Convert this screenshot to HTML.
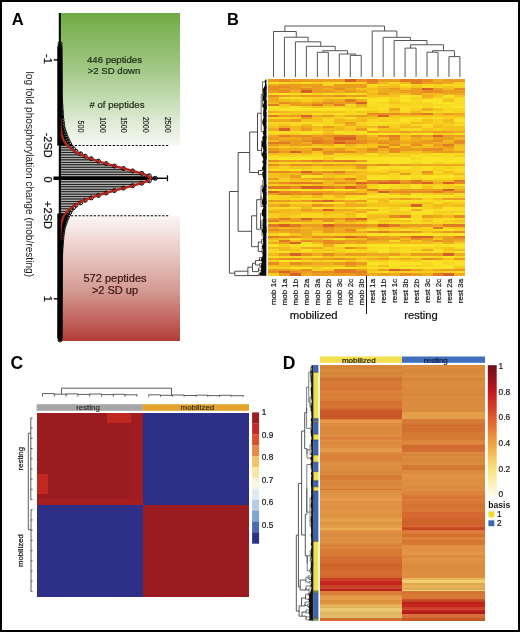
<!DOCTYPE html>
<html><head><meta charset="utf-8"><style>html,body{margin:0;padding:0;background:#fff;}body{width:520px;height:632px;position:relative;overflow:hidden;font-family:"Liberation Sans", sans-serif;}</style></head><body>
<svg width="520" height="632" viewBox="0 0 520 632" style="position:absolute;left:0;top:0;will-change:transform;font-family:'Liberation Sans', sans-serif">
<rect x="0.00" y="0.00" width="520.00" height="632.00" fill="#fff"/>
<defs><linearGradient id="gG" x1="0" y1="0" x2="0" y2="1"><stop offset="0" stop-color="#70ab44"/><stop offset="0.45" stop-color="#a5ca8a"/><stop offset="0.8" stop-color="#dce9d1"/><stop offset="1" stop-color="#f6f9f3"/></linearGradient><linearGradient id="gR" x1="0" y1="0" x2="0" y2="1"><stop offset="0" stop-color="#fbf6f5"/><stop offset="0.25" stop-color="#ecd0cc"/><stop offset="0.6" stop-color="#d49a92"/><stop offset="1" stop-color="#b43c37"/></linearGradient></defs>
<rect x="60.00" y="13.00" width="120.00" height="132.50" fill="url(#gG)"/>
<rect x="60.00" y="215.70" width="120.00" height="125.30" fill="url(#gR)"/>
<text x="114.50" y="62.80" font-size="9.60" text-anchor="middle" font-weight="normal" fill="#1d2a14" stroke="#1d2a14" stroke-width="0.22">446 peptides</text>
<text x="114.00" y="73.90" font-size="9.60" text-anchor="middle" font-weight="normal" fill="#1d2a14" stroke="#1d2a14" stroke-width="0.22">&gt;2 SD down</text>
<text x="115.00" y="281.80" font-size="11.00" text-anchor="middle" font-weight="normal" fill="#3a1512" stroke="#3a1512" stroke-width="0.22">572 peptides</text>
<text x="115.00" y="293.90" font-size="11.00" text-anchor="middle" font-weight="normal" fill="#3a1512" stroke="#3a1512" stroke-width="0.22">&gt;2 SD up</text>
<text x="117.00" y="108.10" font-size="9.60" text-anchor="middle" font-weight="normal" fill="#1d2a14" stroke="#1d2a14" stroke-width="0.22"># of peptides</text>
<text x="0.00" y="0.00" font-size="8.20" text-anchor="end" font-weight="normal" fill="#1a1a1a" transform="translate(78.20 132.70) rotate(90)" textLength="12.3" lengthAdjust="spacingAndGlyphs" stroke="#1a1a1a" stroke-width="0.12">500</text>
<text x="0.00" y="0.00" font-size="8.20" text-anchor="end" font-weight="normal" fill="#1a1a1a" transform="translate(99.80 132.70) rotate(90)" textLength="15.8" lengthAdjust="spacingAndGlyphs" stroke="#1a1a1a" stroke-width="0.12">1000</text>
<text x="0.00" y="0.00" font-size="8.20" text-anchor="end" font-weight="normal" fill="#1a1a1a" transform="translate(121.40 132.70) rotate(90)" textLength="15.8" lengthAdjust="spacingAndGlyphs" stroke="#1a1a1a" stroke-width="0.12">1500</text>
<text x="0.00" y="0.00" font-size="8.20" text-anchor="end" font-weight="normal" fill="#1a1a1a" transform="translate(143.00 132.70) rotate(90)" textLength="15.8" lengthAdjust="spacingAndGlyphs" stroke="#1a1a1a" stroke-width="0.12">2000</text>
<text x="0.00" y="0.00" font-size="8.20" text-anchor="end" font-weight="normal" fill="#1a1a1a" transform="translate(164.60 132.70) rotate(90)" textLength="15.8" lengthAdjust="spacingAndGlyphs" stroke="#1a1a1a" stroke-width="0.12">2500</text>
<line x1="71.00" y1="145.50" x2="169.00" y2="145.50" stroke="#000" stroke-width="1.10" stroke-dasharray="2.2 1.6"/>
<line x1="71.00" y1="215.70" x2="169.00" y2="215.70" stroke="#000" stroke-width="1.10" stroke-dasharray="2.2 1.6"/>
<rect x="60.00" y="98.68" width="0.56" height="2.45" fill="#ababab" stroke="#111" stroke-width="0.8"/>
<rect x="60.00" y="101.13" width="0.73" height="2.45" fill="#ababab" stroke="#111" stroke-width="0.8"/>
<rect x="60.00" y="103.58" width="0.90" height="2.45" fill="#ababab" stroke="#111" stroke-width="0.8"/>
<rect x="60.00" y="106.03" width="1.06" height="2.45" fill="#ababab" stroke="#111" stroke-width="0.8"/>
<rect x="60.00" y="108.48" width="1.23" height="2.45" fill="#ababab" stroke="#111" stroke-width="0.8"/>
<rect x="60.00" y="110.93" width="1.40" height="2.45" fill="#ababab" stroke="#111" stroke-width="0.8"/>
<rect x="60.00" y="113.38" width="1.56" height="2.45" fill="#ababab" stroke="#111" stroke-width="0.8"/>
<rect x="60.00" y="115.83" width="1.73" height="2.45" fill="#ababab" stroke="#111" stroke-width="0.8"/>
<rect x="60.00" y="118.28" width="1.98" height="2.45" fill="#ababab" stroke="#111" stroke-width="0.8"/>
<rect x="60.00" y="120.73" width="2.31" height="2.45" fill="#ababab" stroke="#111" stroke-width="0.8"/>
<rect x="60.00" y="123.18" width="2.65" height="2.45" fill="#ababab" stroke="#111" stroke-width="0.8"/>
<rect x="60.00" y="125.63" width="2.98" height="2.45" fill="#ababab" stroke="#111" stroke-width="0.8"/>
<rect x="60.00" y="128.08" width="3.52" height="2.45" fill="#ababab" stroke="#111" stroke-width="0.8"/>
<rect x="60.00" y="130.53" width="4.35" height="2.45" fill="#ababab" stroke="#111" stroke-width="0.8"/>
<rect x="60.00" y="132.98" width="5.19" height="2.45" fill="#ababab" stroke="#111" stroke-width="0.8"/>
<rect x="60.00" y="135.43" width="6.06" height="2.45" fill="#ababab" stroke="#111" stroke-width="0.8"/>
<rect x="60.00" y="137.88" width="7.17" height="2.45" fill="#ababab" stroke="#111" stroke-width="0.8"/>
<rect x="60.00" y="140.33" width="8.31" height="2.45" fill="#ababab" stroke="#111" stroke-width="0.8"/>
<rect x="60.00" y="142.78" width="9.64" height="2.45" fill="#ababab" stroke="#111" stroke-width="0.8"/>
<rect x="60.00" y="145.23" width="11.05" height="2.45" fill="#ababab" stroke="#111" stroke-width="0.8"/>
<rect x="60.00" y="147.68" width="13.49" height="2.45" fill="#ababab" stroke="#111" stroke-width="0.8"/>
<rect x="60.00" y="150.13" width="15.98" height="2.45" fill="#ababab" stroke="#111" stroke-width="0.8"/>
<rect x="60.00" y="152.58" width="20.62" height="2.45" fill="#ababab" stroke="#111" stroke-width="0.8"/>
<rect x="60.00" y="155.03" width="25.25" height="2.45" fill="#ababab" stroke="#111" stroke-width="0.8"/>
<rect x="60.00" y="157.48" width="31.31" height="2.45" fill="#ababab" stroke="#111" stroke-width="0.8"/>
<rect x="60.00" y="159.93" width="38.43" height="2.45" fill="#ababab" stroke="#111" stroke-width="0.8"/>
<rect x="60.00" y="162.38" width="46.16" height="2.45" fill="#ababab" stroke="#111" stroke-width="0.8"/>
<rect x="60.00" y="164.83" width="54.44" height="2.45" fill="#ababab" stroke="#111" stroke-width="0.8"/>
<rect x="60.00" y="167.28" width="63.47" height="2.45" fill="#ababab" stroke="#111" stroke-width="0.8"/>
<rect x="60.00" y="169.73" width="72.68" height="2.45" fill="#ababab" stroke="#111" stroke-width="0.8"/>
<rect x="60.00" y="172.18" width="81.80" height="2.45" fill="#ababab" stroke="#111" stroke-width="0.8"/>
<rect x="60.00" y="174.63" width="89.33" height="2.45" fill="#ababab" stroke="#111" stroke-width="0.8"/>
<rect x="60.00" y="177.08" width="95.34" height="2.45" fill="#ababab" stroke="#111" stroke-width="0.8"/>
<rect x="60.00" y="179.53" width="89.33" height="2.45" fill="#ababab" stroke="#111" stroke-width="0.8"/>
<rect x="60.00" y="181.97" width="81.80" height="2.45" fill="#ababab" stroke="#111" stroke-width="0.8"/>
<rect x="60.00" y="184.42" width="72.68" height="2.45" fill="#ababab" stroke="#111" stroke-width="0.8"/>
<rect x="60.00" y="186.87" width="63.47" height="2.45" fill="#ababab" stroke="#111" stroke-width="0.8"/>
<rect x="60.00" y="189.32" width="54.44" height="2.45" fill="#ababab" stroke="#111" stroke-width="0.8"/>
<rect x="60.00" y="191.77" width="46.16" height="2.45" fill="#ababab" stroke="#111" stroke-width="0.8"/>
<rect x="60.00" y="194.22" width="38.43" height="2.45" fill="#ababab" stroke="#111" stroke-width="0.8"/>
<rect x="60.00" y="196.67" width="31.31" height="2.45" fill="#ababab" stroke="#111" stroke-width="0.8"/>
<rect x="60.00" y="199.12" width="25.25" height="2.45" fill="#ababab" stroke="#111" stroke-width="0.8"/>
<rect x="60.00" y="201.57" width="20.62" height="2.45" fill="#ababab" stroke="#111" stroke-width="0.8"/>
<rect x="60.00" y="204.02" width="15.98" height="2.45" fill="#ababab" stroke="#111" stroke-width="0.8"/>
<rect x="60.00" y="206.47" width="13.49" height="2.45" fill="#ababab" stroke="#111" stroke-width="0.8"/>
<rect x="60.00" y="208.92" width="11.05" height="2.45" fill="#ababab" stroke="#111" stroke-width="0.8"/>
<rect x="60.00" y="211.37" width="9.64" height="2.45" fill="#ababab" stroke="#111" stroke-width="0.8"/>
<rect x="60.00" y="213.82" width="8.31" height="2.45" fill="#ababab" stroke="#111" stroke-width="0.8"/>
<rect x="60.00" y="216.27" width="7.17" height="2.45" fill="#ababab" stroke="#111" stroke-width="0.8"/>
<rect x="60.00" y="218.72" width="6.06" height="2.45" fill="#ababab" stroke="#111" stroke-width="0.8"/>
<rect x="60.00" y="221.17" width="5.19" height="2.45" fill="#ababab" stroke="#111" stroke-width="0.8"/>
<rect x="60.00" y="223.62" width="4.35" height="2.45" fill="#ababab" stroke="#111" stroke-width="0.8"/>
<rect x="60.00" y="226.07" width="3.52" height="2.45" fill="#ababab" stroke="#111" stroke-width="0.8"/>
<rect x="60.00" y="228.52" width="2.98" height="2.45" fill="#ababab" stroke="#111" stroke-width="0.8"/>
<rect x="60.00" y="230.97" width="2.65" height="2.45" fill="#ababab" stroke="#111" stroke-width="0.8"/>
<rect x="60.00" y="233.42" width="2.31" height="2.45" fill="#ababab" stroke="#111" stroke-width="0.8"/>
<rect x="60.00" y="235.87" width="1.98" height="2.45" fill="#ababab" stroke="#111" stroke-width="0.8"/>
<rect x="60.00" y="238.32" width="1.73" height="2.45" fill="#ababab" stroke="#111" stroke-width="0.8"/>
<rect x="60.00" y="240.77" width="1.56" height="2.45" fill="#ababab" stroke="#111" stroke-width="0.8"/>
<rect x="60.00" y="243.22" width="1.40" height="2.45" fill="#ababab" stroke="#111" stroke-width="0.8"/>
<rect x="60.00" y="245.67" width="1.23" height="2.45" fill="#ababab" stroke="#111" stroke-width="0.8"/>
<rect x="60.00" y="248.12" width="1.06" height="2.45" fill="#ababab" stroke="#111" stroke-width="0.8"/>
<rect x="60.00" y="250.57" width="0.90" height="2.45" fill="#ababab" stroke="#111" stroke-width="0.8"/>
<rect x="60.00" y="253.02" width="0.73" height="2.45" fill="#ababab" stroke="#111" stroke-width="0.8"/>
<rect x="60.00" y="255.47" width="0.56" height="2.45" fill="#ababab" stroke="#111" stroke-width="0.8"/>
<path d="M57.3,47 Q59.8,42.5 62.3,47 L62.5,120 L63.5,132 L65.2,140 L66,145.5 L57.3,145.5 Z" fill="#000"/>
<path d="M57.3,213.5 L67.5,213.5 L66.5,221 L64.3,229 L62.9,238 L62.5,338 Q59.8,342.5 57.3,338 Z" fill="#000"/>
<circle cx="60.04" cy="43.55" r="2.0" fill="none" stroke="#000" stroke-width="1.0"/>
<circle cx="60.06" cy="46.00" r="2.0" fill="none" stroke="#000" stroke-width="1.0"/>
<circle cx="60.08" cy="48.45" r="2.0" fill="none" stroke="#000" stroke-width="1.0"/>
<circle cx="60.10" cy="50.90" r="2.0" fill="none" stroke="#000" stroke-width="1.0"/>
<circle cx="60.11" cy="53.35" r="2.0" fill="none" stroke="#000" stroke-width="1.0"/>
<circle cx="60.13" cy="55.80" r="2.0" fill="none" stroke="#000" stroke-width="1.0"/>
<circle cx="60.15" cy="58.25" r="2.0" fill="none" stroke="#000" stroke-width="1.0"/>
<circle cx="60.17" cy="60.70" r="2.0" fill="none" stroke="#000" stroke-width="1.0"/>
<circle cx="60.19" cy="63.15" r="2.0" fill="none" stroke="#000" stroke-width="1.0"/>
<circle cx="60.21" cy="65.60" r="2.0" fill="none" stroke="#000" stroke-width="1.0"/>
<circle cx="60.23" cy="68.05" r="2.0" fill="none" stroke="#000" stroke-width="1.0"/>
<circle cx="60.24" cy="70.50" r="2.0" fill="none" stroke="#000" stroke-width="1.0"/>
<circle cx="60.26" cy="72.95" r="2.0" fill="none" stroke="#000" stroke-width="1.0"/>
<circle cx="60.28" cy="75.40" r="2.0" fill="none" stroke="#000" stroke-width="1.0"/>
<circle cx="60.30" cy="77.85" r="2.0" fill="none" stroke="#000" stroke-width="1.0"/>
<circle cx="60.32" cy="80.30" r="2.0" fill="none" stroke="#000" stroke-width="1.0"/>
<circle cx="60.34" cy="82.75" r="2.0" fill="none" stroke="#000" stroke-width="1.0"/>
<circle cx="60.35" cy="85.20" r="2.0" fill="none" stroke="#000" stroke-width="1.0"/>
<circle cx="60.37" cy="87.65" r="2.0" fill="none" stroke="#000" stroke-width="1.0"/>
<circle cx="60.39" cy="90.10" r="2.0" fill="none" stroke="#000" stroke-width="1.0"/>
<circle cx="60.41" cy="92.55" r="2.0" fill="none" stroke="#000" stroke-width="1.0"/>
<circle cx="60.43" cy="95.00" r="2.0" fill="none" stroke="#000" stroke-width="1.0"/>
<circle cx="60.45" cy="97.45" r="2.0" fill="none" stroke="#000" stroke-width="1.0"/>
<circle cx="60.56" cy="99.90" r="2.0" fill="none" stroke="#000" stroke-width="1.0"/>
<circle cx="60.73" cy="102.35" r="2.0" fill="none" stroke="#000" stroke-width="1.0"/>
<circle cx="60.90" cy="104.80" r="2.0" fill="none" stroke="#000" stroke-width="1.0"/>
<circle cx="61.06" cy="107.25" r="2.0" fill="none" stroke="#000" stroke-width="1.0"/>
<circle cx="61.23" cy="109.70" r="2.0" fill="none" stroke="#000" stroke-width="1.0"/>
<circle cx="61.40" cy="112.15" r="2.0" fill="none" stroke="#000" stroke-width="1.0"/>
<circle cx="61.56" cy="114.60" r="2.0" fill="none" stroke="#000" stroke-width="1.0"/>
<circle cx="61.73" cy="117.05" r="2.0" fill="none" stroke="#000" stroke-width="1.0"/>
<circle cx="61.98" cy="119.50" r="2.0" fill="none" stroke="#000" stroke-width="1.0"/>
<circle cx="62.31" cy="121.95" r="2.0" fill="none" stroke="#000" stroke-width="1.0"/>
<circle cx="62.65" cy="124.40" r="2.0" fill="none" stroke="#000" stroke-width="1.0"/>
<circle cx="62.98" cy="126.85" r="2.0" fill="none" stroke="#000" stroke-width="1.0"/>
<circle cx="63.52" cy="129.30" r="2.0" fill="none" stroke="#000" stroke-width="1.0"/>
<circle cx="64.35" cy="131.75" r="2.0" fill="none" stroke="#000" stroke-width="1.0"/>
<circle cx="65.19" cy="134.20" r="2.0" fill="none" stroke="#000" stroke-width="1.0"/>
<circle cx="66.06" cy="136.65" r="2.0" fill="none" stroke="#000" stroke-width="1.0"/>
<circle cx="67.17" cy="139.10" r="2.0" fill="none" stroke="#000" stroke-width="1.0"/>
<circle cx="68.31" cy="141.55" r="2.0" fill="none" stroke="#000" stroke-width="1.0"/>
<circle cx="69.64" cy="144.00" r="2.0" fill="none" stroke="#000" stroke-width="1.0"/>
<circle cx="71.05" cy="146.45" r="2.0" fill="none" stroke="#000" stroke-width="1.0"/>
<circle cx="73.49" cy="148.90" r="2.0" fill="none" stroke="#000" stroke-width="1.0"/>
<circle cx="75.98" cy="151.35" r="2.0" fill="none" stroke="#000" stroke-width="1.0"/>
<circle cx="80.62" cy="153.80" r="2.0" fill="none" stroke="#000" stroke-width="1.0"/>
<circle cx="85.25" cy="156.25" r="2.0" fill="none" stroke="#000" stroke-width="1.0"/>
<circle cx="91.31" cy="158.70" r="2.0" fill="none" stroke="#000" stroke-width="1.0"/>
<circle cx="98.43" cy="161.15" r="2.0" fill="none" stroke="#000" stroke-width="1.0"/>
<circle cx="106.16" cy="163.60" r="2.0" fill="none" stroke="#000" stroke-width="1.0"/>
<circle cx="114.44" cy="166.05" r="2.0" fill="none" stroke="#000" stroke-width="1.0"/>
<circle cx="123.47" cy="168.50" r="2.0" fill="none" stroke="#000" stroke-width="1.0"/>
<circle cx="132.68" cy="170.95" r="2.0" fill="none" stroke="#000" stroke-width="1.0"/>
<circle cx="141.80" cy="173.40" r="2.0" fill="none" stroke="#000" stroke-width="1.0"/>
<circle cx="149.33" cy="175.85" r="2.0" fill="none" stroke="#000" stroke-width="1.0"/>
<circle cx="155.34" cy="178.30" r="2.0" fill="none" stroke="#000" stroke-width="1.0"/>
<circle cx="149.33" cy="180.75" r="2.0" fill="none" stroke="#000" stroke-width="1.0"/>
<circle cx="141.80" cy="183.20" r="2.0" fill="none" stroke="#000" stroke-width="1.0"/>
<circle cx="132.68" cy="185.65" r="2.0" fill="none" stroke="#000" stroke-width="1.0"/>
<circle cx="123.47" cy="188.10" r="2.0" fill="none" stroke="#000" stroke-width="1.0"/>
<circle cx="114.44" cy="190.55" r="2.0" fill="none" stroke="#000" stroke-width="1.0"/>
<circle cx="106.16" cy="193.00" r="2.0" fill="none" stroke="#000" stroke-width="1.0"/>
<circle cx="98.43" cy="195.45" r="2.0" fill="none" stroke="#000" stroke-width="1.0"/>
<circle cx="91.31" cy="197.90" r="2.0" fill="none" stroke="#000" stroke-width="1.0"/>
<circle cx="85.25" cy="200.35" r="2.0" fill="none" stroke="#000" stroke-width="1.0"/>
<circle cx="80.62" cy="202.80" r="2.0" fill="none" stroke="#000" stroke-width="1.0"/>
<circle cx="75.98" cy="205.25" r="2.0" fill="none" stroke="#000" stroke-width="1.0"/>
<circle cx="73.49" cy="207.70" r="2.0" fill="none" stroke="#000" stroke-width="1.0"/>
<circle cx="71.05" cy="210.15" r="2.0" fill="none" stroke="#000" stroke-width="1.0"/>
<circle cx="69.64" cy="212.60" r="2.0" fill="none" stroke="#000" stroke-width="1.0"/>
<circle cx="68.31" cy="215.05" r="2.0" fill="none" stroke="#000" stroke-width="1.0"/>
<circle cx="67.17" cy="217.50" r="2.0" fill="none" stroke="#000" stroke-width="1.0"/>
<circle cx="66.06" cy="219.95" r="2.0" fill="none" stroke="#000" stroke-width="1.0"/>
<circle cx="65.19" cy="222.40" r="2.0" fill="none" stroke="#000" stroke-width="1.0"/>
<circle cx="64.35" cy="224.85" r="2.0" fill="none" stroke="#000" stroke-width="1.0"/>
<circle cx="63.52" cy="227.30" r="2.0" fill="none" stroke="#000" stroke-width="1.0"/>
<circle cx="62.98" cy="229.75" r="2.0" fill="none" stroke="#000" stroke-width="1.0"/>
<circle cx="62.65" cy="232.20" r="2.0" fill="none" stroke="#000" stroke-width="1.0"/>
<circle cx="62.31" cy="234.65" r="2.0" fill="none" stroke="#000" stroke-width="1.0"/>
<circle cx="61.98" cy="237.10" r="2.0" fill="none" stroke="#000" stroke-width="1.0"/>
<circle cx="61.73" cy="239.55" r="2.0" fill="none" stroke="#000" stroke-width="1.0"/>
<circle cx="61.56" cy="242.00" r="2.0" fill="none" stroke="#000" stroke-width="1.0"/>
<circle cx="61.40" cy="244.45" r="2.0" fill="none" stroke="#000" stroke-width="1.0"/>
<circle cx="61.23" cy="246.90" r="2.0" fill="none" stroke="#000" stroke-width="1.0"/>
<circle cx="61.06" cy="249.35" r="2.0" fill="none" stroke="#000" stroke-width="1.0"/>
<circle cx="60.90" cy="251.80" r="2.0" fill="none" stroke="#000" stroke-width="1.0"/>
<circle cx="60.73" cy="254.25" r="2.0" fill="none" stroke="#000" stroke-width="1.0"/>
<circle cx="60.56" cy="256.70" r="2.0" fill="none" stroke="#000" stroke-width="1.0"/>
<circle cx="60.45" cy="259.15" r="2.0" fill="none" stroke="#000" stroke-width="1.0"/>
<circle cx="60.43" cy="261.60" r="2.0" fill="none" stroke="#000" stroke-width="1.0"/>
<circle cx="60.41" cy="264.05" r="2.0" fill="none" stroke="#000" stroke-width="1.0"/>
<circle cx="60.39" cy="266.50" r="2.0" fill="none" stroke="#000" stroke-width="1.0"/>
<circle cx="60.37" cy="268.95" r="2.0" fill="none" stroke="#000" stroke-width="1.0"/>
<circle cx="60.35" cy="271.40" r="2.0" fill="none" stroke="#000" stroke-width="1.0"/>
<circle cx="60.34" cy="273.85" r="2.0" fill="none" stroke="#000" stroke-width="1.0"/>
<circle cx="60.32" cy="276.30" r="2.0" fill="none" stroke="#000" stroke-width="1.0"/>
<circle cx="60.30" cy="278.75" r="2.0" fill="none" stroke="#000" stroke-width="1.0"/>
<circle cx="60.28" cy="281.20" r="2.0" fill="none" stroke="#000" stroke-width="1.0"/>
<circle cx="60.26" cy="283.65" r="2.0" fill="none" stroke="#000" stroke-width="1.0"/>
<circle cx="60.24" cy="286.10" r="2.0" fill="none" stroke="#000" stroke-width="1.0"/>
<circle cx="60.23" cy="288.55" r="2.0" fill="none" stroke="#000" stroke-width="1.0"/>
<circle cx="60.21" cy="291.00" r="2.0" fill="none" stroke="#000" stroke-width="1.0"/>
<circle cx="60.19" cy="293.45" r="2.0" fill="none" stroke="#000" stroke-width="1.0"/>
<circle cx="60.17" cy="295.90" r="2.0" fill="none" stroke="#000" stroke-width="1.0"/>
<circle cx="60.15" cy="298.35" r="2.0" fill="none" stroke="#000" stroke-width="1.0"/>
<circle cx="60.13" cy="300.80" r="2.0" fill="none" stroke="#000" stroke-width="1.0"/>
<circle cx="60.11" cy="303.25" r="2.0" fill="none" stroke="#000" stroke-width="1.0"/>
<circle cx="60.10" cy="305.70" r="2.0" fill="none" stroke="#000" stroke-width="1.0"/>
<circle cx="60.08" cy="308.15" r="2.0" fill="none" stroke="#000" stroke-width="1.0"/>
<circle cx="60.06" cy="310.60" r="2.0" fill="none" stroke="#000" stroke-width="1.0"/>
<circle cx="60.04" cy="313.05" r="2.0" fill="none" stroke="#000" stroke-width="1.0"/>
<circle cx="60.02" cy="315.50" r="2.0" fill="none" stroke="#000" stroke-width="1.0"/>
<circle cx="60.00" cy="317.95" r="2.0" fill="none" stroke="#000" stroke-width="1.0"/>
<circle cx="60.00" cy="320.40" r="2.0" fill="none" stroke="#000" stroke-width="1.0"/>
<circle cx="60.00" cy="322.85" r="2.0" fill="none" stroke="#000" stroke-width="1.0"/>
<circle cx="60.00" cy="325.30" r="2.0" fill="none" stroke="#000" stroke-width="1.0"/>
<circle cx="60.00" cy="327.75" r="2.0" fill="none" stroke="#000" stroke-width="1.0"/>
<circle cx="60.00" cy="330.20" r="2.0" fill="none" stroke="#000" stroke-width="1.0"/>
<circle cx="60.00" cy="332.65" r="2.0" fill="none" stroke="#000" stroke-width="1.0"/>
<circle cx="60.00" cy="335.10" r="2.0" fill="none" stroke="#000" stroke-width="1.0"/>
<circle cx="60.00" cy="337.55" r="2.0" fill="none" stroke="#000" stroke-width="1.0"/>
<circle cx="60.00" cy="340.00" r="2.0" fill="none" stroke="#000" stroke-width="1.0"/>
<line x1="53.50" y1="178.30" x2="150.00" y2="178.30" stroke="#000" stroke-width="3.40"/>
<line x1="150.00" y1="178.30" x2="167.50" y2="178.30" stroke="#000" stroke-width="1.40"/>
<line x1="167.50" y1="175.30" x2="167.50" y2="181.30" stroke="#000" stroke-width="1.20"/>
<path d="M60.30,118.00L60.30,118.41L60.30,118.81L60.30,119.22L60.30,119.63L60.30,120.03L60.30,120.44L60.30,120.85L60.30,121.25L60.30,121.66L60.30,122.07L60.30,122.47L60.30,122.88L60.30,123.29L60.34,123.69L60.39,124.10L60.43,124.51L60.48,124.91L60.52,125.32L60.56,125.73L60.61,126.13L60.65,126.54L60.70,126.95L60.74,127.35L60.79,127.76L60.83,128.17L60.87,128.57L60.92,128.98L60.96,129.39L61.01,129.79L61.05,130.20L61.10,130.61L61.14,131.01L61.18,131.42L61.23,131.83L61.27,132.23L61.32,132.64L61.36,133.05L61.44,133.45L61.56,133.86L61.68,134.27L61.81,134.67L61.93,135.08L62.05,135.49L62.17,135.89L62.30,136.30L62.42,136.71L62.54,137.11L62.67,137.52L62.79,137.93L62.91,138.33L63.04,138.74L63.16,139.15L63.28,139.55L63.41,139.96L63.59,140.37L63.85,140.77L64.11,141.18L64.38,141.59L64.64,141.99L64.90,142.40L65.17,142.81L65.43,143.21L65.70,143.62L66.07,144.03L66.47,144.43L66.87,144.84L67.27,145.25L67.68,145.65L68.09,146.06L68.58,146.47L69.07,146.87L69.55,147.28L70.04,147.69L70.53,148.09L71.02,148.50L71.50,148.91L71.99,149.31L72.48,149.72L72.97,150.13L73.45,150.53L73.94,150.94L74.47,151.35L75.30,151.75L76.13,152.16L76.96,152.57L77.79,152.97L78.62,153.38L79.45,153.79L80.29,154.19L81.12,154.60L81.95,155.01L82.78,155.41L83.61,155.82L84.44,156.23L85.27,156.63L86.10,157.04L87.07,157.45L88.28,157.85L89.49,158.26L90.70,158.67L91.91,159.07L93.12,159.48L94.34,159.89L95.55,160.29L96.76,160.70L97.97,161.11L99.18,161.51L100.39,161.92L101.62,162.33L103.04,162.73L104.47,163.14L105.89,163.55L107.32,163.95L108.74,164.36L110.17,164.77L111.60,165.17L113.02,165.58L114.45,165.99L115.87,166.39L117.37,166.80L118.94,167.21L120.52,167.61L122.09,168.02L123.66,168.43L125.23,168.83L126.81,169.24L128.38,169.65L129.95,170.05L131.52,170.46L132.87,170.87L134.23,171.27L135.58,171.68L136.93,172.09L138.28,172.49L139.64,172.90L140.99,173.31L142.34,173.71L143.69,174.12L145.04,174.53L145.81,174.93L146.45,175.34L147.09,175.75L147.73,176.15L148.37,176.56L149.01,176.97L149.64,177.37L150.28,177.78L150.92,178.19L150.64,178.59L150.00,179.00L149.36,179.41L148.72,179.81L148.08,180.22L147.45,180.63L146.81,181.03L146.17,181.44L145.53,181.85L144.45,182.25L143.09,182.66L141.74,183.07L140.39,183.47L139.04,183.88L137.68,184.29L136.33,184.69L134.98,185.10L133.63,185.51L132.27,185.91L130.83,186.32L129.26,186.73L127.68,187.13L126.11,187.54L124.54,187.95L122.97,188.35L121.39,188.76L119.82,189.17L118.25,189.57L116.67,189.98L115.24,190.39L113.82,190.79L112.39,191.20L110.96,191.61L109.54,192.01L108.11,192.42L106.69,192.83L105.26,193.23L103.84,193.64L102.41,194.05L101.07,194.45L99.86,194.86L98.64,195.27L97.43,195.67L96.22,196.08L95.01,196.49L93.80,196.89L92.59,197.30L91.38,197.71L90.17,198.11L88.96,198.52L87.74,198.93L86.56,199.33L85.73,199.74L84.90,200.15L84.07,200.55L83.24,200.96L82.41,201.37L81.58,201.77L80.75,202.18L79.92,202.59L79.09,202.99L78.26,203.40L77.42,203.81L76.59,204.21L75.76,204.62L74.93,205.03L74.21,205.43L73.73,205.84L73.24,206.25L72.75,206.65L72.26,207.06L71.78,207.47L71.29,207.87L70.80,208.28L70.31,208.69L69.82,209.09L69.34,209.50L68.85,209.91L68.36,210.31L67.90,210.72L67.50,211.13L67.10,211.53L66.70,211.94L66.29,212.35L65.89,212.75L65.58,213.16L65.32,213.57L65.05,213.97L64.79,214.38L64.52,214.79L64.26,215.19L64.00,215.60L63.73,216.01L63.47,216.41L63.35,216.82L63.23,217.23L63.10,217.63L62.98,218.04L62.86,218.45L62.74,218.85L62.61,219.26L62.49,219.67L62.37,220.07L62.24,220.48L62.12,220.89L62.00,221.29L61.87,221.70L61.75,222.11L61.63,222.51L61.50,222.92L61.39,223.33L61.34,223.73L61.30,224.14L61.25,224.55L61.21,224.95L61.17,225.36L61.12,225.77L61.08,226.17L61.03,226.58L60.99,226.99L60.94,227.39L60.90,227.80L60.85,228.21L60.81,228.61L60.77,229.02L60.72,229.43L60.68,229.83L60.63,230.24L60.59,230.65L60.54,231.05L60.50,231.46L60.46,231.87L60.41,232.27L60.37,232.68L60.32,233.09L60.30,233.49L60.30,233.90L60.30,234.31L60.30,234.71L60.30,235.12L60.30,235.53L60.30,235.93L60.30,236.34L60.30,236.75L60.30,237.15L60.30,237.56L60.30,237.97L60.30,238.37L60.30,238.78L60.30,239.19L60.30,239.59L60.30,240.00" fill="none" stroke="#b3241f" stroke-width="2.3" stroke-linejoin="round"/>
<line x1="59.80" y1="13.00" x2="59.80" y2="341.00" stroke="#000" stroke-width="2.00"/>
<line x1="53.80" y1="59.90" x2="58.50" y2="59.90" stroke="#000" stroke-width="1.40"/>
<line x1="53.80" y1="178.30" x2="58.50" y2="178.30" stroke="#000" stroke-width="1.40"/>
<line x1="53.80" y1="298.80" x2="58.50" y2="298.80" stroke="#000" stroke-width="1.40"/>
<text x="0.00" y="0.00" font-size="11.00" text-anchor="middle" font-weight="normal" fill="#111" transform="translate(44.00 59.00) rotate(90)" stroke="#111" stroke-width="0.22">-1</text>
<text x="0.00" y="0.00" font-size="11.00" text-anchor="middle" font-weight="normal" fill="#111" transform="translate(44.00 145.20) rotate(90)" stroke="#111" stroke-width="0.22">-2SD</text>
<text x="0.00" y="0.00" font-size="11.00" text-anchor="middle" font-weight="normal" fill="#111" transform="translate(44.00 179.60) rotate(90)" stroke="#111" stroke-width="0.22">0</text>
<text x="0.00" y="0.00" font-size="11.00" text-anchor="middle" font-weight="normal" fill="#111" transform="translate(44.00 215.00) rotate(90)" stroke="#111" stroke-width="0.22">+2SD</text>
<text x="0.00" y="0.00" font-size="11.00" text-anchor="middle" font-weight="normal" fill="#111" transform="translate(44.00 298.80) rotate(90)" stroke="#111" stroke-width="0.22">1</text>
<text transform="translate(25.6 174.3) rotate(90)" x="0" y="0" font-size="10.4" text-anchor="middle" fill="#1a1a1a" textLength="205.5" lengthAdjust="spacingAndGlyphs">log fold phosphorylation change (mob/resting)</text>
<g shape-rendering="crispEdges">
<rect x="268.00" y="79.30" width="10.97" height="2.25" fill="#ea9c1e"/>
<rect x="278.97" y="79.30" width="10.97" height="2.25" fill="#e68c20"/>
<rect x="289.93" y="79.30" width="54.83" height="2.25" fill="#ea9c1e"/>
<rect x="344.77" y="79.30" width="10.97" height="2.25" fill="#d66028"/>
<rect x="355.73" y="79.30" width="10.97" height="2.25" fill="#e68c20"/>
<rect x="366.70" y="79.30" width="10.97" height="2.25" fill="#e07b23"/>
<rect x="377.67" y="79.30" width="21.93" height="2.25" fill="#ea9c1e"/>
<rect x="399.60" y="79.30" width="21.93" height="2.25" fill="#e07b23"/>
<rect x="421.53" y="79.30" width="10.97" height="2.25" fill="#e68c20"/>
<rect x="432.50" y="79.30" width="10.97" height="2.25" fill="#eeab1d"/>
<rect x="443.47" y="79.30" width="21.93" height="2.25" fill="#ea9c1e"/>
<rect x="268.00" y="81.53" width="10.97" height="2.25" fill="#f9de23"/>
<rect x="278.97" y="81.53" width="10.97" height="2.25" fill="#f8d720"/>
<rect x="289.93" y="81.53" width="10.97" height="2.25" fill="#f7cf1e"/>
<rect x="300.90" y="81.53" width="10.97" height="2.25" fill="#f9de23"/>
<rect x="311.87" y="81.53" width="10.97" height="2.25" fill="#f7cf1e"/>
<rect x="322.83" y="81.53" width="10.97" height="2.25" fill="#f8d720"/>
<rect x="333.80" y="81.53" width="10.97" height="2.25" fill="#f9de23"/>
<rect x="344.77" y="81.53" width="10.97" height="2.25" fill="#f8d720"/>
<rect x="355.73" y="81.53" width="10.97" height="2.25" fill="#f7cf1e"/>
<rect x="366.70" y="81.53" width="10.97" height="2.25" fill="#e68c20"/>
<rect x="377.67" y="81.53" width="10.97" height="2.25" fill="#f2ba1c"/>
<rect x="388.63" y="81.53" width="10.97" height="2.25" fill="#f8d720"/>
<rect x="399.60" y="81.53" width="10.97" height="2.25" fill="#f2ba1c"/>
<rect x="410.57" y="81.53" width="10.97" height="2.25" fill="#e07b23"/>
<rect x="421.53" y="81.53" width="21.93" height="2.25" fill="#ea9c1e"/>
<rect x="443.47" y="81.53" width="10.97" height="2.25" fill="#eeab1d"/>
<rect x="454.43" y="81.53" width="10.97" height="2.25" fill="#f7cf1e"/>
<rect x="268.00" y="83.76" width="10.97" height="2.25" fill="#eeab1d"/>
<rect x="278.97" y="83.76" width="43.87" height="2.25" fill="#ea9c1e"/>
<rect x="322.83" y="83.76" width="10.97" height="2.25" fill="#f7cf1e"/>
<rect x="333.80" y="83.76" width="32.90" height="2.25" fill="#ea9c1e"/>
<rect x="366.70" y="83.76" width="10.97" height="2.25" fill="#f9de23"/>
<rect x="377.67" y="83.76" width="10.97" height="2.25" fill="#f7cf1e"/>
<rect x="388.63" y="83.76" width="10.97" height="2.25" fill="#f4c41d"/>
<rect x="399.60" y="83.76" width="10.97" height="2.25" fill="#fae426"/>
<rect x="410.57" y="83.76" width="10.97" height="2.25" fill="#f7cf1e"/>
<rect x="421.53" y="83.76" width="10.97" height="2.25" fill="#f8d720"/>
<rect x="432.50" y="83.76" width="10.97" height="2.25" fill="#f7cf1e"/>
<rect x="443.47" y="83.76" width="10.97" height="2.25" fill="#f9de23"/>
<rect x="454.43" y="83.76" width="10.97" height="2.25" fill="#f8d720"/>
<rect x="268.00" y="86.00" width="21.93" height="2.25" fill="#e68c20"/>
<rect x="289.93" y="86.00" width="10.97" height="2.25" fill="#ea9c1e"/>
<rect x="300.90" y="86.00" width="10.97" height="2.25" fill="#eeab1d"/>
<rect x="311.87" y="86.00" width="54.83" height="2.25" fill="#ea9c1e"/>
<rect x="366.70" y="86.00" width="10.97" height="2.25" fill="#f7cf1e"/>
<rect x="377.67" y="86.00" width="21.93" height="2.25" fill="#f2ba1c"/>
<rect x="399.60" y="86.00" width="10.97" height="2.25" fill="#f7cf1e"/>
<rect x="410.57" y="86.00" width="10.97" height="2.25" fill="#f4c41d"/>
<rect x="421.53" y="86.00" width="10.97" height="2.25" fill="#f8d720"/>
<rect x="432.50" y="86.00" width="10.97" height="2.25" fill="#f7cf1e"/>
<rect x="443.47" y="86.00" width="10.97" height="2.25" fill="#f4c41d"/>
<rect x="454.43" y="86.00" width="10.97" height="2.25" fill="#f7cf1e"/>
<rect x="268.00" y="88.23" width="10.97" height="2.25" fill="#e68c20"/>
<rect x="278.97" y="88.23" width="21.93" height="2.25" fill="#ea9c1e"/>
<rect x="300.90" y="88.23" width="10.97" height="2.25" fill="#e68c20"/>
<rect x="311.87" y="88.23" width="10.97" height="2.25" fill="#ea9c1e"/>
<rect x="322.83" y="88.23" width="10.97" height="2.25" fill="#eeab1d"/>
<rect x="333.80" y="88.23" width="10.97" height="2.25" fill="#e68c20"/>
<rect x="344.77" y="88.23" width="10.97" height="2.25" fill="#eeab1d"/>
<rect x="355.73" y="88.23" width="10.97" height="2.25" fill="#f4c41d"/>
<rect x="366.70" y="88.23" width="10.97" height="2.25" fill="#f2ba1c"/>
<rect x="377.67" y="88.23" width="10.97" height="2.25" fill="#eeab1d"/>
<rect x="388.63" y="88.23" width="10.97" height="2.25" fill="#ea9c1e"/>
<rect x="399.60" y="88.23" width="10.97" height="2.25" fill="#f2ba1c"/>
<rect x="410.57" y="88.23" width="10.97" height="2.25" fill="#ea9c1e"/>
<rect x="421.53" y="88.23" width="10.97" height="2.25" fill="#d66028"/>
<rect x="432.50" y="88.23" width="10.97" height="2.25" fill="#ea9c1e"/>
<rect x="443.47" y="88.23" width="10.97" height="2.25" fill="#f2ba1c"/>
<rect x="454.43" y="88.23" width="10.97" height="2.25" fill="#e68c20"/>
<rect x="268.00" y="90.46" width="10.97" height="2.25" fill="#ea9c1e"/>
<rect x="278.97" y="90.46" width="10.97" height="2.25" fill="#e68c20"/>
<rect x="289.93" y="90.46" width="10.97" height="2.25" fill="#eeab1d"/>
<rect x="300.90" y="90.46" width="10.97" height="2.25" fill="#d66028"/>
<rect x="311.87" y="90.46" width="21.93" height="2.25" fill="#ea9c1e"/>
<rect x="333.80" y="90.46" width="10.97" height="2.25" fill="#eeab1d"/>
<rect x="344.77" y="90.46" width="10.97" height="2.25" fill="#ea9c1e"/>
<rect x="355.73" y="90.46" width="10.97" height="2.25" fill="#eeab1d"/>
<rect x="366.70" y="90.46" width="10.97" height="2.25" fill="#f4c41d"/>
<rect x="377.67" y="90.46" width="21.93" height="2.25" fill="#eeab1d"/>
<rect x="399.60" y="90.46" width="21.93" height="2.25" fill="#ea9c1e"/>
<rect x="421.53" y="90.46" width="21.93" height="2.25" fill="#e68c20"/>
<rect x="443.47" y="90.46" width="21.93" height="2.25" fill="#ea9c1e"/>
<rect x="268.00" y="92.69" width="10.97" height="2.25" fill="#f9de23"/>
<rect x="278.97" y="92.69" width="10.97" height="2.25" fill="#fae426"/>
<rect x="289.93" y="92.69" width="10.97" height="2.25" fill="#f8d720"/>
<rect x="300.90" y="92.69" width="10.97" height="2.25" fill="#fae426"/>
<rect x="311.87" y="92.69" width="10.97" height="2.25" fill="#f7cf1e"/>
<rect x="322.83" y="92.69" width="10.97" height="2.25" fill="#f9de23"/>
<rect x="333.80" y="92.69" width="10.97" height="2.25" fill="#f8d720"/>
<rect x="344.77" y="92.69" width="10.97" height="2.25" fill="#fae426"/>
<rect x="355.73" y="92.69" width="10.97" height="2.25" fill="#f8d720"/>
<rect x="366.70" y="92.69" width="10.97" height="2.25" fill="#f2ba1c"/>
<rect x="377.67" y="92.69" width="10.97" height="2.25" fill="#ea9c1e"/>
<rect x="388.63" y="92.69" width="21.93" height="2.25" fill="#f2ba1c"/>
<rect x="410.57" y="92.69" width="10.97" height="2.25" fill="#ea9c1e"/>
<rect x="421.53" y="92.69" width="21.93" height="2.25" fill="#f2ba1c"/>
<rect x="443.47" y="92.69" width="21.93" height="2.25" fill="#eeab1d"/>
<rect x="268.00" y="94.92" width="10.97" height="2.25" fill="#e68c20"/>
<rect x="278.97" y="94.92" width="10.97" height="2.25" fill="#ea9c1e"/>
<rect x="289.93" y="94.92" width="10.97" height="2.25" fill="#eeab1d"/>
<rect x="300.90" y="94.92" width="32.90" height="2.25" fill="#ea9c1e"/>
<rect x="333.80" y="94.92" width="10.97" height="2.25" fill="#e68c20"/>
<rect x="344.77" y="94.92" width="21.93" height="2.25" fill="#ea9c1e"/>
<rect x="366.70" y="94.92" width="32.90" height="2.25" fill="#f4c41d"/>
<rect x="399.60" y="94.92" width="10.97" height="2.25" fill="#fae426"/>
<rect x="410.57" y="94.92" width="10.97" height="2.25" fill="#fae426"/>
<rect x="421.53" y="94.92" width="10.97" height="2.25" fill="#eeab1d"/>
<rect x="432.50" y="94.92" width="10.97" height="2.25" fill="#f4c41d"/>
<rect x="443.47" y="94.92" width="10.97" height="2.25" fill="#fae426"/>
<rect x="454.43" y="94.92" width="10.97" height="2.25" fill="#f4c41d"/>
<rect x="268.00" y="97.15" width="10.97" height="2.25" fill="#eeab1d"/>
<rect x="278.97" y="97.15" width="10.97" height="2.25" fill="#f9de23"/>
<rect x="289.93" y="97.15" width="10.97" height="2.25" fill="#fae426"/>
<rect x="300.90" y="97.15" width="10.97" height="2.25" fill="#f8d720"/>
<rect x="311.87" y="97.15" width="21.93" height="2.25" fill="#f7cf1e"/>
<rect x="333.80" y="97.15" width="21.93" height="2.25" fill="#f8d720"/>
<rect x="355.73" y="97.15" width="10.97" height="2.25" fill="#fae426"/>
<rect x="366.70" y="97.15" width="10.97" height="2.25" fill="#f8d720"/>
<rect x="377.67" y="97.15" width="10.97" height="2.25" fill="#f9de23"/>
<rect x="388.63" y="97.15" width="10.97" height="2.25" fill="#f8d720"/>
<rect x="399.60" y="97.15" width="10.97" height="2.25" fill="#f9de23"/>
<rect x="410.57" y="97.15" width="10.97" height="2.25" fill="#f7cf1e"/>
<rect x="421.53" y="97.15" width="10.97" height="2.25" fill="#f2ba1c"/>
<rect x="432.50" y="97.15" width="32.90" height="2.25" fill="#f8d720"/>
<rect x="268.00" y="99.39" width="10.97" height="2.25" fill="#eeab1d"/>
<rect x="278.97" y="99.39" width="10.97" height="2.25" fill="#f2ba1c"/>
<rect x="289.93" y="99.39" width="10.97" height="2.25" fill="#f4c41d"/>
<rect x="300.90" y="99.39" width="10.97" height="2.25" fill="#f7cf1e"/>
<rect x="311.87" y="99.39" width="10.97" height="2.25" fill="#f4c41d"/>
<rect x="322.83" y="99.39" width="21.93" height="2.25" fill="#eeab1d"/>
<rect x="344.77" y="99.39" width="10.97" height="2.25" fill="#e07b23"/>
<rect x="355.73" y="99.39" width="10.97" height="2.25" fill="#eeab1d"/>
<rect x="366.70" y="99.39" width="10.97" height="2.25" fill="#fae426"/>
<rect x="377.67" y="99.39" width="10.97" height="2.25" fill="#fae426"/>
<rect x="388.63" y="99.39" width="10.97" height="2.25" fill="#f7cf1e"/>
<rect x="399.60" y="99.39" width="10.97" height="2.25" fill="#fae426"/>
<rect x="410.57" y="99.39" width="10.97" height="2.25" fill="#f8d720"/>
<rect x="421.53" y="99.39" width="21.93" height="2.25" fill="#fae426"/>
<rect x="443.47" y="99.39" width="10.97" height="2.25" fill="#f4c41d"/>
<rect x="454.43" y="99.39" width="10.97" height="2.25" fill="#f9de23"/>
<rect x="268.00" y="101.62" width="10.97" height="2.25" fill="#f2ba1c"/>
<rect x="278.97" y="101.62" width="10.97" height="2.25" fill="#e68c20"/>
<rect x="289.93" y="101.62" width="10.97" height="2.25" fill="#ea9c1e"/>
<rect x="300.90" y="101.62" width="10.97" height="2.25" fill="#eeab1d"/>
<rect x="311.87" y="101.62" width="10.97" height="2.25" fill="#ea9c1e"/>
<rect x="322.83" y="101.62" width="10.97" height="2.25" fill="#e68c20"/>
<rect x="333.80" y="101.62" width="21.93" height="2.25" fill="#ea9c1e"/>
<rect x="355.73" y="101.62" width="10.97" height="2.25" fill="#d66028"/>
<rect x="366.70" y="101.62" width="10.97" height="2.25" fill="#f9de23"/>
<rect x="377.67" y="101.62" width="10.97" height="2.25" fill="#f8d720"/>
<rect x="388.63" y="101.62" width="10.97" height="2.25" fill="#f4c41d"/>
<rect x="399.60" y="101.62" width="10.97" height="2.25" fill="#f7cf1e"/>
<rect x="410.57" y="101.62" width="21.93" height="2.25" fill="#f8d720"/>
<rect x="432.50" y="101.62" width="10.97" height="2.25" fill="#fae426"/>
<rect x="443.47" y="101.62" width="10.97" height="2.25" fill="#fae426"/>
<rect x="454.43" y="101.62" width="10.97" height="2.25" fill="#f9de23"/>
<rect x="268.00" y="103.85" width="10.97" height="2.25" fill="#e07b23"/>
<rect x="278.97" y="103.85" width="10.97" height="2.25" fill="#f4c41d"/>
<rect x="289.93" y="103.85" width="21.93" height="2.25" fill="#ea9c1e"/>
<rect x="311.87" y="103.85" width="10.97" height="2.25" fill="#e07b23"/>
<rect x="322.83" y="103.85" width="10.97" height="2.25" fill="#eeab1d"/>
<rect x="333.80" y="103.85" width="10.97" height="2.25" fill="#e07b23"/>
<rect x="344.77" y="103.85" width="10.97" height="2.25" fill="#f8d720"/>
<rect x="355.73" y="103.85" width="10.97" height="2.25" fill="#eeab1d"/>
<rect x="366.70" y="103.85" width="21.93" height="2.25" fill="#f9de23"/>
<rect x="388.63" y="103.85" width="54.83" height="2.25" fill="#f8d720"/>
<rect x="443.47" y="103.85" width="21.93" height="2.25" fill="#f9de23"/>
<rect x="268.00" y="106.08" width="10.97" height="2.25" fill="#fae426"/>
<rect x="278.97" y="106.08" width="10.97" height="2.25" fill="#f7cf1e"/>
<rect x="289.93" y="106.08" width="10.97" height="2.25" fill="#fae426"/>
<rect x="300.90" y="106.08" width="10.97" height="2.25" fill="#f7cf1e"/>
<rect x="311.87" y="106.08" width="10.97" height="2.25" fill="#f4c41d"/>
<rect x="322.83" y="106.08" width="32.90" height="2.25" fill="#f7cf1e"/>
<rect x="355.73" y="106.08" width="10.97" height="2.25" fill="#f4c41d"/>
<rect x="366.70" y="106.08" width="10.97" height="2.25" fill="#f8d720"/>
<rect x="377.67" y="106.08" width="10.97" height="2.25" fill="#f9de23"/>
<rect x="388.63" y="106.08" width="10.97" height="2.25" fill="#f8d720"/>
<rect x="399.60" y="106.08" width="21.93" height="2.25" fill="#f9de23"/>
<rect x="421.53" y="106.08" width="10.97" height="2.25" fill="#f8d720"/>
<rect x="432.50" y="106.08" width="10.97" height="2.25" fill="#fae426"/>
<rect x="443.47" y="106.08" width="10.97" height="2.25" fill="#f9de23"/>
<rect x="454.43" y="106.08" width="10.97" height="2.25" fill="#fae426"/>
<rect x="268.00" y="108.31" width="10.97" height="2.25" fill="#f9de23"/>
<rect x="278.97" y="108.31" width="10.97" height="2.25" fill="#fae426"/>
<rect x="289.93" y="108.31" width="10.97" height="2.25" fill="#fae426"/>
<rect x="300.90" y="108.31" width="10.97" height="2.25" fill="#fae426"/>
<rect x="311.87" y="108.31" width="10.97" height="2.25" fill="#fae426"/>
<rect x="322.83" y="108.31" width="10.97" height="2.25" fill="#fae426"/>
<rect x="333.80" y="108.31" width="10.97" height="2.25" fill="#fae426"/>
<rect x="344.77" y="108.31" width="10.97" height="2.25" fill="#f9de23"/>
<rect x="355.73" y="108.31" width="10.97" height="2.25" fill="#fae426"/>
<rect x="366.70" y="108.31" width="10.97" height="2.25" fill="#f8d720"/>
<rect x="377.67" y="108.31" width="10.97" height="2.25" fill="#f9de23"/>
<rect x="388.63" y="108.31" width="10.97" height="2.25" fill="#eeab1d"/>
<rect x="399.60" y="108.31" width="10.97" height="2.25" fill="#f9de23"/>
<rect x="410.57" y="108.31" width="10.97" height="2.25" fill="#f7cf1e"/>
<rect x="421.53" y="108.31" width="10.97" height="2.25" fill="#eeab1d"/>
<rect x="432.50" y="108.31" width="10.97" height="2.25" fill="#f4c41d"/>
<rect x="443.47" y="108.31" width="21.93" height="2.25" fill="#f8d720"/>
<rect x="268.00" y="110.55" width="10.97" height="2.25" fill="#eeab1d"/>
<rect x="278.97" y="110.55" width="10.97" height="2.25" fill="#f2ba1c"/>
<rect x="289.93" y="110.55" width="54.83" height="2.25" fill="#f4c41d"/>
<rect x="344.77" y="110.55" width="10.97" height="2.25" fill="#f8d720"/>
<rect x="355.73" y="110.55" width="21.93" height="2.25" fill="#f4c41d"/>
<rect x="377.67" y="110.55" width="10.97" height="2.25" fill="#f8d720"/>
<rect x="388.63" y="110.55" width="10.97" height="2.25" fill="#f4c41d"/>
<rect x="399.60" y="110.55" width="10.97" height="2.25" fill="#f8d720"/>
<rect x="410.57" y="110.55" width="10.97" height="2.25" fill="#f2ba1c"/>
<rect x="421.53" y="110.55" width="21.93" height="2.25" fill="#f8d720"/>
<rect x="443.47" y="110.55" width="10.97" height="2.25" fill="#f9de23"/>
<rect x="454.43" y="110.55" width="10.97" height="2.25" fill="#f7cf1e"/>
<rect x="268.00" y="112.78" width="10.97" height="2.25" fill="#f9de23"/>
<rect x="278.97" y="112.78" width="10.97" height="2.25" fill="#f7cf1e"/>
<rect x="289.93" y="112.78" width="10.97" height="2.25" fill="#f4c41d"/>
<rect x="300.90" y="112.78" width="10.97" height="2.25" fill="#f7cf1e"/>
<rect x="311.87" y="112.78" width="10.97" height="2.25" fill="#f9de23"/>
<rect x="322.83" y="112.78" width="10.97" height="2.25" fill="#f8d720"/>
<rect x="333.80" y="112.78" width="10.97" height="2.25" fill="#fae426"/>
<rect x="344.77" y="112.78" width="10.97" height="2.25" fill="#f8d720"/>
<rect x="355.73" y="112.78" width="10.97" height="2.25" fill="#f9de23"/>
<rect x="366.70" y="112.78" width="32.90" height="2.25" fill="#e68c20"/>
<rect x="399.60" y="112.78" width="10.97" height="2.25" fill="#ea9c1e"/>
<rect x="410.57" y="112.78" width="10.97" height="2.25" fill="#e68c20"/>
<rect x="421.53" y="112.78" width="10.97" height="2.25" fill="#e07b23"/>
<rect x="432.50" y="112.78" width="10.97" height="2.25" fill="#f2ba1c"/>
<rect x="443.47" y="112.78" width="10.97" height="2.25" fill="#ea9c1e"/>
<rect x="454.43" y="112.78" width="10.97" height="2.25" fill="#eeab1d"/>
<rect x="268.00" y="115.01" width="10.97" height="2.25" fill="#e07b23"/>
<rect x="278.97" y="115.01" width="21.93" height="2.25" fill="#ea9c1e"/>
<rect x="300.90" y="115.01" width="10.97" height="2.25" fill="#d66028"/>
<rect x="311.87" y="115.01" width="10.97" height="2.25" fill="#eeab1d"/>
<rect x="322.83" y="115.01" width="10.97" height="2.25" fill="#ea9c1e"/>
<rect x="333.80" y="115.01" width="10.97" height="2.25" fill="#f4c41d"/>
<rect x="344.77" y="115.01" width="10.97" height="2.25" fill="#eeab1d"/>
<rect x="355.73" y="115.01" width="10.97" height="2.25" fill="#ea9c1e"/>
<rect x="366.70" y="115.01" width="10.97" height="2.25" fill="#eeab1d"/>
<rect x="377.67" y="115.01" width="10.97" height="2.25" fill="#d66028"/>
<rect x="388.63" y="115.01" width="10.97" height="2.25" fill="#f4c41d"/>
<rect x="399.60" y="115.01" width="21.93" height="2.25" fill="#f2ba1c"/>
<rect x="421.53" y="115.01" width="32.90" height="2.25" fill="#f4c41d"/>
<rect x="454.43" y="115.01" width="10.97" height="2.25" fill="#f2ba1c"/>
<rect x="268.00" y="117.24" width="21.93" height="2.25" fill="#f8d720"/>
<rect x="289.93" y="117.24" width="10.97" height="2.25" fill="#f7cf1e"/>
<rect x="300.90" y="117.24" width="10.97" height="2.25" fill="#ea9c1e"/>
<rect x="311.87" y="117.24" width="10.97" height="2.25" fill="#f4c41d"/>
<rect x="322.83" y="117.24" width="21.93" height="2.25" fill="#f7cf1e"/>
<rect x="344.77" y="117.24" width="10.97" height="2.25" fill="#fae426"/>
<rect x="355.73" y="117.24" width="21.93" height="2.25" fill="#f4c41d"/>
<rect x="377.67" y="117.24" width="10.97" height="2.25" fill="#f8d720"/>
<rect x="388.63" y="117.24" width="10.97" height="2.25" fill="#f7cf1e"/>
<rect x="399.60" y="117.24" width="10.97" height="2.25" fill="#f9de23"/>
<rect x="410.57" y="117.24" width="10.97" height="2.25" fill="#fae426"/>
<rect x="421.53" y="117.24" width="10.97" height="2.25" fill="#f8d720"/>
<rect x="432.50" y="117.24" width="10.97" height="2.25" fill="#f9de23"/>
<rect x="443.47" y="117.24" width="10.97" height="2.25" fill="#f7cf1e"/>
<rect x="454.43" y="117.24" width="10.97" height="2.25" fill="#f8d720"/>
<rect x="268.00" y="119.47" width="21.93" height="2.25" fill="#eeab1d"/>
<rect x="289.93" y="119.47" width="10.97" height="2.25" fill="#ea9c1e"/>
<rect x="300.90" y="119.47" width="21.93" height="2.25" fill="#f4c41d"/>
<rect x="322.83" y="119.47" width="10.97" height="2.25" fill="#f8d720"/>
<rect x="333.80" y="119.47" width="10.97" height="2.25" fill="#f2ba1c"/>
<rect x="344.77" y="119.47" width="10.97" height="2.25" fill="#f4c41d"/>
<rect x="355.73" y="119.47" width="10.97" height="2.25" fill="#f2ba1c"/>
<rect x="366.70" y="119.47" width="10.97" height="2.25" fill="#f8d720"/>
<rect x="377.67" y="119.47" width="10.97" height="2.25" fill="#f7cf1e"/>
<rect x="388.63" y="119.47" width="10.97" height="2.25" fill="#f8d720"/>
<rect x="399.60" y="119.47" width="10.97" height="2.25" fill="#fae426"/>
<rect x="410.57" y="119.47" width="10.97" height="2.25" fill="#f8d720"/>
<rect x="421.53" y="119.47" width="10.97" height="2.25" fill="#f4c41d"/>
<rect x="432.50" y="119.47" width="10.97" height="2.25" fill="#f7cf1e"/>
<rect x="443.47" y="119.47" width="10.97" height="2.25" fill="#f2ba1c"/>
<rect x="454.43" y="119.47" width="10.97" height="2.25" fill="#fae426"/>
<rect x="268.00" y="121.70" width="21.93" height="2.25" fill="#f8d720"/>
<rect x="289.93" y="121.70" width="21.93" height="2.25" fill="#f9de23"/>
<rect x="311.87" y="121.70" width="21.93" height="2.25" fill="#f8d720"/>
<rect x="333.80" y="121.70" width="10.97" height="2.25" fill="#f2ba1c"/>
<rect x="344.77" y="121.70" width="10.97" height="2.25" fill="#ea9c1e"/>
<rect x="355.73" y="121.70" width="10.97" height="2.25" fill="#f8d720"/>
<rect x="366.70" y="121.70" width="10.97" height="2.25" fill="#f9de23"/>
<rect x="377.67" y="121.70" width="10.97" height="2.25" fill="#fae426"/>
<rect x="388.63" y="121.70" width="10.97" height="2.25" fill="#f9de23"/>
<rect x="399.60" y="121.70" width="10.97" height="2.25" fill="#f8d720"/>
<rect x="410.57" y="121.70" width="10.97" height="2.25" fill="#f2ba1c"/>
<rect x="421.53" y="121.70" width="10.97" height="2.25" fill="#f4c41d"/>
<rect x="432.50" y="121.70" width="10.97" height="2.25" fill="#f7cf1e"/>
<rect x="443.47" y="121.70" width="10.97" height="2.25" fill="#f4c41d"/>
<rect x="454.43" y="121.70" width="10.97" height="2.25" fill="#f7cf1e"/>
<rect x="268.00" y="123.94" width="10.97" height="2.25" fill="#f7cf1e"/>
<rect x="278.97" y="123.94" width="10.97" height="2.25" fill="#f4c41d"/>
<rect x="289.93" y="123.94" width="10.97" height="2.25" fill="#f8d720"/>
<rect x="300.90" y="123.94" width="10.97" height="2.25" fill="#f2ba1c"/>
<rect x="311.87" y="123.94" width="10.97" height="2.25" fill="#fae426"/>
<rect x="322.83" y="123.94" width="21.93" height="2.25" fill="#f8d720"/>
<rect x="344.77" y="123.94" width="10.97" height="2.25" fill="#eeab1d"/>
<rect x="355.73" y="123.94" width="10.97" height="2.25" fill="#f7cf1e"/>
<rect x="366.70" y="123.94" width="10.97" height="2.25" fill="#f9de23"/>
<rect x="377.67" y="123.94" width="10.97" height="2.25" fill="#f8d720"/>
<rect x="388.63" y="123.94" width="10.97" height="2.25" fill="#f7cf1e"/>
<rect x="399.60" y="123.94" width="10.97" height="2.25" fill="#f4c41d"/>
<rect x="410.57" y="123.94" width="10.97" height="2.25" fill="#f8d720"/>
<rect x="421.53" y="123.94" width="10.97" height="2.25" fill="#f9de23"/>
<rect x="432.50" y="123.94" width="10.97" height="2.25" fill="#f4c41d"/>
<rect x="443.47" y="123.94" width="10.97" height="2.25" fill="#f7cf1e"/>
<rect x="454.43" y="123.94" width="10.97" height="2.25" fill="#f9de23"/>
<rect x="268.00" y="126.17" width="10.97" height="2.25" fill="#f4c41d"/>
<rect x="278.97" y="126.17" width="10.97" height="2.25" fill="#eeab1d"/>
<rect x="289.93" y="126.17" width="10.97" height="2.25" fill="#f2ba1c"/>
<rect x="300.90" y="126.17" width="10.97" height="2.25" fill="#eeab1d"/>
<rect x="311.87" y="126.17" width="10.97" height="2.25" fill="#f2ba1c"/>
<rect x="322.83" y="126.17" width="10.97" height="2.25" fill="#ea9c1e"/>
<rect x="333.80" y="126.17" width="10.97" height="2.25" fill="#f2ba1c"/>
<rect x="344.77" y="126.17" width="10.97" height="2.25" fill="#f7cf1e"/>
<rect x="355.73" y="126.17" width="21.93" height="2.25" fill="#f2ba1c"/>
<rect x="377.67" y="126.17" width="10.97" height="2.25" fill="#e68c20"/>
<rect x="388.63" y="126.17" width="10.97" height="2.25" fill="#f7cf1e"/>
<rect x="399.60" y="126.17" width="21.93" height="2.25" fill="#f2ba1c"/>
<rect x="421.53" y="126.17" width="10.97" height="2.25" fill="#f8d720"/>
<rect x="432.50" y="126.17" width="10.97" height="2.25" fill="#f2ba1c"/>
<rect x="443.47" y="126.17" width="21.93" height="2.25" fill="#f4c41d"/>
<rect x="268.00" y="128.40" width="10.97" height="2.25" fill="#eeab1d"/>
<rect x="278.97" y="128.40" width="10.97" height="2.25" fill="#d66028"/>
<rect x="289.93" y="128.40" width="10.97" height="2.25" fill="#f2ba1c"/>
<rect x="300.90" y="128.40" width="10.97" height="2.25" fill="#ea9c1e"/>
<rect x="311.87" y="128.40" width="10.97" height="2.25" fill="#f4c41d"/>
<rect x="322.83" y="128.40" width="21.93" height="2.25" fill="#f2ba1c"/>
<rect x="344.77" y="128.40" width="10.97" height="2.25" fill="#f4c41d"/>
<rect x="355.73" y="128.40" width="10.97" height="2.25" fill="#ea9c1e"/>
<rect x="366.70" y="128.40" width="10.97" height="2.25" fill="#f9de23"/>
<rect x="377.67" y="128.40" width="21.93" height="2.25" fill="#f4c41d"/>
<rect x="399.60" y="128.40" width="21.93" height="2.25" fill="#f8d720"/>
<rect x="421.53" y="128.40" width="10.97" height="2.25" fill="#f4c41d"/>
<rect x="432.50" y="128.40" width="10.97" height="2.25" fill="#f7cf1e"/>
<rect x="443.47" y="128.40" width="21.93" height="2.25" fill="#f4c41d"/>
<rect x="268.00" y="130.63" width="43.87" height="2.25" fill="#f9de23"/>
<rect x="311.87" y="130.63" width="10.97" height="2.25" fill="#fae426"/>
<rect x="322.83" y="130.63" width="10.97" height="2.25" fill="#f4c41d"/>
<rect x="333.80" y="130.63" width="10.97" height="2.25" fill="#fae426"/>
<rect x="344.77" y="130.63" width="10.97" height="2.25" fill="#f8d720"/>
<rect x="355.73" y="130.63" width="10.97" height="2.25" fill="#fae426"/>
<rect x="366.70" y="130.63" width="10.97" height="2.25" fill="#ea9c1e"/>
<rect x="377.67" y="130.63" width="21.93" height="2.25" fill="#eeab1d"/>
<rect x="399.60" y="130.63" width="10.97" height="2.25" fill="#ea9c1e"/>
<rect x="410.57" y="130.63" width="21.93" height="2.25" fill="#eeab1d"/>
<rect x="432.50" y="130.63" width="21.93" height="2.25" fill="#ea9c1e"/>
<rect x="454.43" y="130.63" width="10.97" height="2.25" fill="#eeab1d"/>
<rect x="268.00" y="132.86" width="10.97" height="2.25" fill="#f8d720"/>
<rect x="278.97" y="132.86" width="21.93" height="2.25" fill="#f7cf1e"/>
<rect x="300.90" y="132.86" width="10.97" height="2.25" fill="#f9de23"/>
<rect x="311.87" y="132.86" width="10.97" height="2.25" fill="#f7cf1e"/>
<rect x="322.83" y="132.86" width="10.97" height="2.25" fill="#f2ba1c"/>
<rect x="333.80" y="132.86" width="10.97" height="2.25" fill="#f7cf1e"/>
<rect x="344.77" y="132.86" width="10.97" height="2.25" fill="#f9de23"/>
<rect x="355.73" y="132.86" width="10.97" height="2.25" fill="#f8d720"/>
<rect x="366.70" y="132.86" width="21.93" height="2.25" fill="#fae426"/>
<rect x="388.63" y="132.86" width="10.97" height="2.25" fill="#fae426"/>
<rect x="399.60" y="132.86" width="10.97" height="2.25" fill="#f8d720"/>
<rect x="410.57" y="132.86" width="10.97" height="2.25" fill="#fae426"/>
<rect x="421.53" y="132.86" width="10.97" height="2.25" fill="#fae426"/>
<rect x="432.50" y="132.86" width="21.93" height="2.25" fill="#f7cf1e"/>
<rect x="454.43" y="132.86" width="10.97" height="2.25" fill="#f9de23"/>
<rect x="268.00" y="135.10" width="10.97" height="2.25" fill="#eeab1d"/>
<rect x="278.97" y="135.10" width="10.97" height="2.25" fill="#e07b23"/>
<rect x="289.93" y="135.10" width="21.93" height="2.25" fill="#e68c20"/>
<rect x="311.87" y="135.10" width="10.97" height="2.25" fill="#ea9c1e"/>
<rect x="322.83" y="135.10" width="10.97" height="2.25" fill="#e68c20"/>
<rect x="333.80" y="135.10" width="21.93" height="2.25" fill="#e07b23"/>
<rect x="355.73" y="135.10" width="10.97" height="2.25" fill="#ea9c1e"/>
<rect x="366.70" y="135.10" width="10.97" height="2.25" fill="#f2ba1c"/>
<rect x="377.67" y="135.10" width="10.97" height="2.25" fill="#e68c20"/>
<rect x="388.63" y="135.10" width="10.97" height="2.25" fill="#e07b23"/>
<rect x="399.60" y="135.10" width="10.97" height="2.25" fill="#f2ba1c"/>
<rect x="410.57" y="135.10" width="10.97" height="2.25" fill="#e68c20"/>
<rect x="421.53" y="135.10" width="10.97" height="2.25" fill="#ea9c1e"/>
<rect x="432.50" y="135.10" width="10.97" height="2.25" fill="#d66028"/>
<rect x="443.47" y="135.10" width="21.93" height="2.25" fill="#ea9c1e"/>
<rect x="268.00" y="137.33" width="10.97" height="2.25" fill="#ea9c1e"/>
<rect x="278.97" y="137.33" width="21.93" height="2.25" fill="#eeab1d"/>
<rect x="300.90" y="137.33" width="10.97" height="2.25" fill="#ea9c1e"/>
<rect x="311.87" y="137.33" width="10.97" height="2.25" fill="#e68c20"/>
<rect x="322.83" y="137.33" width="10.97" height="2.25" fill="#ea9c1e"/>
<rect x="333.80" y="137.33" width="21.93" height="2.25" fill="#d66028"/>
<rect x="355.73" y="137.33" width="10.97" height="2.25" fill="#ea9c1e"/>
<rect x="366.70" y="137.33" width="10.97" height="2.25" fill="#eeab1d"/>
<rect x="377.67" y="137.33" width="10.97" height="2.25" fill="#f2ba1c"/>
<rect x="388.63" y="137.33" width="10.97" height="2.25" fill="#e68c20"/>
<rect x="399.60" y="137.33" width="10.97" height="2.25" fill="#f4c41d"/>
<rect x="410.57" y="137.33" width="10.97" height="2.25" fill="#eeab1d"/>
<rect x="421.53" y="137.33" width="10.97" height="2.25" fill="#f2ba1c"/>
<rect x="432.50" y="137.33" width="21.93" height="2.25" fill="#ea9c1e"/>
<rect x="454.43" y="137.33" width="10.97" height="2.25" fill="#f2ba1c"/>
<rect x="268.00" y="139.56" width="10.97" height="2.25" fill="#f2ba1c"/>
<rect x="278.97" y="139.56" width="21.93" height="2.25" fill="#ea9c1e"/>
<rect x="300.90" y="139.56" width="10.97" height="2.25" fill="#e68c20"/>
<rect x="311.87" y="139.56" width="10.97" height="2.25" fill="#e07b23"/>
<rect x="322.83" y="139.56" width="10.97" height="2.25" fill="#e68c20"/>
<rect x="333.80" y="139.56" width="10.97" height="2.25" fill="#e07b23"/>
<rect x="344.77" y="139.56" width="21.93" height="2.25" fill="#e68c20"/>
<rect x="366.70" y="139.56" width="32.90" height="2.25" fill="#ea9c1e"/>
<rect x="399.60" y="139.56" width="21.93" height="2.25" fill="#eeab1d"/>
<rect x="421.53" y="139.56" width="10.97" height="2.25" fill="#ea9c1e"/>
<rect x="432.50" y="139.56" width="10.97" height="2.25" fill="#e68c20"/>
<rect x="443.47" y="139.56" width="10.97" height="2.25" fill="#f2ba1c"/>
<rect x="454.43" y="139.56" width="10.97" height="2.25" fill="#e68c20"/>
<rect x="268.00" y="141.79" width="21.93" height="2.25" fill="#e07b23"/>
<rect x="289.93" y="141.79" width="10.97" height="2.25" fill="#ea9c1e"/>
<rect x="300.90" y="141.79" width="10.97" height="2.25" fill="#eeab1d"/>
<rect x="311.87" y="141.79" width="10.97" height="2.25" fill="#e07b23"/>
<rect x="322.83" y="141.79" width="10.97" height="2.25" fill="#e68c20"/>
<rect x="333.80" y="141.79" width="10.97" height="2.25" fill="#d66028"/>
<rect x="344.77" y="141.79" width="10.97" height="2.25" fill="#e07b23"/>
<rect x="355.73" y="141.79" width="10.97" height="2.25" fill="#e68c20"/>
<rect x="366.70" y="141.79" width="10.97" height="2.25" fill="#eeab1d"/>
<rect x="377.67" y="141.79" width="10.97" height="2.25" fill="#e68c20"/>
<rect x="388.63" y="141.79" width="10.97" height="2.25" fill="#ea9c1e"/>
<rect x="399.60" y="141.79" width="10.97" height="2.25" fill="#eeab1d"/>
<rect x="410.57" y="141.79" width="21.93" height="2.25" fill="#ea9c1e"/>
<rect x="432.50" y="141.79" width="21.93" height="2.25" fill="#eeab1d"/>
<rect x="454.43" y="141.79" width="10.97" height="2.25" fill="#e68c20"/>
<rect x="268.00" y="144.02" width="10.97" height="2.25" fill="#ea9c1e"/>
<rect x="278.97" y="144.02" width="10.97" height="2.25" fill="#eeab1d"/>
<rect x="289.93" y="144.02" width="21.93" height="2.25" fill="#ea9c1e"/>
<rect x="311.87" y="144.02" width="10.97" height="2.25" fill="#f2ba1c"/>
<rect x="322.83" y="144.02" width="10.97" height="2.25" fill="#eeab1d"/>
<rect x="333.80" y="144.02" width="10.97" height="2.25" fill="#f7cf1e"/>
<rect x="344.77" y="144.02" width="10.97" height="2.25" fill="#eeab1d"/>
<rect x="355.73" y="144.02" width="21.93" height="2.25" fill="#f4c41d"/>
<rect x="377.67" y="144.02" width="10.97" height="2.25" fill="#f2ba1c"/>
<rect x="388.63" y="144.02" width="10.97" height="2.25" fill="#e68c20"/>
<rect x="399.60" y="144.02" width="10.97" height="2.25" fill="#f4c41d"/>
<rect x="410.57" y="144.02" width="10.97" height="2.25" fill="#e68c20"/>
<rect x="421.53" y="144.02" width="10.97" height="2.25" fill="#f4c41d"/>
<rect x="432.50" y="144.02" width="10.97" height="2.25" fill="#ea9c1e"/>
<rect x="443.47" y="144.02" width="10.97" height="2.25" fill="#e07b23"/>
<rect x="454.43" y="144.02" width="10.97" height="2.25" fill="#f2ba1c"/>
<rect x="268.00" y="146.25" width="10.97" height="2.25" fill="#f4c41d"/>
<rect x="278.97" y="146.25" width="10.97" height="2.25" fill="#f7cf1e"/>
<rect x="289.93" y="146.25" width="10.97" height="2.25" fill="#f4c41d"/>
<rect x="300.90" y="146.25" width="43.87" height="2.25" fill="#f7cf1e"/>
<rect x="344.77" y="146.25" width="10.97" height="2.25" fill="#f4c41d"/>
<rect x="355.73" y="146.25" width="10.97" height="2.25" fill="#f7cf1e"/>
<rect x="366.70" y="146.25" width="10.97" height="2.25" fill="#f4c41d"/>
<rect x="377.67" y="146.25" width="10.97" height="2.25" fill="#e07b23"/>
<rect x="388.63" y="146.25" width="10.97" height="2.25" fill="#f4c41d"/>
<rect x="399.60" y="146.25" width="10.97" height="2.25" fill="#ea9c1e"/>
<rect x="410.57" y="146.25" width="21.93" height="2.25" fill="#f2ba1c"/>
<rect x="432.50" y="146.25" width="10.97" height="2.25" fill="#eeab1d"/>
<rect x="443.47" y="146.25" width="10.97" height="2.25" fill="#ea9c1e"/>
<rect x="454.43" y="146.25" width="10.97" height="2.25" fill="#f4c41d"/>
<rect x="268.00" y="148.49" width="10.97" height="2.25" fill="#ea9c1e"/>
<rect x="278.97" y="148.49" width="32.90" height="2.25" fill="#eeab1d"/>
<rect x="311.87" y="148.49" width="10.97" height="2.25" fill="#e07b23"/>
<rect x="322.83" y="148.49" width="10.97" height="2.25" fill="#eeab1d"/>
<rect x="333.80" y="148.49" width="10.97" height="2.25" fill="#ea9c1e"/>
<rect x="344.77" y="148.49" width="10.97" height="2.25" fill="#f2ba1c"/>
<rect x="355.73" y="148.49" width="10.97" height="2.25" fill="#eeab1d"/>
<rect x="366.70" y="148.49" width="10.97" height="2.25" fill="#e68c20"/>
<rect x="377.67" y="148.49" width="10.97" height="2.25" fill="#eeab1d"/>
<rect x="388.63" y="148.49" width="10.97" height="2.25" fill="#e68c20"/>
<rect x="399.60" y="148.49" width="21.93" height="2.25" fill="#ea9c1e"/>
<rect x="421.53" y="148.49" width="21.93" height="2.25" fill="#e68c20"/>
<rect x="443.47" y="148.49" width="10.97" height="2.25" fill="#eeab1d"/>
<rect x="454.43" y="148.49" width="10.97" height="2.25" fill="#f4c41d"/>
<rect x="268.00" y="150.72" width="10.97" height="2.25" fill="#e07b23"/>
<rect x="278.97" y="150.72" width="10.97" height="2.25" fill="#ea9c1e"/>
<rect x="289.93" y="150.72" width="10.97" height="2.25" fill="#d66028"/>
<rect x="300.90" y="150.72" width="10.97" height="2.25" fill="#ea9c1e"/>
<rect x="311.87" y="150.72" width="10.97" height="2.25" fill="#f4c41d"/>
<rect x="322.83" y="150.72" width="32.90" height="2.25" fill="#e68c20"/>
<rect x="355.73" y="150.72" width="10.97" height="2.25" fill="#eeab1d"/>
<rect x="366.70" y="150.72" width="10.97" height="2.25" fill="#ea9c1e"/>
<rect x="377.67" y="150.72" width="10.97" height="2.25" fill="#f2ba1c"/>
<rect x="388.63" y="150.72" width="10.97" height="2.25" fill="#e68c20"/>
<rect x="399.60" y="150.72" width="10.97" height="2.25" fill="#f2ba1c"/>
<rect x="410.57" y="150.72" width="10.97" height="2.25" fill="#f4c41d"/>
<rect x="421.53" y="150.72" width="10.97" height="2.25" fill="#eeab1d"/>
<rect x="432.50" y="150.72" width="32.90" height="2.25" fill="#ea9c1e"/>
<rect x="268.00" y="152.95" width="10.97" height="2.25" fill="#f2ba1c"/>
<rect x="278.97" y="152.95" width="21.93" height="2.25" fill="#f4c41d"/>
<rect x="300.90" y="152.95" width="10.97" height="2.25" fill="#f2ba1c"/>
<rect x="311.87" y="152.95" width="10.97" height="2.25" fill="#f7cf1e"/>
<rect x="322.83" y="152.95" width="10.97" height="2.25" fill="#ea9c1e"/>
<rect x="333.80" y="152.95" width="10.97" height="2.25" fill="#f7cf1e"/>
<rect x="344.77" y="152.95" width="21.93" height="2.25" fill="#f4c41d"/>
<rect x="366.70" y="152.95" width="10.97" height="2.25" fill="#fae426"/>
<rect x="377.67" y="152.95" width="10.97" height="2.25" fill="#f4c41d"/>
<rect x="388.63" y="152.95" width="10.97" height="2.25" fill="#f9de23"/>
<rect x="399.60" y="152.95" width="21.93" height="2.25" fill="#f7cf1e"/>
<rect x="421.53" y="152.95" width="10.97" height="2.25" fill="#f8d720"/>
<rect x="432.50" y="152.95" width="10.97" height="2.25" fill="#fae426"/>
<rect x="443.47" y="152.95" width="21.93" height="2.25" fill="#f8d720"/>
<rect x="268.00" y="155.18" width="10.97" height="2.25" fill="#f8d720"/>
<rect x="278.97" y="155.18" width="10.97" height="2.25" fill="#f7cf1e"/>
<rect x="289.93" y="155.18" width="43.87" height="2.25" fill="#f8d720"/>
<rect x="333.80" y="155.18" width="10.97" height="2.25" fill="#f7cf1e"/>
<rect x="344.77" y="155.18" width="32.90" height="2.25" fill="#f8d720"/>
<rect x="377.67" y="155.18" width="32.90" height="2.25" fill="#f7cf1e"/>
<rect x="410.57" y="155.18" width="10.97" height="2.25" fill="#fae426"/>
<rect x="421.53" y="155.18" width="10.97" height="2.25" fill="#f9de23"/>
<rect x="432.50" y="155.18" width="10.97" height="2.25" fill="#f8d720"/>
<rect x="443.47" y="155.18" width="10.97" height="2.25" fill="#f9de23"/>
<rect x="454.43" y="155.18" width="10.97" height="2.25" fill="#f7cf1e"/>
<rect x="268.00" y="157.41" width="10.97" height="2.25" fill="#f9de23"/>
<rect x="278.97" y="157.41" width="10.97" height="2.25" fill="#fae426"/>
<rect x="289.93" y="157.41" width="10.97" height="2.25" fill="#fae426"/>
<rect x="300.90" y="157.41" width="10.97" height="2.25" fill="#fae426"/>
<rect x="311.87" y="157.41" width="10.97" height="2.25" fill="#f9de23"/>
<rect x="322.83" y="157.41" width="10.97" height="2.25" fill="#f7cf1e"/>
<rect x="333.80" y="157.41" width="21.93" height="2.25" fill="#fae426"/>
<rect x="355.73" y="157.41" width="10.97" height="2.25" fill="#fae426"/>
<rect x="366.70" y="157.41" width="43.87" height="2.25" fill="#fae426"/>
<rect x="410.57" y="157.41" width="10.97" height="2.25" fill="#f8d720"/>
<rect x="421.53" y="157.41" width="10.97" height="2.25" fill="#fae426"/>
<rect x="432.50" y="157.41" width="10.97" height="2.25" fill="#fae426"/>
<rect x="443.47" y="157.41" width="10.97" height="2.25" fill="#f9de23"/>
<rect x="454.43" y="157.41" width="10.97" height="2.25" fill="#fae426"/>
<rect x="268.00" y="159.65" width="10.97" height="2.25" fill="#e68c20"/>
<rect x="278.97" y="159.65" width="21.93" height="2.25" fill="#ea9c1e"/>
<rect x="300.90" y="159.65" width="10.97" height="2.25" fill="#e68c20"/>
<rect x="311.87" y="159.65" width="10.97" height="2.25" fill="#e07b23"/>
<rect x="322.83" y="159.65" width="10.97" height="2.25" fill="#e68c20"/>
<rect x="333.80" y="159.65" width="21.93" height="2.25" fill="#e07b23"/>
<rect x="355.73" y="159.65" width="10.97" height="2.25" fill="#ea9c1e"/>
<rect x="366.70" y="159.65" width="21.93" height="2.25" fill="#f9de23"/>
<rect x="388.63" y="159.65" width="10.97" height="2.25" fill="#fae426"/>
<rect x="399.60" y="159.65" width="10.97" height="2.25" fill="#fae426"/>
<rect x="410.57" y="159.65" width="10.97" height="2.25" fill="#fae426"/>
<rect x="421.53" y="159.65" width="10.97" height="2.25" fill="#fae426"/>
<rect x="432.50" y="159.65" width="21.93" height="2.25" fill="#fae426"/>
<rect x="454.43" y="159.65" width="10.97" height="2.25" fill="#fae426"/>
<rect x="268.00" y="161.88" width="10.97" height="2.25" fill="#f7cf1e"/>
<rect x="278.97" y="161.88" width="32.90" height="2.25" fill="#f8d720"/>
<rect x="311.87" y="161.88" width="10.97" height="2.25" fill="#f7cf1e"/>
<rect x="322.83" y="161.88" width="21.93" height="2.25" fill="#f8d720"/>
<rect x="344.77" y="161.88" width="10.97" height="2.25" fill="#f7cf1e"/>
<rect x="355.73" y="161.88" width="10.97" height="2.25" fill="#f9de23"/>
<rect x="366.70" y="161.88" width="10.97" height="2.25" fill="#fae426"/>
<rect x="377.67" y="161.88" width="10.97" height="2.25" fill="#f9de23"/>
<rect x="388.63" y="161.88" width="21.93" height="2.25" fill="#fae426"/>
<rect x="410.57" y="161.88" width="10.97" height="2.25" fill="#f8d720"/>
<rect x="421.53" y="161.88" width="10.97" height="2.25" fill="#fae426"/>
<rect x="432.50" y="161.88" width="10.97" height="2.25" fill="#f7cf1e"/>
<rect x="443.47" y="161.88" width="10.97" height="2.25" fill="#f9de23"/>
<rect x="454.43" y="161.88" width="10.97" height="2.25" fill="#f8d720"/>
<rect x="268.00" y="164.11" width="10.97" height="2.25" fill="#e68c20"/>
<rect x="278.97" y="164.11" width="10.97" height="2.25" fill="#eeab1d"/>
<rect x="289.93" y="164.11" width="21.93" height="2.25" fill="#e68c20"/>
<rect x="311.87" y="164.11" width="10.97" height="2.25" fill="#ea9c1e"/>
<rect x="322.83" y="164.11" width="10.97" height="2.25" fill="#e68c20"/>
<rect x="333.80" y="164.11" width="21.93" height="2.25" fill="#ea9c1e"/>
<rect x="355.73" y="164.11" width="10.97" height="2.25" fill="#e68c20"/>
<rect x="366.70" y="164.11" width="10.97" height="2.25" fill="#ea9c1e"/>
<rect x="377.67" y="164.11" width="10.97" height="2.25" fill="#e68c20"/>
<rect x="388.63" y="164.11" width="10.97" height="2.25" fill="#eeab1d"/>
<rect x="399.60" y="164.11" width="10.97" height="2.25" fill="#ea9c1e"/>
<rect x="410.57" y="164.11" width="54.83" height="2.25" fill="#eeab1d"/>
<rect x="268.00" y="166.34" width="10.97" height="2.25" fill="#f4c41d"/>
<rect x="278.97" y="166.34" width="10.97" height="2.25" fill="#f7cf1e"/>
<rect x="289.93" y="166.34" width="21.93" height="2.25" fill="#f4c41d"/>
<rect x="311.87" y="166.34" width="10.97" height="2.25" fill="#f7cf1e"/>
<rect x="322.83" y="166.34" width="32.90" height="2.25" fill="#f4c41d"/>
<rect x="355.73" y="166.34" width="10.97" height="2.25" fill="#ea9c1e"/>
<rect x="366.70" y="166.34" width="10.97" height="2.25" fill="#f8d720"/>
<rect x="377.67" y="166.34" width="10.97" height="2.25" fill="#fae426"/>
<rect x="388.63" y="166.34" width="10.97" height="2.25" fill="#f9de23"/>
<rect x="399.60" y="166.34" width="10.97" height="2.25" fill="#fae426"/>
<rect x="410.57" y="166.34" width="10.97" height="2.25" fill="#f8d720"/>
<rect x="421.53" y="166.34" width="10.97" height="2.25" fill="#f9de23"/>
<rect x="432.50" y="166.34" width="10.97" height="2.25" fill="#f8d720"/>
<rect x="443.47" y="166.34" width="10.97" height="2.25" fill="#f7cf1e"/>
<rect x="454.43" y="166.34" width="10.97" height="2.25" fill="#f8d720"/>
<rect x="268.00" y="168.57" width="10.97" height="2.25" fill="#f9de23"/>
<rect x="278.97" y="168.57" width="10.97" height="2.25" fill="#f8d720"/>
<rect x="289.93" y="168.57" width="10.97" height="2.25" fill="#fae426"/>
<rect x="300.90" y="168.57" width="10.97" height="2.25" fill="#f8d720"/>
<rect x="311.87" y="168.57" width="21.93" height="2.25" fill="#f9de23"/>
<rect x="333.80" y="168.57" width="10.97" height="2.25" fill="#f8d720"/>
<rect x="344.77" y="168.57" width="10.97" height="2.25" fill="#f9de23"/>
<rect x="355.73" y="168.57" width="10.97" height="2.25" fill="#f7cf1e"/>
<rect x="366.70" y="168.57" width="10.97" height="2.25" fill="#f9de23"/>
<rect x="377.67" y="168.57" width="10.97" height="2.25" fill="#f8d720"/>
<rect x="388.63" y="168.57" width="21.93" height="2.25" fill="#f7cf1e"/>
<rect x="410.57" y="168.57" width="10.97" height="2.25" fill="#f8d720"/>
<rect x="421.53" y="168.57" width="10.97" height="2.25" fill="#f9de23"/>
<rect x="432.50" y="168.57" width="10.97" height="2.25" fill="#f7cf1e"/>
<rect x="443.47" y="168.57" width="21.93" height="2.25" fill="#f9de23"/>
<rect x="268.00" y="170.80" width="21.93" height="2.25" fill="#e68c20"/>
<rect x="289.93" y="170.80" width="10.97" height="2.25" fill="#ea9c1e"/>
<rect x="300.90" y="170.80" width="10.97" height="2.25" fill="#d66028"/>
<rect x="311.87" y="170.80" width="10.97" height="2.25" fill="#ea9c1e"/>
<rect x="322.83" y="170.80" width="10.97" height="2.25" fill="#e68c20"/>
<rect x="333.80" y="170.80" width="10.97" height="2.25" fill="#e07b23"/>
<rect x="344.77" y="170.80" width="10.97" height="2.25" fill="#eeab1d"/>
<rect x="355.73" y="170.80" width="10.97" height="2.25" fill="#f2ba1c"/>
<rect x="366.70" y="170.80" width="21.93" height="2.25" fill="#f7cf1e"/>
<rect x="388.63" y="170.80" width="10.97" height="2.25" fill="#f2ba1c"/>
<rect x="399.60" y="170.80" width="21.93" height="2.25" fill="#f7cf1e"/>
<rect x="421.53" y="170.80" width="10.97" height="2.25" fill="#e68c20"/>
<rect x="432.50" y="170.80" width="10.97" height="2.25" fill="#f9de23"/>
<rect x="443.47" y="170.80" width="10.97" height="2.25" fill="#f2ba1c"/>
<rect x="454.43" y="170.80" width="10.97" height="2.25" fill="#f8d720"/>
<rect x="268.00" y="173.04" width="10.97" height="2.25" fill="#f4c41d"/>
<rect x="278.97" y="173.04" width="21.93" height="2.25" fill="#f2ba1c"/>
<rect x="300.90" y="173.04" width="10.97" height="2.25" fill="#ea9c1e"/>
<rect x="311.87" y="173.04" width="10.97" height="2.25" fill="#e68c20"/>
<rect x="322.83" y="173.04" width="10.97" height="2.25" fill="#f2ba1c"/>
<rect x="333.80" y="173.04" width="10.97" height="2.25" fill="#eeab1d"/>
<rect x="344.77" y="173.04" width="10.97" height="2.25" fill="#f2ba1c"/>
<rect x="355.73" y="173.04" width="21.93" height="2.25" fill="#f4c41d"/>
<rect x="377.67" y="173.04" width="10.97" height="2.25" fill="#f2ba1c"/>
<rect x="388.63" y="173.04" width="10.97" height="2.25" fill="#f8d720"/>
<rect x="399.60" y="173.04" width="10.97" height="2.25" fill="#ea9c1e"/>
<rect x="410.57" y="173.04" width="10.97" height="2.25" fill="#f8d720"/>
<rect x="421.53" y="173.04" width="10.97" height="2.25" fill="#eeab1d"/>
<rect x="432.50" y="173.04" width="21.93" height="2.25" fill="#f7cf1e"/>
<rect x="454.43" y="173.04" width="10.97" height="2.25" fill="#f2ba1c"/>
<rect x="268.00" y="175.27" width="10.97" height="2.25" fill="#f4c41d"/>
<rect x="278.97" y="175.27" width="10.97" height="2.25" fill="#f2ba1c"/>
<rect x="289.93" y="175.27" width="10.97" height="2.25" fill="#ea9c1e"/>
<rect x="300.90" y="175.27" width="10.97" height="2.25" fill="#fae426"/>
<rect x="311.87" y="175.27" width="10.97" height="2.25" fill="#f9de23"/>
<rect x="322.83" y="175.27" width="10.97" height="2.25" fill="#f4c41d"/>
<rect x="333.80" y="175.27" width="21.93" height="2.25" fill="#f7cf1e"/>
<rect x="355.73" y="175.27" width="10.97" height="2.25" fill="#f2ba1c"/>
<rect x="366.70" y="175.27" width="10.97" height="2.25" fill="#f9de23"/>
<rect x="377.67" y="175.27" width="10.97" height="2.25" fill="#fae426"/>
<rect x="388.63" y="175.27" width="10.97" height="2.25" fill="#f8d720"/>
<rect x="399.60" y="175.27" width="10.97" height="2.25" fill="#fae426"/>
<rect x="410.57" y="175.27" width="10.97" height="2.25" fill="#f9de23"/>
<rect x="421.53" y="175.27" width="21.93" height="2.25" fill="#fae426"/>
<rect x="443.47" y="175.27" width="10.97" height="2.25" fill="#fae426"/>
<rect x="454.43" y="175.27" width="10.97" height="2.25" fill="#f8d720"/>
<rect x="268.00" y="177.50" width="10.97" height="2.25" fill="#ea9c1e"/>
<rect x="278.97" y="177.50" width="10.97" height="2.25" fill="#f7cf1e"/>
<rect x="289.93" y="177.50" width="10.97" height="2.25" fill="#f2ba1c"/>
<rect x="300.90" y="177.50" width="10.97" height="2.25" fill="#eeab1d"/>
<rect x="311.87" y="177.50" width="21.93" height="2.25" fill="#ea9c1e"/>
<rect x="333.80" y="177.50" width="10.97" height="2.25" fill="#eeab1d"/>
<rect x="344.77" y="177.50" width="10.97" height="2.25" fill="#e07b23"/>
<rect x="355.73" y="177.50" width="10.97" height="2.25" fill="#f2ba1c"/>
<rect x="366.70" y="177.50" width="10.97" height="2.25" fill="#fae426"/>
<rect x="377.67" y="177.50" width="10.97" height="2.25" fill="#f9de23"/>
<rect x="388.63" y="177.50" width="10.97" height="2.25" fill="#f8d720"/>
<rect x="399.60" y="177.50" width="10.97" height="2.25" fill="#fae426"/>
<rect x="410.57" y="177.50" width="10.97" height="2.25" fill="#f7cf1e"/>
<rect x="421.53" y="177.50" width="10.97" height="2.25" fill="#f9de23"/>
<rect x="432.50" y="177.50" width="21.93" height="2.25" fill="#f8d720"/>
<rect x="454.43" y="177.50" width="10.97" height="2.25" fill="#f7cf1e"/>
<rect x="268.00" y="179.73" width="21.93" height="2.25" fill="#f7cf1e"/>
<rect x="289.93" y="179.73" width="21.93" height="2.25" fill="#f4c41d"/>
<rect x="311.87" y="179.73" width="10.97" height="2.25" fill="#f9de23"/>
<rect x="322.83" y="179.73" width="21.93" height="2.25" fill="#f2ba1c"/>
<rect x="344.77" y="179.73" width="10.97" height="2.25" fill="#eeab1d"/>
<rect x="355.73" y="179.73" width="10.97" height="2.25" fill="#f7cf1e"/>
<rect x="366.70" y="179.73" width="21.93" height="2.25" fill="#e68c20"/>
<rect x="388.63" y="179.73" width="10.97" height="2.25" fill="#e07b23"/>
<rect x="399.60" y="179.73" width="10.97" height="2.25" fill="#ea9c1e"/>
<rect x="410.57" y="179.73" width="10.97" height="2.25" fill="#e07b23"/>
<rect x="421.53" y="179.73" width="10.97" height="2.25" fill="#eeab1d"/>
<rect x="432.50" y="179.73" width="21.93" height="2.25" fill="#f2ba1c"/>
<rect x="454.43" y="179.73" width="10.97" height="2.25" fill="#e07b23"/>
<rect x="268.00" y="181.96" width="10.97" height="2.25" fill="#ea9c1e"/>
<rect x="278.97" y="181.96" width="10.97" height="2.25" fill="#e68c20"/>
<rect x="289.93" y="181.96" width="32.90" height="2.25" fill="#e07b23"/>
<rect x="322.83" y="181.96" width="10.97" height="2.25" fill="#f2ba1c"/>
<rect x="333.80" y="181.96" width="10.97" height="2.25" fill="#e68c20"/>
<rect x="344.77" y="181.96" width="10.97" height="2.25" fill="#ea9c1e"/>
<rect x="355.73" y="181.96" width="10.97" height="2.25" fill="#d66028"/>
<rect x="366.70" y="181.96" width="10.97" height="2.25" fill="#e07b23"/>
<rect x="377.67" y="181.96" width="10.97" height="2.25" fill="#d66028"/>
<rect x="388.63" y="181.96" width="10.97" height="2.25" fill="#d66028"/>
<rect x="399.60" y="181.96" width="10.97" height="2.25" fill="#e68c20"/>
<rect x="410.57" y="181.96" width="10.97" height="2.25" fill="#e07b23"/>
<rect x="421.53" y="181.96" width="10.97" height="2.25" fill="#d66028"/>
<rect x="432.50" y="181.96" width="10.97" height="2.25" fill="#eeab1d"/>
<rect x="443.47" y="181.96" width="10.97" height="2.25" fill="#d66028"/>
<rect x="454.43" y="181.96" width="10.97" height="2.25" fill="#e68c20"/>
<rect x="268.00" y="184.20" width="10.97" height="2.25" fill="#f7cf1e"/>
<rect x="278.97" y="184.20" width="21.93" height="2.25" fill="#f4c41d"/>
<rect x="300.90" y="184.20" width="10.97" height="2.25" fill="#f7cf1e"/>
<rect x="311.87" y="184.20" width="21.93" height="2.25" fill="#f2ba1c"/>
<rect x="333.80" y="184.20" width="21.93" height="2.25" fill="#f4c41d"/>
<rect x="355.73" y="184.20" width="10.97" height="2.25" fill="#ea9c1e"/>
<rect x="366.70" y="184.20" width="10.97" height="2.25" fill="#f7cf1e"/>
<rect x="377.67" y="184.20" width="21.93" height="2.25" fill="#f9de23"/>
<rect x="399.60" y="184.20" width="10.97" height="2.25" fill="#f7cf1e"/>
<rect x="410.57" y="184.20" width="10.97" height="2.25" fill="#f9de23"/>
<rect x="421.53" y="184.20" width="32.90" height="2.25" fill="#f7cf1e"/>
<rect x="454.43" y="184.20" width="10.97" height="2.25" fill="#f9de23"/>
<rect x="268.00" y="186.43" width="21.93" height="2.25" fill="#e07b23"/>
<rect x="289.93" y="186.43" width="10.97" height="2.25" fill="#e68c20"/>
<rect x="300.90" y="186.43" width="10.97" height="2.25" fill="#d66028"/>
<rect x="311.87" y="186.43" width="10.97" height="2.25" fill="#d66028"/>
<rect x="322.83" y="186.43" width="10.97" height="2.25" fill="#e07b23"/>
<rect x="333.80" y="186.43" width="10.97" height="2.25" fill="#e68c20"/>
<rect x="344.77" y="186.43" width="10.97" height="2.25" fill="#d66028"/>
<rect x="355.73" y="186.43" width="10.97" height="2.25" fill="#e68c20"/>
<rect x="366.70" y="186.43" width="10.97" height="2.25" fill="#f8d720"/>
<rect x="377.67" y="186.43" width="10.97" height="2.25" fill="#fae426"/>
<rect x="388.63" y="186.43" width="10.97" height="2.25" fill="#f8d720"/>
<rect x="399.60" y="186.43" width="10.97" height="2.25" fill="#f7cf1e"/>
<rect x="410.57" y="186.43" width="10.97" height="2.25" fill="#fae426"/>
<rect x="421.53" y="186.43" width="10.97" height="2.25" fill="#f4c41d"/>
<rect x="432.50" y="186.43" width="10.97" height="2.25" fill="#f9de23"/>
<rect x="443.47" y="186.43" width="10.97" height="2.25" fill="#f7cf1e"/>
<rect x="454.43" y="186.43" width="10.97" height="2.25" fill="#f4c41d"/>
<rect x="268.00" y="188.66" width="10.97" height="2.25" fill="#f9de23"/>
<rect x="278.97" y="188.66" width="10.97" height="2.25" fill="#f8d720"/>
<rect x="289.93" y="188.66" width="10.97" height="2.25" fill="#fae426"/>
<rect x="300.90" y="188.66" width="10.97" height="2.25" fill="#fae426"/>
<rect x="311.87" y="188.66" width="10.97" height="2.25" fill="#f8d720"/>
<rect x="322.83" y="188.66" width="32.90" height="2.25" fill="#fae426"/>
<rect x="355.73" y="188.66" width="10.97" height="2.25" fill="#f4c41d"/>
<rect x="366.70" y="188.66" width="10.97" height="2.25" fill="#e07b23"/>
<rect x="377.67" y="188.66" width="21.93" height="2.25" fill="#eeab1d"/>
<rect x="399.60" y="188.66" width="43.87" height="2.25" fill="#ea9c1e"/>
<rect x="443.47" y="188.66" width="10.97" height="2.25" fill="#d66028"/>
<rect x="454.43" y="188.66" width="10.97" height="2.25" fill="#eeab1d"/>
<rect x="268.00" y="190.89" width="10.97" height="2.25" fill="#d66028"/>
<rect x="278.97" y="190.89" width="21.93" height="2.25" fill="#e68c20"/>
<rect x="300.90" y="190.89" width="32.90" height="2.25" fill="#ea9c1e"/>
<rect x="333.80" y="190.89" width="21.93" height="2.25" fill="#eeab1d"/>
<rect x="355.73" y="190.89" width="21.93" height="2.25" fill="#f2ba1c"/>
<rect x="377.67" y="190.89" width="10.97" height="2.25" fill="#d66028"/>
<rect x="388.63" y="190.89" width="43.87" height="2.25" fill="#e68c20"/>
<rect x="432.50" y="190.89" width="10.97" height="2.25" fill="#e07b23"/>
<rect x="443.47" y="190.89" width="10.97" height="2.25" fill="#ea9c1e"/>
<rect x="454.43" y="190.89" width="10.97" height="2.25" fill="#e68c20"/>
<rect x="268.00" y="193.12" width="10.97" height="2.25" fill="#ea9c1e"/>
<rect x="278.97" y="193.12" width="10.97" height="2.25" fill="#e07b23"/>
<rect x="289.93" y="193.12" width="21.93" height="2.25" fill="#e68c20"/>
<rect x="311.87" y="193.12" width="10.97" height="2.25" fill="#e07b23"/>
<rect x="322.83" y="193.12" width="21.93" height="2.25" fill="#ea9c1e"/>
<rect x="344.77" y="193.12" width="21.93" height="2.25" fill="#e68c20"/>
<rect x="366.70" y="193.12" width="10.97" height="2.25" fill="#f7cf1e"/>
<rect x="377.67" y="193.12" width="10.97" height="2.25" fill="#fae426"/>
<rect x="388.63" y="193.12" width="10.97" height="2.25" fill="#f4c41d"/>
<rect x="399.60" y="193.12" width="10.97" height="2.25" fill="#eeab1d"/>
<rect x="410.57" y="193.12" width="10.97" height="2.25" fill="#f9de23"/>
<rect x="421.53" y="193.12" width="10.97" height="2.25" fill="#f7cf1e"/>
<rect x="432.50" y="193.12" width="10.97" height="2.25" fill="#f4c41d"/>
<rect x="443.47" y="193.12" width="10.97" height="2.25" fill="#f2ba1c"/>
<rect x="454.43" y="193.12" width="10.97" height="2.25" fill="#f9de23"/>
<rect x="268.00" y="195.35" width="10.97" height="2.25" fill="#f8d720"/>
<rect x="278.97" y="195.35" width="10.97" height="2.25" fill="#f7cf1e"/>
<rect x="289.93" y="195.35" width="10.97" height="2.25" fill="#f4c41d"/>
<rect x="300.90" y="195.35" width="10.97" height="2.25" fill="#f7cf1e"/>
<rect x="311.87" y="195.35" width="10.97" height="2.25" fill="#f2ba1c"/>
<rect x="322.83" y="195.35" width="10.97" height="2.25" fill="#f8d720"/>
<rect x="333.80" y="195.35" width="10.97" height="2.25" fill="#f2ba1c"/>
<rect x="344.77" y="195.35" width="10.97" height="2.25" fill="#f8d720"/>
<rect x="355.73" y="195.35" width="10.97" height="2.25" fill="#f9de23"/>
<rect x="366.70" y="195.35" width="10.97" height="2.25" fill="#fae426"/>
<rect x="377.67" y="195.35" width="10.97" height="2.25" fill="#f9de23"/>
<rect x="388.63" y="195.35" width="10.97" height="2.25" fill="#fae426"/>
<rect x="399.60" y="195.35" width="10.97" height="2.25" fill="#f9de23"/>
<rect x="410.57" y="195.35" width="10.97" height="2.25" fill="#fae426"/>
<rect x="421.53" y="195.35" width="10.97" height="2.25" fill="#fae426"/>
<rect x="432.50" y="195.35" width="21.93" height="2.25" fill="#fae426"/>
<rect x="454.43" y="195.35" width="10.97" height="2.25" fill="#f8d720"/>
<rect x="268.00" y="197.59" width="10.97" height="2.25" fill="#f8d720"/>
<rect x="278.97" y="197.59" width="10.97" height="2.25" fill="#f7cf1e"/>
<rect x="289.93" y="197.59" width="32.90" height="2.25" fill="#f8d720"/>
<rect x="322.83" y="197.59" width="10.97" height="2.25" fill="#f7cf1e"/>
<rect x="333.80" y="197.59" width="10.97" height="2.25" fill="#f8d720"/>
<rect x="344.77" y="197.59" width="10.97" height="2.25" fill="#fae426"/>
<rect x="355.73" y="197.59" width="10.97" height="2.25" fill="#f9de23"/>
<rect x="366.70" y="197.59" width="21.93" height="2.25" fill="#f4c41d"/>
<rect x="388.63" y="197.59" width="10.97" height="2.25" fill="#eeab1d"/>
<rect x="399.60" y="197.59" width="10.97" height="2.25" fill="#ea9c1e"/>
<rect x="410.57" y="197.59" width="10.97" height="2.25" fill="#eeab1d"/>
<rect x="421.53" y="197.59" width="10.97" height="2.25" fill="#f7cf1e"/>
<rect x="432.50" y="197.59" width="10.97" height="2.25" fill="#f2ba1c"/>
<rect x="443.47" y="197.59" width="21.93" height="2.25" fill="#ea9c1e"/>
<rect x="268.00" y="199.82" width="21.93" height="2.25" fill="#ea9c1e"/>
<rect x="289.93" y="199.82" width="10.97" height="2.25" fill="#eeab1d"/>
<rect x="300.90" y="199.82" width="10.97" height="2.25" fill="#ea9c1e"/>
<rect x="311.87" y="199.82" width="10.97" height="2.25" fill="#e07b23"/>
<rect x="322.83" y="199.82" width="10.97" height="2.25" fill="#d66028"/>
<rect x="333.80" y="199.82" width="10.97" height="2.25" fill="#ea9c1e"/>
<rect x="344.77" y="199.82" width="10.97" height="2.25" fill="#eeab1d"/>
<rect x="355.73" y="199.82" width="10.97" height="2.25" fill="#ea9c1e"/>
<rect x="366.70" y="199.82" width="10.97" height="2.25" fill="#f9de23"/>
<rect x="377.67" y="199.82" width="10.97" height="2.25" fill="#f2ba1c"/>
<rect x="388.63" y="199.82" width="43.87" height="2.25" fill="#f9de23"/>
<rect x="432.50" y="199.82" width="10.97" height="2.25" fill="#f8d720"/>
<rect x="443.47" y="199.82" width="10.97" height="2.25" fill="#fae426"/>
<rect x="454.43" y="199.82" width="10.97" height="2.25" fill="#f9de23"/>
<rect x="268.00" y="202.05" width="21.93" height="2.25" fill="#f7cf1e"/>
<rect x="289.93" y="202.05" width="10.97" height="2.25" fill="#f8d720"/>
<rect x="300.90" y="202.05" width="10.97" height="2.25" fill="#f9de23"/>
<rect x="311.87" y="202.05" width="10.97" height="2.25" fill="#f8d720"/>
<rect x="322.83" y="202.05" width="10.97" height="2.25" fill="#fae426"/>
<rect x="333.80" y="202.05" width="10.97" height="2.25" fill="#f9de23"/>
<rect x="344.77" y="202.05" width="10.97" height="2.25" fill="#f2ba1c"/>
<rect x="355.73" y="202.05" width="21.93" height="2.25" fill="#f7cf1e"/>
<rect x="377.67" y="202.05" width="10.97" height="2.25" fill="#f4c41d"/>
<rect x="388.63" y="202.05" width="32.90" height="2.25" fill="#f7cf1e"/>
<rect x="421.53" y="202.05" width="10.97" height="2.25" fill="#f4c41d"/>
<rect x="432.50" y="202.05" width="10.97" height="2.25" fill="#f9de23"/>
<rect x="443.47" y="202.05" width="10.97" height="2.25" fill="#f4c41d"/>
<rect x="454.43" y="202.05" width="10.97" height="2.25" fill="#f7cf1e"/>
<rect x="268.00" y="204.28" width="10.97" height="2.25" fill="#eeab1d"/>
<rect x="278.97" y="204.28" width="10.97" height="2.25" fill="#ea9c1e"/>
<rect x="289.93" y="204.28" width="21.93" height="2.25" fill="#f2ba1c"/>
<rect x="311.87" y="204.28" width="10.97" height="2.25" fill="#e68c20"/>
<rect x="322.83" y="204.28" width="10.97" height="2.25" fill="#ea9c1e"/>
<rect x="333.80" y="204.28" width="10.97" height="2.25" fill="#f2ba1c"/>
<rect x="344.77" y="204.28" width="21.93" height="2.25" fill="#eeab1d"/>
<rect x="366.70" y="204.28" width="32.90" height="2.25" fill="#f4c41d"/>
<rect x="399.60" y="204.28" width="10.97" height="2.25" fill="#f2ba1c"/>
<rect x="410.57" y="204.28" width="10.97" height="2.25" fill="#d66028"/>
<rect x="421.53" y="204.28" width="10.97" height="2.25" fill="#f7cf1e"/>
<rect x="432.50" y="204.28" width="10.97" height="2.25" fill="#f2ba1c"/>
<rect x="443.47" y="204.28" width="10.97" height="2.25" fill="#f4c41d"/>
<rect x="454.43" y="204.28" width="10.97" height="2.25" fill="#f2ba1c"/>
<rect x="268.00" y="206.51" width="10.97" height="2.25" fill="#f8d720"/>
<rect x="278.97" y="206.51" width="21.93" height="2.25" fill="#f9de23"/>
<rect x="300.90" y="206.51" width="10.97" height="2.25" fill="#f2ba1c"/>
<rect x="311.87" y="206.51" width="10.97" height="2.25" fill="#fae426"/>
<rect x="322.83" y="206.51" width="32.90" height="2.25" fill="#f8d720"/>
<rect x="355.73" y="206.51" width="10.97" height="2.25" fill="#fae426"/>
<rect x="366.70" y="206.51" width="10.97" height="2.25" fill="#fae426"/>
<rect x="377.67" y="206.51" width="10.97" height="2.25" fill="#f9de23"/>
<rect x="388.63" y="206.51" width="10.97" height="2.25" fill="#f7cf1e"/>
<rect x="399.60" y="206.51" width="10.97" height="2.25" fill="#f9de23"/>
<rect x="410.57" y="206.51" width="10.97" height="2.25" fill="#fae426"/>
<rect x="421.53" y="206.51" width="10.97" height="2.25" fill="#f7cf1e"/>
<rect x="432.50" y="206.51" width="10.97" height="2.25" fill="#f4c41d"/>
<rect x="443.47" y="206.51" width="10.97" height="2.25" fill="#fae426"/>
<rect x="454.43" y="206.51" width="10.97" height="2.25" fill="#f9de23"/>
<rect x="268.00" y="208.75" width="10.97" height="2.25" fill="#f4c41d"/>
<rect x="278.97" y="208.75" width="21.93" height="2.25" fill="#f2ba1c"/>
<rect x="300.90" y="208.75" width="10.97" height="2.25" fill="#ea9c1e"/>
<rect x="311.87" y="208.75" width="10.97" height="2.25" fill="#eeab1d"/>
<rect x="322.83" y="208.75" width="10.97" height="2.25" fill="#d66028"/>
<rect x="333.80" y="208.75" width="21.93" height="2.25" fill="#eeab1d"/>
<rect x="355.73" y="208.75" width="10.97" height="2.25" fill="#f2ba1c"/>
<rect x="366.70" y="208.75" width="10.97" height="2.25" fill="#eeab1d"/>
<rect x="377.67" y="208.75" width="21.93" height="2.25" fill="#f8d720"/>
<rect x="399.60" y="208.75" width="10.97" height="2.25" fill="#fae426"/>
<rect x="410.57" y="208.75" width="10.97" height="2.25" fill="#eeab1d"/>
<rect x="421.53" y="208.75" width="43.87" height="2.25" fill="#f9de23"/>
<rect x="268.00" y="210.98" width="10.97" height="2.25" fill="#eeab1d"/>
<rect x="278.97" y="210.98" width="10.97" height="2.25" fill="#f2ba1c"/>
<rect x="289.93" y="210.98" width="10.97" height="2.25" fill="#f4c41d"/>
<rect x="300.90" y="210.98" width="43.87" height="2.25" fill="#f2ba1c"/>
<rect x="344.77" y="210.98" width="10.97" height="2.25" fill="#f4c41d"/>
<rect x="355.73" y="210.98" width="10.97" height="2.25" fill="#eeab1d"/>
<rect x="366.70" y="210.98" width="21.93" height="2.25" fill="#fae426"/>
<rect x="388.63" y="210.98" width="21.93" height="2.25" fill="#f7cf1e"/>
<rect x="410.57" y="210.98" width="21.93" height="2.25" fill="#fae426"/>
<rect x="432.50" y="210.98" width="32.90" height="2.25" fill="#f7cf1e"/>
<rect x="268.00" y="213.21" width="10.97" height="2.25" fill="#f7cf1e"/>
<rect x="278.97" y="213.21" width="21.93" height="2.25" fill="#f4c41d"/>
<rect x="300.90" y="213.21" width="21.93" height="2.25" fill="#f8d720"/>
<rect x="322.83" y="213.21" width="10.97" height="2.25" fill="#f4c41d"/>
<rect x="333.80" y="213.21" width="10.97" height="2.25" fill="#f7cf1e"/>
<rect x="344.77" y="213.21" width="10.97" height="2.25" fill="#f2ba1c"/>
<rect x="355.73" y="213.21" width="10.97" height="2.25" fill="#f9de23"/>
<rect x="366.70" y="213.21" width="43.87" height="2.25" fill="#f7cf1e"/>
<rect x="410.57" y="213.21" width="21.93" height="2.25" fill="#f9de23"/>
<rect x="432.50" y="213.21" width="10.97" height="2.25" fill="#f7cf1e"/>
<rect x="443.47" y="213.21" width="10.97" height="2.25" fill="#f8d720"/>
<rect x="454.43" y="213.21" width="10.97" height="2.25" fill="#fae426"/>
<rect x="268.00" y="215.44" width="10.97" height="2.25" fill="#f7cf1e"/>
<rect x="278.97" y="215.44" width="10.97" height="2.25" fill="#f4c41d"/>
<rect x="289.93" y="215.44" width="10.97" height="2.25" fill="#f7cf1e"/>
<rect x="300.90" y="215.44" width="21.93" height="2.25" fill="#f8d720"/>
<rect x="322.83" y="215.44" width="21.93" height="2.25" fill="#f7cf1e"/>
<rect x="344.77" y="215.44" width="10.97" height="2.25" fill="#f4c41d"/>
<rect x="355.73" y="215.44" width="10.97" height="2.25" fill="#f9de23"/>
<rect x="366.70" y="215.44" width="21.93" height="2.25" fill="#f2ba1c"/>
<rect x="388.63" y="215.44" width="10.97" height="2.25" fill="#e68c20"/>
<rect x="399.60" y="215.44" width="10.97" height="2.25" fill="#e07b23"/>
<rect x="410.57" y="215.44" width="10.97" height="2.25" fill="#f8d720"/>
<rect x="421.53" y="215.44" width="10.97" height="2.25" fill="#ea9c1e"/>
<rect x="432.50" y="215.44" width="10.97" height="2.25" fill="#eeab1d"/>
<rect x="443.47" y="215.44" width="10.97" height="2.25" fill="#f2ba1c"/>
<rect x="454.43" y="215.44" width="10.97" height="2.25" fill="#e68c20"/>
<rect x="268.00" y="217.67" width="10.97" height="2.25" fill="#ea9c1e"/>
<rect x="278.97" y="217.67" width="10.97" height="2.25" fill="#e07b23"/>
<rect x="289.93" y="217.67" width="10.97" height="2.25" fill="#ea9c1e"/>
<rect x="300.90" y="217.67" width="10.97" height="2.25" fill="#d66028"/>
<rect x="311.87" y="217.67" width="21.93" height="2.25" fill="#e68c20"/>
<rect x="333.80" y="217.67" width="10.97" height="2.25" fill="#ea9c1e"/>
<rect x="344.77" y="217.67" width="10.97" height="2.25" fill="#e07b23"/>
<rect x="355.73" y="217.67" width="10.97" height="2.25" fill="#d66028"/>
<rect x="366.70" y="217.67" width="10.97" height="2.25" fill="#f4c41d"/>
<rect x="377.67" y="217.67" width="10.97" height="2.25" fill="#f7cf1e"/>
<rect x="388.63" y="217.67" width="10.97" height="2.25" fill="#f8d720"/>
<rect x="399.60" y="217.67" width="10.97" height="2.25" fill="#fae426"/>
<rect x="410.57" y="217.67" width="10.97" height="2.25" fill="#f9de23"/>
<rect x="421.53" y="217.67" width="10.97" height="2.25" fill="#f7cf1e"/>
<rect x="432.50" y="217.67" width="10.97" height="2.25" fill="#f8d720"/>
<rect x="443.47" y="217.67" width="10.97" height="2.25" fill="#f9de23"/>
<rect x="454.43" y="217.67" width="10.97" height="2.25" fill="#f8d720"/>
<rect x="268.00" y="219.90" width="10.97" height="2.25" fill="#e07b23"/>
<rect x="278.97" y="219.90" width="10.97" height="2.25" fill="#eeab1d"/>
<rect x="289.93" y="219.90" width="21.93" height="2.25" fill="#ea9c1e"/>
<rect x="311.87" y="219.90" width="10.97" height="2.25" fill="#f4c41d"/>
<rect x="322.83" y="219.90" width="10.97" height="2.25" fill="#e68c20"/>
<rect x="333.80" y="219.90" width="10.97" height="2.25" fill="#f2ba1c"/>
<rect x="344.77" y="219.90" width="10.97" height="2.25" fill="#ea9c1e"/>
<rect x="355.73" y="219.90" width="10.97" height="2.25" fill="#eeab1d"/>
<rect x="366.70" y="219.90" width="10.97" height="2.25" fill="#f8d720"/>
<rect x="377.67" y="219.90" width="32.90" height="2.25" fill="#f4c41d"/>
<rect x="410.57" y="219.90" width="10.97" height="2.25" fill="#f8d720"/>
<rect x="421.53" y="219.90" width="10.97" height="2.25" fill="#f4c41d"/>
<rect x="432.50" y="219.90" width="10.97" height="2.25" fill="#f9de23"/>
<rect x="443.47" y="219.90" width="10.97" height="2.25" fill="#f7cf1e"/>
<rect x="454.43" y="219.90" width="10.97" height="2.25" fill="#f4c41d"/>
<rect x="268.00" y="222.14" width="10.97" height="2.25" fill="#f8d720"/>
<rect x="278.97" y="222.14" width="10.97" height="2.25" fill="#f7cf1e"/>
<rect x="289.93" y="222.14" width="10.97" height="2.25" fill="#f8d720"/>
<rect x="300.90" y="222.14" width="10.97" height="2.25" fill="#f7cf1e"/>
<rect x="311.87" y="222.14" width="10.97" height="2.25" fill="#f4c41d"/>
<rect x="322.83" y="222.14" width="10.97" height="2.25" fill="#f9de23"/>
<rect x="333.80" y="222.14" width="10.97" height="2.25" fill="#f2ba1c"/>
<rect x="344.77" y="222.14" width="10.97" height="2.25" fill="#f4c41d"/>
<rect x="355.73" y="222.14" width="10.97" height="2.25" fill="#f7cf1e"/>
<rect x="366.70" y="222.14" width="10.97" height="2.25" fill="#f9de23"/>
<rect x="377.67" y="222.14" width="10.97" height="2.25" fill="#f7cf1e"/>
<rect x="388.63" y="222.14" width="10.97" height="2.25" fill="#f9de23"/>
<rect x="399.60" y="222.14" width="10.97" height="2.25" fill="#f8d720"/>
<rect x="410.57" y="222.14" width="10.97" height="2.25" fill="#f9de23"/>
<rect x="421.53" y="222.14" width="43.87" height="2.25" fill="#f8d720"/>
<rect x="268.00" y="224.37" width="10.97" height="2.25" fill="#e07b23"/>
<rect x="278.97" y="224.37" width="10.97" height="2.25" fill="#d66028"/>
<rect x="289.93" y="224.37" width="10.97" height="2.25" fill="#e07b23"/>
<rect x="300.90" y="224.37" width="21.93" height="2.25" fill="#ea9c1e"/>
<rect x="322.83" y="224.37" width="10.97" height="2.25" fill="#d66028"/>
<rect x="333.80" y="224.37" width="32.90" height="2.25" fill="#e68c20"/>
<rect x="366.70" y="224.37" width="10.97" height="2.25" fill="#ea9c1e"/>
<rect x="377.67" y="224.37" width="10.97" height="2.25" fill="#d66028"/>
<rect x="388.63" y="224.37" width="10.97" height="2.25" fill="#e07b23"/>
<rect x="399.60" y="224.37" width="32.90" height="2.25" fill="#ea9c1e"/>
<rect x="432.50" y="224.37" width="10.97" height="2.25" fill="#eeab1d"/>
<rect x="443.47" y="224.37" width="21.93" height="2.25" fill="#e07b23"/>
<rect x="268.00" y="226.60" width="10.97" height="2.25" fill="#eeab1d"/>
<rect x="278.97" y="226.60" width="10.97" height="2.25" fill="#f2ba1c"/>
<rect x="289.93" y="226.60" width="10.97" height="2.25" fill="#eeab1d"/>
<rect x="300.90" y="226.60" width="10.97" height="2.25" fill="#f2ba1c"/>
<rect x="311.87" y="226.60" width="10.97" height="2.25" fill="#eeab1d"/>
<rect x="322.83" y="226.60" width="10.97" height="2.25" fill="#ea9c1e"/>
<rect x="333.80" y="226.60" width="32.90" height="2.25" fill="#eeab1d"/>
<rect x="366.70" y="226.60" width="10.97" height="2.25" fill="#f4c41d"/>
<rect x="377.67" y="226.60" width="10.97" height="2.25" fill="#f2ba1c"/>
<rect x="388.63" y="226.60" width="10.97" height="2.25" fill="#f4c41d"/>
<rect x="399.60" y="226.60" width="10.97" height="2.25" fill="#f2ba1c"/>
<rect x="410.57" y="226.60" width="10.97" height="2.25" fill="#f4c41d"/>
<rect x="421.53" y="226.60" width="10.97" height="2.25" fill="#f7cf1e"/>
<rect x="432.50" y="226.60" width="10.97" height="2.25" fill="#e07b23"/>
<rect x="443.47" y="226.60" width="10.97" height="2.25" fill="#f7cf1e"/>
<rect x="454.43" y="226.60" width="10.97" height="2.25" fill="#f4c41d"/>
<rect x="268.00" y="228.83" width="10.97" height="2.25" fill="#e68c20"/>
<rect x="278.97" y="228.83" width="21.93" height="2.25" fill="#ea9c1e"/>
<rect x="300.90" y="228.83" width="21.93" height="2.25" fill="#eeab1d"/>
<rect x="322.83" y="228.83" width="10.97" height="2.25" fill="#ea9c1e"/>
<rect x="333.80" y="228.83" width="10.97" height="2.25" fill="#eeab1d"/>
<rect x="344.77" y="228.83" width="10.97" height="2.25" fill="#e68c20"/>
<rect x="355.73" y="228.83" width="10.97" height="2.25" fill="#f7cf1e"/>
<rect x="366.70" y="228.83" width="10.97" height="2.25" fill="#fae426"/>
<rect x="377.67" y="228.83" width="10.97" height="2.25" fill="#f7cf1e"/>
<rect x="388.63" y="228.83" width="10.97" height="2.25" fill="#f8d720"/>
<rect x="399.60" y="228.83" width="10.97" height="2.25" fill="#fae426"/>
<rect x="410.57" y="228.83" width="10.97" height="2.25" fill="#f8d720"/>
<rect x="421.53" y="228.83" width="10.97" height="2.25" fill="#f7cf1e"/>
<rect x="432.50" y="228.83" width="10.97" height="2.25" fill="#f9de23"/>
<rect x="443.47" y="228.83" width="10.97" height="2.25" fill="#fae426"/>
<rect x="454.43" y="228.83" width="10.97" height="2.25" fill="#f8d720"/>
<rect x="268.00" y="231.06" width="21.93" height="2.25" fill="#eeab1d"/>
<rect x="289.93" y="231.06" width="10.97" height="2.25" fill="#ea9c1e"/>
<rect x="300.90" y="231.06" width="10.97" height="2.25" fill="#eeab1d"/>
<rect x="311.87" y="231.06" width="10.97" height="2.25" fill="#f4c41d"/>
<rect x="322.83" y="231.06" width="10.97" height="2.25" fill="#ea9c1e"/>
<rect x="333.80" y="231.06" width="10.97" height="2.25" fill="#eeab1d"/>
<rect x="344.77" y="231.06" width="10.97" height="2.25" fill="#ea9c1e"/>
<rect x="355.73" y="231.06" width="10.97" height="2.25" fill="#eeab1d"/>
<rect x="366.70" y="231.06" width="10.97" height="2.25" fill="#e68c20"/>
<rect x="377.67" y="231.06" width="10.97" height="2.25" fill="#e07b23"/>
<rect x="388.63" y="231.06" width="10.97" height="2.25" fill="#ea9c1e"/>
<rect x="399.60" y="231.06" width="10.97" height="2.25" fill="#e68c20"/>
<rect x="410.57" y="231.06" width="10.97" height="2.25" fill="#ea9c1e"/>
<rect x="421.53" y="231.06" width="10.97" height="2.25" fill="#f4c41d"/>
<rect x="432.50" y="231.06" width="10.97" height="2.25" fill="#eeab1d"/>
<rect x="443.47" y="231.06" width="10.97" height="2.25" fill="#ea9c1e"/>
<rect x="454.43" y="231.06" width="10.97" height="2.25" fill="#e68c20"/>
<rect x="268.00" y="233.30" width="10.97" height="2.25" fill="#f8d720"/>
<rect x="278.97" y="233.30" width="10.97" height="2.25" fill="#f9de23"/>
<rect x="289.93" y="233.30" width="10.97" height="2.25" fill="#f4c41d"/>
<rect x="300.90" y="233.30" width="10.97" height="2.25" fill="#eeab1d"/>
<rect x="311.87" y="233.30" width="54.83" height="2.25" fill="#f7cf1e"/>
<rect x="366.70" y="233.30" width="21.93" height="2.25" fill="#fae426"/>
<rect x="388.63" y="233.30" width="10.97" height="2.25" fill="#fae426"/>
<rect x="399.60" y="233.30" width="10.97" height="2.25" fill="#fae426"/>
<rect x="410.57" y="233.30" width="10.97" height="2.25" fill="#fae426"/>
<rect x="421.53" y="233.30" width="21.93" height="2.25" fill="#fae426"/>
<rect x="443.47" y="233.30" width="21.93" height="2.25" fill="#fae426"/>
<rect x="268.00" y="235.53" width="10.97" height="2.25" fill="#e07b23"/>
<rect x="278.97" y="235.53" width="21.93" height="2.25" fill="#e68c20"/>
<rect x="300.90" y="235.53" width="10.97" height="2.25" fill="#eeab1d"/>
<rect x="311.87" y="235.53" width="21.93" height="2.25" fill="#e68c20"/>
<rect x="333.80" y="235.53" width="10.97" height="2.25" fill="#e07b23"/>
<rect x="344.77" y="235.53" width="10.97" height="2.25" fill="#d66028"/>
<rect x="355.73" y="235.53" width="10.97" height="2.25" fill="#e07b23"/>
<rect x="366.70" y="235.53" width="21.93" height="2.25" fill="#ea9c1e"/>
<rect x="388.63" y="235.53" width="10.97" height="2.25" fill="#eeab1d"/>
<rect x="399.60" y="235.53" width="10.97" height="2.25" fill="#e68c20"/>
<rect x="410.57" y="235.53" width="21.93" height="2.25" fill="#d66028"/>
<rect x="432.50" y="235.53" width="10.97" height="2.25" fill="#eeab1d"/>
<rect x="443.47" y="235.53" width="10.97" height="2.25" fill="#ea9c1e"/>
<rect x="454.43" y="235.53" width="10.97" height="2.25" fill="#e07b23"/>
<rect x="268.00" y="237.76" width="10.97" height="2.25" fill="#f2ba1c"/>
<rect x="278.97" y="237.76" width="10.97" height="2.25" fill="#f4c41d"/>
<rect x="289.93" y="237.76" width="10.97" height="2.25" fill="#f9de23"/>
<rect x="300.90" y="237.76" width="10.97" height="2.25" fill="#f4c41d"/>
<rect x="311.87" y="237.76" width="10.97" height="2.25" fill="#f2ba1c"/>
<rect x="322.83" y="237.76" width="10.97" height="2.25" fill="#f7cf1e"/>
<rect x="333.80" y="237.76" width="10.97" height="2.25" fill="#fae426"/>
<rect x="344.77" y="237.76" width="10.97" height="2.25" fill="#f4c41d"/>
<rect x="355.73" y="237.76" width="10.97" height="2.25" fill="#f2ba1c"/>
<rect x="366.70" y="237.76" width="10.97" height="2.25" fill="#e68c20"/>
<rect x="377.67" y="237.76" width="21.93" height="2.25" fill="#ea9c1e"/>
<rect x="399.60" y="237.76" width="10.97" height="2.25" fill="#f2ba1c"/>
<rect x="410.57" y="237.76" width="10.97" height="2.25" fill="#e68c20"/>
<rect x="421.53" y="237.76" width="10.97" height="2.25" fill="#ea9c1e"/>
<rect x="432.50" y="237.76" width="10.97" height="2.25" fill="#f4c41d"/>
<rect x="443.47" y="237.76" width="21.93" height="2.25" fill="#ea9c1e"/>
<rect x="268.00" y="239.99" width="10.97" height="2.25" fill="#f7cf1e"/>
<rect x="278.97" y="239.99" width="10.97" height="2.25" fill="#e07b23"/>
<rect x="289.93" y="239.99" width="10.97" height="2.25" fill="#f2ba1c"/>
<rect x="300.90" y="239.99" width="10.97" height="2.25" fill="#e68c20"/>
<rect x="311.87" y="239.99" width="10.97" height="2.25" fill="#ea9c1e"/>
<rect x="322.83" y="239.99" width="10.97" height="2.25" fill="#e68c20"/>
<rect x="333.80" y="239.99" width="32.90" height="2.25" fill="#ea9c1e"/>
<rect x="366.70" y="239.99" width="21.93" height="2.25" fill="#eeab1d"/>
<rect x="388.63" y="239.99" width="10.97" height="2.25" fill="#f8d720"/>
<rect x="399.60" y="239.99" width="10.97" height="2.25" fill="#eeab1d"/>
<rect x="410.57" y="239.99" width="10.97" height="2.25" fill="#f4c41d"/>
<rect x="421.53" y="239.99" width="10.97" height="2.25" fill="#eeab1d"/>
<rect x="432.50" y="239.99" width="10.97" height="2.25" fill="#e68c20"/>
<rect x="443.47" y="239.99" width="10.97" height="2.25" fill="#ea9c1e"/>
<rect x="454.43" y="239.99" width="10.97" height="2.25" fill="#eeab1d"/>
<rect x="268.00" y="242.22" width="10.97" height="2.25" fill="#eeab1d"/>
<rect x="278.97" y="242.22" width="10.97" height="2.25" fill="#ea9c1e"/>
<rect x="289.93" y="242.22" width="10.97" height="2.25" fill="#d66028"/>
<rect x="300.90" y="242.22" width="10.97" height="2.25" fill="#f9de23"/>
<rect x="311.87" y="242.22" width="10.97" height="2.25" fill="#f2ba1c"/>
<rect x="322.83" y="242.22" width="21.93" height="2.25" fill="#e68c20"/>
<rect x="344.77" y="242.22" width="10.97" height="2.25" fill="#eeab1d"/>
<rect x="355.73" y="242.22" width="10.97" height="2.25" fill="#ea9c1e"/>
<rect x="366.70" y="242.22" width="65.80" height="2.25" fill="#f2ba1c"/>
<rect x="432.50" y="242.22" width="10.97" height="2.25" fill="#f7cf1e"/>
<rect x="443.47" y="242.22" width="10.97" height="2.25" fill="#eeab1d"/>
<rect x="454.43" y="242.22" width="10.97" height="2.25" fill="#f7cf1e"/>
<rect x="268.00" y="244.45" width="10.97" height="2.25" fill="#fae426"/>
<rect x="278.97" y="244.45" width="10.97" height="2.25" fill="#f7cf1e"/>
<rect x="289.93" y="244.45" width="10.97" height="2.25" fill="#f9de23"/>
<rect x="300.90" y="244.45" width="10.97" height="2.25" fill="#fae426"/>
<rect x="311.87" y="244.45" width="10.97" height="2.25" fill="#f9de23"/>
<rect x="322.83" y="244.45" width="10.97" height="2.25" fill="#eeab1d"/>
<rect x="333.80" y="244.45" width="10.97" height="2.25" fill="#f9de23"/>
<rect x="344.77" y="244.45" width="10.97" height="2.25" fill="#fae426"/>
<rect x="355.73" y="244.45" width="10.97" height="2.25" fill="#f9de23"/>
<rect x="366.70" y="244.45" width="10.97" height="2.25" fill="#fae426"/>
<rect x="377.67" y="244.45" width="10.97" height="2.25" fill="#fae426"/>
<rect x="388.63" y="244.45" width="10.97" height="2.25" fill="#fae426"/>
<rect x="399.60" y="244.45" width="10.97" height="2.25" fill="#fae426"/>
<rect x="410.57" y="244.45" width="10.97" height="2.25" fill="#fae426"/>
<rect x="421.53" y="244.45" width="10.97" height="2.25" fill="#fae426"/>
<rect x="432.50" y="244.45" width="10.97" height="2.25" fill="#f9de23"/>
<rect x="443.47" y="244.45" width="10.97" height="2.25" fill="#fae426"/>
<rect x="454.43" y="244.45" width="10.97" height="2.25" fill="#fae426"/>
<rect x="268.00" y="246.69" width="21.93" height="2.25" fill="#f2ba1c"/>
<rect x="289.93" y="246.69" width="10.97" height="2.25" fill="#f7cf1e"/>
<rect x="300.90" y="246.69" width="21.93" height="2.25" fill="#eeab1d"/>
<rect x="322.83" y="246.69" width="10.97" height="2.25" fill="#f7cf1e"/>
<rect x="333.80" y="246.69" width="10.97" height="2.25" fill="#f4c41d"/>
<rect x="344.77" y="246.69" width="10.97" height="2.25" fill="#e68c20"/>
<rect x="355.73" y="246.69" width="10.97" height="2.25" fill="#eeab1d"/>
<rect x="366.70" y="246.69" width="10.97" height="2.25" fill="#f8d720"/>
<rect x="377.67" y="246.69" width="10.97" height="2.25" fill="#f9de23"/>
<rect x="388.63" y="246.69" width="10.97" height="2.25" fill="#f7cf1e"/>
<rect x="399.60" y="246.69" width="32.90" height="2.25" fill="#f8d720"/>
<rect x="432.50" y="246.69" width="10.97" height="2.25" fill="#f7cf1e"/>
<rect x="443.47" y="246.69" width="10.97" height="2.25" fill="#f4c41d"/>
<rect x="454.43" y="246.69" width="10.97" height="2.25" fill="#f9de23"/>
<rect x="268.00" y="248.92" width="10.97" height="2.25" fill="#f8d720"/>
<rect x="278.97" y="248.92" width="10.97" height="2.25" fill="#f2ba1c"/>
<rect x="289.93" y="248.92" width="10.97" height="2.25" fill="#f4c41d"/>
<rect x="300.90" y="248.92" width="10.97" height="2.25" fill="#fae426"/>
<rect x="311.87" y="248.92" width="10.97" height="2.25" fill="#f7cf1e"/>
<rect x="322.83" y="248.92" width="10.97" height="2.25" fill="#f4c41d"/>
<rect x="333.80" y="248.92" width="10.97" height="2.25" fill="#f8d720"/>
<rect x="344.77" y="248.92" width="10.97" height="2.25" fill="#f9de23"/>
<rect x="355.73" y="248.92" width="10.97" height="2.25" fill="#f7cf1e"/>
<rect x="366.70" y="248.92" width="10.97" height="2.25" fill="#f9de23"/>
<rect x="377.67" y="248.92" width="10.97" height="2.25" fill="#fae426"/>
<rect x="388.63" y="248.92" width="10.97" height="2.25" fill="#f8d720"/>
<rect x="399.60" y="248.92" width="10.97" height="2.25" fill="#f9de23"/>
<rect x="410.57" y="248.92" width="10.97" height="2.25" fill="#f7cf1e"/>
<rect x="421.53" y="248.92" width="10.97" height="2.25" fill="#eeab1d"/>
<rect x="432.50" y="248.92" width="10.97" height="2.25" fill="#f9de23"/>
<rect x="443.47" y="248.92" width="10.97" height="2.25" fill="#f4c41d"/>
<rect x="454.43" y="248.92" width="10.97" height="2.25" fill="#f2ba1c"/>
<rect x="268.00" y="251.15" width="10.97" height="2.25" fill="#f8d720"/>
<rect x="278.97" y="251.15" width="10.97" height="2.25" fill="#fae426"/>
<rect x="289.93" y="251.15" width="10.97" height="2.25" fill="#f7cf1e"/>
<rect x="300.90" y="251.15" width="10.97" height="2.25" fill="#f8d720"/>
<rect x="311.87" y="251.15" width="10.97" height="2.25" fill="#f7cf1e"/>
<rect x="322.83" y="251.15" width="10.97" height="2.25" fill="#f8d720"/>
<rect x="333.80" y="251.15" width="10.97" height="2.25" fill="#f7cf1e"/>
<rect x="344.77" y="251.15" width="21.93" height="2.25" fill="#f8d720"/>
<rect x="366.70" y="251.15" width="10.97" height="2.25" fill="#f7cf1e"/>
<rect x="377.67" y="251.15" width="10.97" height="2.25" fill="#fae426"/>
<rect x="388.63" y="251.15" width="10.97" height="2.25" fill="#f7cf1e"/>
<rect x="399.60" y="251.15" width="43.87" height="2.25" fill="#f9de23"/>
<rect x="443.47" y="251.15" width="10.97" height="2.25" fill="#f7cf1e"/>
<rect x="454.43" y="251.15" width="10.97" height="2.25" fill="#fae426"/>
<rect x="268.00" y="253.38" width="10.97" height="2.25" fill="#f2ba1c"/>
<rect x="278.97" y="253.38" width="10.97" height="2.25" fill="#ea9c1e"/>
<rect x="289.93" y="253.38" width="10.97" height="2.25" fill="#d66028"/>
<rect x="300.90" y="253.38" width="10.97" height="2.25" fill="#e68c20"/>
<rect x="311.87" y="253.38" width="10.97" height="2.25" fill="#eeab1d"/>
<rect x="322.83" y="253.38" width="10.97" height="2.25" fill="#e68c20"/>
<rect x="333.80" y="253.38" width="10.97" height="2.25" fill="#eeab1d"/>
<rect x="344.77" y="253.38" width="21.93" height="2.25" fill="#ea9c1e"/>
<rect x="366.70" y="253.38" width="21.93" height="2.25" fill="#eeab1d"/>
<rect x="388.63" y="253.38" width="10.97" height="2.25" fill="#ea9c1e"/>
<rect x="399.60" y="253.38" width="10.97" height="2.25" fill="#f2ba1c"/>
<rect x="410.57" y="253.38" width="32.90" height="2.25" fill="#ea9c1e"/>
<rect x="443.47" y="253.38" width="10.97" height="2.25" fill="#d66028"/>
<rect x="454.43" y="253.38" width="10.97" height="2.25" fill="#eeab1d"/>
<rect x="268.00" y="255.61" width="10.97" height="2.25" fill="#f9de23"/>
<rect x="278.97" y="255.61" width="32.90" height="2.25" fill="#f8d720"/>
<rect x="311.87" y="255.61" width="10.97" height="2.25" fill="#f9de23"/>
<rect x="322.83" y="255.61" width="10.97" height="2.25" fill="#f4c41d"/>
<rect x="333.80" y="255.61" width="10.97" height="2.25" fill="#f7cf1e"/>
<rect x="344.77" y="255.61" width="10.97" height="2.25" fill="#f8d720"/>
<rect x="355.73" y="255.61" width="21.93" height="2.25" fill="#f7cf1e"/>
<rect x="377.67" y="255.61" width="10.97" height="2.25" fill="#f4c41d"/>
<rect x="388.63" y="255.61" width="10.97" height="2.25" fill="#fae426"/>
<rect x="399.60" y="255.61" width="10.97" height="2.25" fill="#f8d720"/>
<rect x="410.57" y="255.61" width="21.93" height="2.25" fill="#f9de23"/>
<rect x="432.50" y="255.61" width="10.97" height="2.25" fill="#f8d720"/>
<rect x="443.47" y="255.61" width="10.97" height="2.25" fill="#fae426"/>
<rect x="454.43" y="255.61" width="10.97" height="2.25" fill="#f8d720"/>
<rect x="268.00" y="257.85" width="10.97" height="2.25" fill="#ea9c1e"/>
<rect x="278.97" y="257.85" width="21.93" height="2.25" fill="#e68c20"/>
<rect x="300.90" y="257.85" width="10.97" height="2.25" fill="#eeab1d"/>
<rect x="311.87" y="257.85" width="21.93" height="2.25" fill="#ea9c1e"/>
<rect x="333.80" y="257.85" width="10.97" height="2.25" fill="#e68c20"/>
<rect x="344.77" y="257.85" width="10.97" height="2.25" fill="#ea9c1e"/>
<rect x="355.73" y="257.85" width="10.97" height="2.25" fill="#f2ba1c"/>
<rect x="366.70" y="257.85" width="10.97" height="2.25" fill="#eeab1d"/>
<rect x="377.67" y="257.85" width="10.97" height="2.25" fill="#ea9c1e"/>
<rect x="388.63" y="257.85" width="10.97" height="2.25" fill="#f2ba1c"/>
<rect x="399.60" y="257.85" width="10.97" height="2.25" fill="#eeab1d"/>
<rect x="410.57" y="257.85" width="10.97" height="2.25" fill="#f2ba1c"/>
<rect x="421.53" y="257.85" width="10.97" height="2.25" fill="#e68c20"/>
<rect x="432.50" y="257.85" width="10.97" height="2.25" fill="#ea9c1e"/>
<rect x="443.47" y="257.85" width="10.97" height="2.25" fill="#f4c41d"/>
<rect x="454.43" y="257.85" width="10.97" height="2.25" fill="#ea9c1e"/>
<rect x="268.00" y="260.08" width="10.97" height="2.25" fill="#f7cf1e"/>
<rect x="278.97" y="260.08" width="21.93" height="2.25" fill="#fae426"/>
<rect x="300.90" y="260.08" width="10.97" height="2.25" fill="#f8d720"/>
<rect x="311.87" y="260.08" width="10.97" height="2.25" fill="#f7cf1e"/>
<rect x="322.83" y="260.08" width="10.97" height="2.25" fill="#f8d720"/>
<rect x="333.80" y="260.08" width="10.97" height="2.25" fill="#f9de23"/>
<rect x="344.77" y="260.08" width="10.97" height="2.25" fill="#f4c41d"/>
<rect x="355.73" y="260.08" width="10.97" height="2.25" fill="#f8d720"/>
<rect x="366.70" y="260.08" width="21.93" height="2.25" fill="#f7cf1e"/>
<rect x="388.63" y="260.08" width="10.97" height="2.25" fill="#f9de23"/>
<rect x="399.60" y="260.08" width="21.93" height="2.25" fill="#f7cf1e"/>
<rect x="421.53" y="260.08" width="10.97" height="2.25" fill="#fae426"/>
<rect x="432.50" y="260.08" width="32.90" height="2.25" fill="#f9de23"/>
<rect x="268.00" y="262.31" width="10.97" height="2.25" fill="#e68c20"/>
<rect x="278.97" y="262.31" width="10.97" height="2.25" fill="#f2ba1c"/>
<rect x="289.93" y="262.31" width="10.97" height="2.25" fill="#e68c20"/>
<rect x="300.90" y="262.31" width="10.97" height="2.25" fill="#ea9c1e"/>
<rect x="311.87" y="262.31" width="21.93" height="2.25" fill="#eeab1d"/>
<rect x="333.80" y="262.31" width="10.97" height="2.25" fill="#ea9c1e"/>
<rect x="344.77" y="262.31" width="10.97" height="2.25" fill="#e68c20"/>
<rect x="355.73" y="262.31" width="10.97" height="2.25" fill="#ea9c1e"/>
<rect x="366.70" y="262.31" width="10.97" height="2.25" fill="#fae426"/>
<rect x="377.67" y="262.31" width="10.97" height="2.25" fill="#f9de23"/>
<rect x="388.63" y="262.31" width="21.93" height="2.25" fill="#fae426"/>
<rect x="410.57" y="262.31" width="10.97" height="2.25" fill="#fae426"/>
<rect x="421.53" y="262.31" width="10.97" height="2.25" fill="#f8d720"/>
<rect x="432.50" y="262.31" width="10.97" height="2.25" fill="#fae426"/>
<rect x="443.47" y="262.31" width="10.97" height="2.25" fill="#f8d720"/>
<rect x="454.43" y="262.31" width="10.97" height="2.25" fill="#fae426"/>
<rect x="268.00" y="264.54" width="10.97" height="2.25" fill="#f4c41d"/>
<rect x="278.97" y="264.54" width="54.83" height="2.25" fill="#f2ba1c"/>
<rect x="333.80" y="264.54" width="10.97" height="2.25" fill="#f4c41d"/>
<rect x="344.77" y="264.54" width="10.97" height="2.25" fill="#ea9c1e"/>
<rect x="355.73" y="264.54" width="10.97" height="2.25" fill="#f2ba1c"/>
<rect x="366.70" y="264.54" width="10.97" height="2.25" fill="#f8d720"/>
<rect x="377.67" y="264.54" width="10.97" height="2.25" fill="#f4c41d"/>
<rect x="388.63" y="264.54" width="10.97" height="2.25" fill="#fae426"/>
<rect x="399.60" y="264.54" width="10.97" height="2.25" fill="#f8d720"/>
<rect x="410.57" y="264.54" width="10.97" height="2.25" fill="#f7cf1e"/>
<rect x="421.53" y="264.54" width="10.97" height="2.25" fill="#f8d720"/>
<rect x="432.50" y="264.54" width="10.97" height="2.25" fill="#f9de23"/>
<rect x="443.47" y="264.54" width="10.97" height="2.25" fill="#fae426"/>
<rect x="454.43" y="264.54" width="10.97" height="2.25" fill="#f8d720"/>
<rect x="268.00" y="266.77" width="21.93" height="2.25" fill="#f7cf1e"/>
<rect x="289.93" y="266.77" width="21.93" height="2.25" fill="#fae426"/>
<rect x="311.87" y="266.77" width="10.97" height="2.25" fill="#f7cf1e"/>
<rect x="322.83" y="266.77" width="10.97" height="2.25" fill="#f9de23"/>
<rect x="333.80" y="266.77" width="10.97" height="2.25" fill="#fae426"/>
<rect x="344.77" y="266.77" width="10.97" height="2.25" fill="#fae426"/>
<rect x="355.73" y="266.77" width="10.97" height="2.25" fill="#f8d720"/>
<rect x="366.70" y="266.77" width="21.93" height="2.25" fill="#f9de23"/>
<rect x="388.63" y="266.77" width="10.97" height="2.25" fill="#f8d720"/>
<rect x="399.60" y="266.77" width="10.97" height="2.25" fill="#fae426"/>
<rect x="410.57" y="266.77" width="32.90" height="2.25" fill="#fae426"/>
<rect x="443.47" y="266.77" width="10.97" height="2.25" fill="#fae426"/>
<rect x="454.43" y="266.77" width="10.97" height="2.25" fill="#f4c41d"/>
<rect x="268.00" y="269.00" width="21.93" height="2.25" fill="#ea9c1e"/>
<rect x="289.93" y="269.00" width="10.97" height="2.25" fill="#eeab1d"/>
<rect x="300.90" y="269.00" width="10.97" height="2.25" fill="#e68c20"/>
<rect x="311.87" y="269.00" width="10.97" height="2.25" fill="#f7cf1e"/>
<rect x="322.83" y="269.00" width="10.97" height="2.25" fill="#f4c41d"/>
<rect x="333.80" y="269.00" width="21.93" height="2.25" fill="#e07b23"/>
<rect x="355.73" y="269.00" width="10.97" height="2.25" fill="#ea9c1e"/>
<rect x="366.70" y="269.00" width="10.97" height="2.25" fill="#f4c41d"/>
<rect x="377.67" y="269.00" width="10.97" height="2.25" fill="#ea9c1e"/>
<rect x="388.63" y="269.00" width="10.97" height="2.25" fill="#d66028"/>
<rect x="399.60" y="269.00" width="10.97" height="2.25" fill="#e07b23"/>
<rect x="410.57" y="269.00" width="10.97" height="2.25" fill="#ea9c1e"/>
<rect x="421.53" y="269.00" width="10.97" height="2.25" fill="#f2ba1c"/>
<rect x="432.50" y="269.00" width="10.97" height="2.25" fill="#eeab1d"/>
<rect x="443.47" y="269.00" width="21.93" height="2.25" fill="#ea9c1e"/>
<rect x="268.00" y="271.24" width="10.97" height="2.25" fill="#e68c20"/>
<rect x="278.97" y="271.24" width="10.97" height="2.25" fill="#d66028"/>
<rect x="289.93" y="271.24" width="10.97" height="2.25" fill="#e68c20"/>
<rect x="300.90" y="271.24" width="10.97" height="2.25" fill="#ea9c1e"/>
<rect x="311.87" y="271.24" width="21.93" height="2.25" fill="#e68c20"/>
<rect x="333.80" y="271.24" width="32.90" height="2.25" fill="#e07b23"/>
<rect x="366.70" y="271.24" width="10.97" height="2.25" fill="#f7cf1e"/>
<rect x="377.67" y="271.24" width="10.97" height="2.25" fill="#f9de23"/>
<rect x="388.63" y="271.24" width="43.87" height="2.25" fill="#f7cf1e"/>
<rect x="432.50" y="271.24" width="10.97" height="2.25" fill="#f4c41d"/>
<rect x="443.47" y="271.24" width="21.93" height="2.25" fill="#f8d720"/>
<rect x="268.00" y="273.47" width="10.97" height="2.25" fill="#f7cf1e"/>
<rect x="278.97" y="273.47" width="10.97" height="2.25" fill="#ea9c1e"/>
<rect x="289.93" y="273.47" width="10.97" height="2.25" fill="#d66028"/>
<rect x="300.90" y="273.47" width="10.97" height="2.25" fill="#eeab1d"/>
<rect x="311.87" y="273.47" width="43.87" height="2.25" fill="#ea9c1e"/>
<rect x="355.73" y="273.47" width="10.97" height="2.25" fill="#e68c20"/>
<rect x="366.70" y="273.47" width="10.97" height="2.25" fill="#eeab1d"/>
<rect x="377.67" y="273.47" width="10.97" height="2.25" fill="#ea9c1e"/>
<rect x="388.63" y="273.47" width="10.97" height="2.25" fill="#eeab1d"/>
<rect x="399.60" y="273.47" width="10.97" height="2.25" fill="#e68c20"/>
<rect x="410.57" y="273.47" width="10.97" height="2.25" fill="#ea9c1e"/>
<rect x="421.53" y="273.47" width="10.97" height="2.25" fill="#eeab1d"/>
<rect x="432.50" y="273.47" width="10.97" height="2.25" fill="#e07b23"/>
<rect x="443.47" y="273.47" width="10.97" height="2.25" fill="#d66028"/>
<rect x="454.43" y="273.47" width="10.97" height="2.25" fill="#eeab1d"/>
</g>
<path d="M350.25,55.40L361.22,55.40M350.25,55.40L350.25,77.00M361.22,55.40L361.22,77.00M339.28,54.00L355.73,54.00M339.28,54.00L339.28,77.00M355.73,54.00L355.73,55.40M317.35,52.30L328.32,52.30M317.35,52.30L317.35,77.00M328.32,52.30L328.32,77.00M322.83,50.70L347.51,50.70M322.83,50.70L322.83,52.30M347.51,50.70L347.51,54.00M306.38,46.30L335.17,46.30M306.38,46.30L306.38,77.00M335.17,46.30L335.17,50.70M295.42,41.80L320.78,41.80M295.42,41.80L295.42,77.00M320.78,41.80L320.78,46.30M284.45,37.20L308.10,37.20M284.45,37.20L284.45,77.00M308.10,37.20L308.10,41.80M273.48,31.50L296.27,31.50M273.48,31.50L273.48,77.00M296.27,31.50L296.27,37.20M448.95,56.60L459.92,56.60M448.95,56.60L448.95,77.00M459.92,56.60L459.92,77.00M427.02,52.20L437.98,52.20M427.02,52.20L427.02,77.00M437.98,52.20L437.98,77.00M432.50,50.70L454.43,50.70M432.50,50.70L432.50,52.20M454.43,50.70L454.43,56.60M405.08,48.10L416.05,48.10M405.08,48.10L405.08,77.00M416.05,48.10L416.05,77.00M410.57,44.75L443.47,44.75M410.57,44.75L410.57,48.10M443.47,44.75L443.47,50.70M394.12,40.50L427.02,40.50M394.12,40.50L394.12,77.00M427.02,40.50L427.02,44.75M383.15,37.30L410.57,37.30M383.15,37.30L383.15,77.00M410.57,37.30L410.57,40.50M372.18,31.00L396.86,31.00M372.18,31.00L372.18,77.00M396.86,31.00L396.86,37.30M284.88,26.00L384.52,26.00M284.88,26.00L284.88,31.50M384.52,26.00L384.52,31.00" fill="none" stroke="#555" stroke-width="1.00"/>
<text x="0.00" y="0.00" font-size="8.00" text-anchor="end" font-weight="normal" fill="#1a1a1a" transform="translate(276.38 278.80) rotate(-90)" stroke="#1a1a1a" stroke-width="0.22">mob 1c</text>
<text x="0.00" y="0.00" font-size="8.00" text-anchor="end" font-weight="normal" fill="#1a1a1a" transform="translate(287.35 278.80) rotate(-90)" stroke="#1a1a1a" stroke-width="0.22">mob 1a</text>
<text x="0.00" y="0.00" font-size="8.00" text-anchor="end" font-weight="normal" fill="#1a1a1a" transform="translate(298.32 278.80) rotate(-90)" stroke="#1a1a1a" stroke-width="0.22">mob 1b</text>
<text x="0.00" y="0.00" font-size="8.00" text-anchor="end" font-weight="normal" fill="#1a1a1a" transform="translate(309.28 278.80) rotate(-90)" stroke="#1a1a1a" stroke-width="0.22">mob 2a</text>
<text x="0.00" y="0.00" font-size="8.00" text-anchor="end" font-weight="normal" fill="#1a1a1a" transform="translate(320.25 278.80) rotate(-90)" stroke="#1a1a1a" stroke-width="0.22">mob 3a</text>
<text x="0.00" y="0.00" font-size="8.00" text-anchor="end" font-weight="normal" fill="#1a1a1a" transform="translate(331.22 278.80) rotate(-90)" stroke="#1a1a1a" stroke-width="0.22">mob 2b</text>
<text x="0.00" y="0.00" font-size="8.00" text-anchor="end" font-weight="normal" fill="#1a1a1a" transform="translate(342.18 278.80) rotate(-90)" stroke="#1a1a1a" stroke-width="0.22">mob 3c</text>
<text x="0.00" y="0.00" font-size="8.00" text-anchor="end" font-weight="normal" fill="#1a1a1a" transform="translate(353.15 278.80) rotate(-90)" stroke="#1a1a1a" stroke-width="0.22">mob 2c</text>
<text x="0.00" y="0.00" font-size="8.00" text-anchor="end" font-weight="normal" fill="#1a1a1a" transform="translate(364.12 278.80) rotate(-90)" stroke="#1a1a1a" stroke-width="0.22">mob 3b</text>
<text x="0.00" y="0.00" font-size="8.00" text-anchor="end" font-weight="normal" fill="#1a1a1a" transform="translate(375.08 278.80) rotate(-90)" stroke="#1a1a1a" stroke-width="0.22">rest 1a</text>
<text x="0.00" y="0.00" font-size="8.00" text-anchor="end" font-weight="normal" fill="#1a1a1a" transform="translate(386.05 278.80) rotate(-90)" stroke="#1a1a1a" stroke-width="0.22">rest 1b</text>
<text x="0.00" y="0.00" font-size="8.00" text-anchor="end" font-weight="normal" fill="#1a1a1a" transform="translate(397.02 278.80) rotate(-90)" stroke="#1a1a1a" stroke-width="0.22">rest 1c</text>
<text x="0.00" y="0.00" font-size="8.00" text-anchor="end" font-weight="normal" fill="#1a1a1a" transform="translate(407.98 278.80) rotate(-90)" stroke="#1a1a1a" stroke-width="0.22">rest 3b</text>
<text x="0.00" y="0.00" font-size="8.00" text-anchor="end" font-weight="normal" fill="#1a1a1a" transform="translate(418.95 278.80) rotate(-90)" stroke="#1a1a1a" stroke-width="0.22">rest 2b</text>
<text x="0.00" y="0.00" font-size="8.00" text-anchor="end" font-weight="normal" fill="#1a1a1a" transform="translate(429.92 278.80) rotate(-90)" stroke="#1a1a1a" stroke-width="0.22">rest 3c</text>
<text x="0.00" y="0.00" font-size="8.00" text-anchor="end" font-weight="normal" fill="#1a1a1a" transform="translate(440.88 278.80) rotate(-90)" stroke="#1a1a1a" stroke-width="0.22">rest 2c</text>
<text x="0.00" y="0.00" font-size="8.00" text-anchor="end" font-weight="normal" fill="#1a1a1a" transform="translate(451.85 278.80) rotate(-90)" stroke="#1a1a1a" stroke-width="0.22">rest 2a</text>
<text x="0.00" y="0.00" font-size="8.00" text-anchor="end" font-weight="normal" fill="#1a1a1a" transform="translate(462.82 278.80) rotate(-90)" stroke="#1a1a1a" stroke-width="0.22">rest 3a</text>
<line x1="366.50" y1="275.70" x2="366.50" y2="314.00" stroke="#111" stroke-width="1.00"/>
<text x="313.70" y="318.80" font-size="11.30" text-anchor="middle" font-weight="normal" fill="#111" stroke="#111" stroke-width="0.22">mobilized</text>
<text x="421.00" y="318.60" font-size="11.20" text-anchor="middle" font-weight="normal" fill="#111" stroke="#111" stroke-width="0.22">resting</text>
<path d="M266.30,79.5 L265.46,79.50 L264.49,81.24 L265.26,83.17 L264.67,85.99 L262.96,89.33 L263.15,91.87 L263.27,94.63 L262.91,96.57 L262.81,99.84 L263.98,102.20 L262.69,105.59 L263.50,108.32 L263.17,111.72 L263.05,114.00 L263.60,117.42 L262.39,120.65 L262.36,123.39 L263.49,126.37 L263.65,128.01 L263.63,130.29 L262.62,133.25 L263.64,134.90 L262.21,137.51 L262.68,140.31 L261.77,143.57 L261.82,145.97 L262.93,147.98 L263.42,150.87 L261.87,154.35 L262.79,157.57 L263.35,159.72 L262.07,161.99 L263.34,163.71 L263.06,165.91 L261.94,168.66 L263.60,170.30 L262.34,173.37 L263.22,175.49 L262.74,177.08 L263.67,180.26 L263.60,182.26 L263.66,184.93 L263.21,187.02 L261.74,190.38 L262.61,192.60 L262.99,194.45 L262.98,197.42 L262.34,199.25 L261.80,202.50 L262.13,204.33 L263.73,207.70 L261.85,210.49 L261.92,213.52 L261.84,215.50 L263.78,217.53 L262.97,219.23 L263.18,221.46 L262.73,223.91 L262.58,225.63 L262.91,228.11 L261.77,230.58 L262.86,233.90 L263.38,235.52 L262.82,237.56 L263.06,239.53 L262.68,241.15 L263.33,243.62 L261.60,246.34 L262.97,249.70 L262.85,251.32 L262.53,252.93 L262.65,255.45 L262.08,257.15 L260.73,259.59 L262.12,262.66 L260.62,265.77 L261.17,267.47 L261.23,270.55 L259.96,273.45 L259.62,275.47 L260.80,275.70 L266.30,275.7 Z" fill="#0a0a0a"/>
<path d="M265.86,80.16L265.86,81.48M265.86,80.16L266.30,80.16M265.86,81.48L266.30,81.48M265.56,80.82L265.56,82.80M265.56,80.82L265.86,80.82M265.56,82.80L266.30,82.80M266.25,84.12L266.25,85.45M266.25,84.12L266.30,84.12M266.25,85.45L266.30,85.45M266.26,86.77L266.26,88.09M266.26,86.77L266.30,86.77M266.26,88.09L266.30,88.09M266.27,89.41L266.27,90.73M266.27,89.41L266.30,89.41M266.27,90.73L266.30,90.73M266.19,87.43L266.19,90.07M266.19,87.43L266.26,87.43M266.19,90.07L266.27,90.07M266.07,84.79L266.07,88.75M266.07,84.79L266.25,84.79M266.07,88.75L266.19,88.75M266.23,92.05L266.23,93.38M266.23,92.05L266.30,92.05M266.23,93.38L266.30,93.38M266.26,96.02L266.26,97.34M266.26,96.02L266.30,96.02M266.26,97.34L266.30,97.34M266.21,94.70L266.21,96.68M266.21,94.70L266.30,94.70M266.21,96.68L266.26,96.68M266.09,92.71L266.09,95.69M266.09,92.71L266.23,92.71M266.09,95.69L266.21,95.69M265.86,86.77L265.86,94.20M265.86,86.77L266.07,86.77M265.86,94.20L266.09,94.20M266.29,101.30L266.29,102.62M266.29,101.30L266.30,101.30M266.29,102.62L266.30,102.62M266.28,99.98L266.28,101.96M266.28,99.98L266.30,99.98M266.28,101.96L266.29,101.96M266.26,100.97L266.26,103.95M266.26,100.97L266.28,100.97M266.26,103.95L266.30,103.95M266.28,107.91L266.28,109.23M266.28,107.91L266.30,107.91M266.28,109.23L266.30,109.23M266.26,106.59L266.26,108.57M266.26,106.59L266.30,106.59M266.26,108.57L266.28,108.57M266.24,105.27L266.24,107.58M266.24,105.27L266.30,105.27M266.24,107.58L266.26,107.58M266.19,102.46L266.19,106.42M266.19,102.46L266.26,102.46M266.19,106.42L266.24,106.42M266.06,104.44L266.06,110.55M266.06,104.44L266.19,104.44M266.06,110.55L266.30,110.55M265.84,98.66L265.84,107.50M265.84,98.66L266.30,98.66M265.84,107.50L266.06,107.50M265.50,90.48L265.50,103.08M265.50,90.48L265.86,90.48M265.50,103.08L265.84,103.08M266.27,111.88L266.27,113.20M266.27,111.88L266.30,111.88M266.27,113.20L266.30,113.20M266.25,112.54L266.25,114.52M266.25,112.54L266.27,112.54M266.25,114.52L266.30,114.52M266.25,115.84L266.25,117.16M266.25,115.84L266.30,115.84M266.25,117.16L266.30,117.16M266.11,113.53L266.11,116.50M266.11,113.53L266.25,113.53M266.11,116.50L266.25,116.50M266.25,121.12L266.25,122.45M266.25,121.12L266.30,121.12M266.25,122.45L266.30,122.45M266.17,119.80L266.17,121.79M266.17,119.80L266.30,119.80M266.17,121.79L266.25,121.79M265.98,118.48L265.98,120.79M265.98,118.48L266.30,118.48M265.98,120.79L266.17,120.79M265.76,115.01L265.76,119.64M265.76,115.01L266.11,115.01M265.76,119.64L265.98,119.64M264.55,96.78L264.55,117.33M264.55,96.78L265.50,96.78M264.55,117.33L265.76,117.33M262.47,81.81L262.47,107.05M262.47,81.81L265.56,81.81M262.47,107.05L264.55,107.05M266.07,123.77L266.07,125.09M266.07,123.77L266.30,123.77M266.07,125.09L266.30,125.09M266.15,127.73L266.15,129.05M266.15,127.73L266.30,127.73M266.15,129.05L266.30,129.05M266.08,126.41L266.08,128.39M266.08,126.41L266.30,126.41M266.08,128.39L266.15,128.39M265.74,124.43L265.74,127.40M265.74,124.43L266.07,124.43M265.74,127.40L266.08,127.40M266.13,130.38L266.13,131.70M266.13,130.38L266.30,130.38M266.13,131.70L266.30,131.70M266.05,131.04L266.05,133.02M266.05,131.04L266.13,131.04M266.05,133.02L266.30,133.02M265.34,125.92L265.34,132.03M265.34,125.92L265.74,125.92M265.34,132.03L266.05,132.03M264.64,128.97L264.64,134.34M264.64,128.97L265.34,128.97M264.64,134.34L266.30,134.34M261.20,94.43L261.20,131.66M261.20,94.43L262.47,94.43M261.20,131.66L264.64,131.66M261.20,113.04L261.20,113.20M266.14,136.96L266.14,138.26M266.14,136.96L266.30,136.96M266.14,138.26L266.30,138.26M266.07,135.65L266.07,137.61M266.07,135.65L266.30,135.65M266.07,137.61L266.14,137.61M265.93,136.63L265.93,139.57M265.93,136.63L266.07,136.63M265.93,139.57L266.30,139.57M265.46,138.10L265.46,140.87M265.46,138.10L265.93,138.10M265.46,140.87L266.30,140.87M265.15,139.48L265.15,142.17M265.15,139.48L265.46,139.48M265.15,142.17L266.30,142.17M266.08,143.48L266.08,144.78M266.08,143.48L266.30,143.48M266.08,144.78L266.30,144.78M266.21,146.09L266.21,147.39M266.21,146.09L266.30,146.09M266.21,147.39L266.30,147.39M266.24,150.00L266.24,151.30M266.24,150.00L266.30,150.00M266.24,151.30L266.30,151.30M266.17,148.70L266.17,150.65M266.17,148.70L266.30,148.70M266.17,150.65L266.24,150.65M266.05,146.74L266.05,149.67M266.05,146.74L266.21,146.74M266.05,149.67L266.17,149.67M266.27,153.91L266.27,155.22M266.27,153.91L266.30,153.91M266.27,155.22L266.30,155.22M266.24,152.61L266.24,154.57M266.24,152.61L266.30,152.61M266.24,154.57L266.27,154.57M266.28,156.52L266.28,157.83M266.28,156.52L266.30,156.52M266.28,157.83L266.30,157.83M266.24,157.17L266.24,159.13M266.24,157.17L266.28,157.17M266.24,159.13L266.30,159.13M266.20,153.59L266.20,158.15M266.20,153.59L266.24,153.59M266.20,158.15L266.24,158.15M266.13,155.87L266.13,160.43M266.13,155.87L266.20,155.87M266.13,160.43L266.30,160.43M265.79,148.21L265.79,158.15M265.79,148.21L266.05,148.21M265.79,158.15L266.13,158.15M265.65,144.13L265.65,153.18M265.65,144.13L266.08,144.13M265.65,153.18L265.79,153.18M266.09,163.04L266.09,164.35M266.09,163.04L266.30,163.04M266.09,164.35L266.30,164.35M265.86,161.74L265.86,163.70M265.86,161.74L266.30,161.74M265.86,163.70L266.09,163.70M264.51,148.65L264.51,162.72M264.51,148.65L265.65,148.65M264.51,162.72L265.86,162.72M261.60,140.83L261.60,155.69M261.60,140.83L265.15,140.83M261.60,155.69L264.51,155.69M261.60,148.26L261.60,150.40M264.81,167.25L264.81,168.75M264.81,167.25L266.30,167.25M264.81,168.75L266.30,168.75M263.66,165.75L263.66,168.00M263.66,165.75L266.30,165.75M263.66,168.00L264.81,168.00M262.50,166.88L262.50,170.25M262.50,166.88L263.66,166.88M262.50,170.25L266.30,170.25M262.50,168.56L262.50,170.50M264.57,171.70L264.57,173.10M264.57,171.70L266.30,171.70M264.57,173.10L266.30,173.10M265.14,174.50L265.14,175.90M265.14,174.50L266.30,174.50M265.14,175.90L266.30,175.90M263.98,175.20L263.98,177.30M263.98,175.20L265.14,175.20M263.98,177.30L266.30,177.30M262.50,172.40L262.50,176.25M262.50,172.40L264.57,172.40M262.50,176.25L263.98,176.25M262.50,174.32L262.50,174.60M265.65,179.96L265.65,181.27M265.65,179.96L266.30,179.96M265.65,181.27L266.30,181.27M265.39,180.62L265.39,182.58M265.39,180.62L265.65,180.62M265.39,182.58L266.30,182.58M264.68,178.65L264.68,181.60M264.68,178.65L266.30,178.65M264.68,181.60L265.39,181.60M266.21,185.19L266.21,186.50M266.21,185.19L266.30,185.19M266.21,186.50L266.30,186.50M266.04,185.85L266.04,187.81M266.04,185.85L266.21,185.85M266.04,187.81L266.30,187.81M265.88,183.88L265.88,186.83M265.88,183.88L266.30,183.88M265.88,186.83L266.04,186.83M266.14,189.12L266.14,190.42M266.14,189.12L266.30,189.12M266.14,190.42L266.30,190.42M265.63,185.36L265.63,189.77M265.63,185.36L265.88,185.36M265.63,189.77L266.14,189.77M266.17,191.73L266.17,193.04M266.17,191.73L266.30,191.73M266.17,193.04L266.30,193.04M266.13,194.35L266.13,195.65M266.13,194.35L266.30,194.35M266.13,195.65L266.30,195.65M266.02,192.38L266.02,195.00M266.02,192.38L266.17,192.38M266.02,195.00L266.13,195.00M265.85,193.69L265.85,196.96M265.85,193.69L266.02,193.69M265.85,196.96L266.30,196.96M265.09,187.56L265.09,195.33M265.09,187.56L265.63,187.56M265.09,195.33L265.85,195.33M262.77,180.12L262.77,191.44M262.77,180.12L264.68,180.12M262.77,191.44L265.09,191.44M266.18,198.27L266.18,199.58M266.18,198.27L266.30,198.27M266.18,199.58L266.30,199.58M266.25,202.19L266.25,203.50M266.25,202.19L266.30,202.19M266.25,203.50L266.30,203.50M266.22,200.88L266.22,202.85M266.22,200.88L266.30,200.88M266.22,202.85L266.25,202.85M266.17,201.87L266.17,204.81M266.17,201.87L266.22,201.87M266.17,204.81L266.30,204.81M265.93,198.92L265.93,203.34M265.93,198.92L266.18,198.92M265.93,203.34L266.17,203.34M265.18,201.13L265.18,206.12M265.18,201.13L265.93,201.13M265.18,206.12L266.30,206.12M265.59,207.42L265.59,208.73M265.59,207.42L266.30,207.42M265.59,208.73L266.30,208.73M265.83,210.04L265.83,211.35M265.83,210.04L266.30,210.04M265.83,211.35L266.30,211.35M265.01,208.08L265.01,210.69M265.01,208.08L265.59,208.08M265.01,210.69L265.83,210.69M263.60,203.62L263.60,209.38M263.60,203.62L265.18,203.62M263.60,209.38L265.01,209.38M261.00,185.78L261.00,206.50M261.00,185.78L262.77,185.78M261.00,206.50L263.60,206.50M261.00,196.14L261.00,199.70M265.73,213.95L265.73,215.25M265.73,213.95L266.30,213.95M265.73,215.25L266.30,215.25M264.77,212.65L264.77,214.60M264.77,212.65L266.30,212.65M264.77,214.60L265.73,214.60M265.41,216.55L265.41,217.85M265.41,216.55L266.30,216.55M265.41,217.85L266.30,217.85M266.03,219.15L266.03,220.45M266.03,219.15L266.30,219.15M266.03,220.45L266.30,220.45M266.05,221.75L266.05,223.05M266.05,221.75L266.30,221.75M266.05,223.05L266.30,223.05M265.85,219.80L265.85,222.40M265.85,219.80L266.03,219.80M265.85,222.40L266.05,222.40M266.20,226.95L266.20,228.25M266.20,226.95L266.30,226.95M266.20,228.25L266.30,228.25M266.27,229.55L266.27,230.85M266.27,229.55L266.30,229.55M266.27,230.85L266.30,230.85M266.25,232.15L266.25,233.45M266.25,232.15L266.30,232.15M266.25,233.45L266.30,233.45M266.21,230.20L266.21,232.80M266.21,230.20L266.27,230.20M266.21,232.80L266.25,232.80M266.03,227.60L266.03,231.50M266.03,227.60L266.20,227.60M266.03,231.50L266.21,231.50M265.97,225.65L265.97,229.55M265.97,225.65L266.30,225.65M265.97,229.55L266.03,229.55M265.43,224.35L265.43,227.60M265.43,224.35L266.30,224.35M265.43,227.60L265.97,227.60M264.07,221.10L264.07,225.98M264.07,221.10L265.85,221.10M264.07,225.98L265.43,225.98M263.33,217.20L263.33,223.54M263.33,217.20L265.41,217.20M263.33,223.54L264.07,223.54M265.66,236.05L265.66,237.35M265.66,236.05L266.30,236.05M265.66,237.35L266.30,237.35M265.38,234.75L265.38,236.70M265.38,234.75L266.30,234.75M265.38,236.70L265.66,236.70M261.93,220.37L261.93,235.72M261.93,220.37L263.33,220.37M261.93,235.72L265.38,235.72M260.50,213.62L260.50,228.05M260.50,213.62L264.77,213.62M260.50,228.05L261.93,228.05M260.50,220.84L260.50,229.30M264.93,238.67L264.93,240.00M264.93,238.67L266.30,238.67M264.93,240.00L266.30,240.00M265.56,242.67L265.56,244.00M265.56,242.67L266.30,242.67M265.56,244.00L266.30,244.00M265.14,241.33L265.14,243.33M265.14,241.33L266.30,241.33M265.14,243.33L265.56,243.33M264.79,242.33L264.79,245.33M264.79,242.33L265.14,242.33M264.79,245.33L266.30,245.33M261.50,239.33L261.50,243.83M261.50,239.33L264.93,239.33M261.50,243.83L264.79,243.83M261.50,241.58L261.50,242.00M265.20,248.14L265.20,249.57M265.20,248.14L266.30,248.14M265.20,249.57L266.30,249.57M264.54,246.71L264.54,248.86M264.54,246.71L266.30,246.71M264.54,248.86L265.20,248.86M265.80,251.00L265.80,252.43M265.80,251.00L266.30,251.00M265.80,252.43L266.30,252.43M265.95,253.86L265.95,255.29M265.95,253.86L266.30,253.86M265.95,255.29L266.30,255.29M264.91,251.71L264.91,254.57M264.91,251.71L265.80,251.71M264.91,254.57L265.95,254.57M262.00,247.79L262.00,253.14M262.00,247.79L264.54,247.79M262.00,253.14L264.91,253.14M262.00,250.46L262.00,251.50M264.37,256.75L264.37,258.25M264.37,256.75L266.30,256.75M264.37,258.25L266.30,258.25M263.07,259.75L263.07,261.25M263.07,259.75L266.30,259.75M263.07,261.25L266.30,261.25M259.50,257.50L259.50,260.50M259.50,257.50L264.37,257.50M259.50,260.50L263.07,260.50M259.50,259.00L259.50,260.50M261.94,262.83L261.94,264.50M261.94,262.83L266.30,262.83M261.94,264.50L266.30,264.50M259.50,263.67L259.50,266.17M259.50,263.67L261.94,263.67M259.50,266.17L266.30,266.17M259.50,264.92L259.50,265.00M261.18,269.50L261.18,271.17M261.18,269.50L266.30,269.50M261.18,271.17L266.30,271.17M258.50,267.83L258.50,270.33M258.50,267.83L266.30,267.83M258.50,270.33L261.18,270.33M258.50,269.08L258.50,271.60M259.00,272.93L259.00,274.77M259.00,272.93L266.30,272.93M259.00,274.77L266.30,274.77M259.00,273.85L259.00,275.50" fill="none" stroke="#111" stroke-width="0.60"/>
<path d="M257.50,113.20L257.50,150.40M257.50,113.20L261.20,113.20M257.50,150.40L261.60,150.40M258.50,170.50L258.50,174.60M258.50,170.50L262.50,170.50M258.50,174.60L262.50,174.60M249.70,132.00L249.70,172.50M249.70,132.00L257.50,132.00M249.70,172.50L258.50,172.50M257.50,132.00L257.50,150.40M258.50,172.50L258.50,174.60M256.70,199.70L256.70,229.30M256.70,199.70L261.00,199.70M256.70,229.30L260.50,229.30M258.30,242.00L258.30,251.50M258.30,242.00L261.50,242.00M258.30,251.50L262.00,251.50M251.60,215.80L251.60,246.70M251.60,215.80L256.70,215.80M251.60,246.70L258.30,246.70M238.10,152.50L238.10,231.30M238.10,152.50L249.70,152.50M238.10,231.30L251.60,231.30M238.10,191.50L238.10,191.50M255.40,260.50L255.40,265.00M255.40,260.50L259.50,260.50M255.40,265.00L259.50,265.00M252.50,263.20L252.50,271.60M252.50,263.20L255.40,263.20M252.50,271.60L258.50,271.60M247.90,267.20L247.90,275.50M247.90,267.20L252.50,267.20M247.90,275.50L259.00,275.50M229.40,191.50L229.40,273.20M229.40,191.50L238.10,191.50M229.40,273.20L234.80,273.20M234.80,271.20L234.80,275.60M234.80,271.20L247.90,271.20M234.80,275.60L259.00,275.60" fill="none" stroke="#444" stroke-width="0.95"/>
<g shape-rendering="crispEdges">
<rect x="36.60" y="412.80" width="106.20" height="91.85" fill="#9a1c20"/>
<rect x="142.80" y="412.80" width="106.20" height="91.85" fill="#2e2f86"/>
<rect x="36.60" y="504.65" width="106.20" height="91.85" fill="#2e2f86"/>
<rect x="142.80" y="504.65" width="106.20" height="91.85" fill="#9a1c20"/>
<rect x="131.00" y="412.80" width="11.80" height="91.85" fill="#9f1c1f"/>
<rect x="36.60" y="498.53" width="106.20" height="6.12" fill="#a81e1f"/>
<rect x="107.40" y="412.80" width="23.60" height="10.21" fill="#c0281f"/>
<rect x="36.60" y="474.03" width="11.80" height="20.41" fill="#c2291f"/>
</g>
<rect x="36.60" y="404.20" width="106.20" height="6.60" fill="#a5a5a5"/>
<rect x="142.80" y="404.20" width="106.20" height="6.60" fill="#e2a42a"/>
<text x="88.00" y="410.20" font-size="7.90" text-anchor="middle" font-weight="normal" fill="#1a1a1a" stroke="#1a1a1a" stroke-width="0.10">resting</text>
<text x="197.40" y="410.20" font-size="8.00" text-anchor="middle" font-weight="normal" fill="#1a1a1a" stroke="#1a1a1a" stroke-width="0.10">mobilized</text>
<path d="M61.50,388.20L171.50,388.20M61.50,388.20L61.50,393.80M171.50,388.20L171.50,395.00M42.50,393.60L54.30,393.60M54.30,393.60L54.30,394.20M54.30,394.20L66.10,394.20M66.10,394.20L66.10,393.90M66.10,393.90L77.90,393.90M77.90,393.90L77.90,394.40M77.90,394.40L89.70,394.40M89.70,394.40L89.70,394.00M89.70,394.00L101.50,394.00M101.50,394.00L101.50,394.60M101.50,394.60L113.30,394.60M113.30,394.60L113.30,394.30M113.30,394.30L125.10,394.30M125.10,394.30L125.10,394.80M125.10,394.80L136.90,394.80M136.90,394.80L136.90,394.50M42.50,393.60L42.50,396.60M54.30,394.20L54.30,396.60M66.10,393.90L66.10,396.60M77.90,394.40L77.90,396.60M89.70,394.00L89.70,396.60M101.50,394.60L101.50,396.60M113.30,394.30L113.30,396.60M125.10,394.80L125.10,396.60M136.90,394.50L136.90,396.60M148.70,394.80L160.50,394.80M160.50,394.80L160.50,395.30M160.50,395.30L172.30,395.30M172.30,395.30L172.30,395.00M172.30,395.00L184.10,395.00M184.10,395.00L184.10,395.50M184.10,395.50L195.90,395.50M195.90,395.50L195.90,395.20M195.90,395.20L207.70,395.20M207.70,395.20L207.70,395.60M207.70,395.60L219.50,395.60M219.50,395.60L219.50,395.30M219.50,395.30L231.30,395.30M231.30,395.30L231.30,395.70M231.30,395.70L243.10,395.70M243.10,395.70L243.10,395.40M148.70,394.80L148.70,396.80M160.50,395.30L160.50,396.80M172.30,395.00L172.30,396.80M184.10,395.50L184.10,396.80M195.90,395.20L195.90,396.80M207.70,395.60L207.70,396.80M219.50,395.30L219.50,396.80M231.30,395.70L231.30,396.80M243.10,395.40L243.10,396.80" fill="none" stroke="#333" stroke-width="0.80"/>
<path d="M28.30,433.20L28.30,529.70M28.30,433.20L30.80,433.20M28.30,529.70L31.00,529.70M30.80,417.90L30.80,499.55M30.80,417.90L32.60,417.90M30.80,428.11L32.60,428.11M30.80,438.31L32.60,438.31M30.80,448.52L32.60,448.52M30.80,458.73L32.60,458.73M30.80,468.93L32.60,468.93M30.80,479.14L32.60,479.14M30.80,489.34L32.60,489.34M30.80,499.55L32.60,499.55M31.00,509.75L31.00,591.40M31.00,509.75L32.60,509.75M31.00,519.96L32.60,519.96M31.00,530.16L32.60,530.16M31.00,540.37L32.60,540.37M31.00,550.58L32.60,550.58M31.00,560.78L32.60,560.78M31.00,570.99L32.60,570.99M31.00,581.19L32.60,581.19M31.00,591.40L32.60,591.40" fill="none" stroke="#333" stroke-width="0.80"/>
<text x="0.00" y="0.00" font-size="7.80" text-anchor="middle" font-weight="normal" fill="#1a1a1a" transform="translate(23.20 458.73) rotate(-90)" stroke="#1a1a1a" stroke-width="0.22">resting</text>
<text x="0.00" y="0.00" font-size="7.80" text-anchor="middle" font-weight="normal" fill="#1a1a1a" transform="translate(23.20 550.58) rotate(-90)" stroke="#1a1a1a" stroke-width="0.22">mobilized</text>
<rect x="252.10" y="412.40" width="7.00" height="11.13" fill="#9b1b1f"/>
<rect x="252.10" y="423.32" width="7.00" height="11.13" fill="#c3262b"/>
<rect x="252.10" y="434.25" width="7.00" height="11.13" fill="#d8502e"/>
<rect x="252.10" y="445.17" width="7.00" height="11.13" fill="#e88a47"/>
<rect x="252.10" y="456.10" width="7.00" height="11.13" fill="#f3c36c"/>
<rect x="252.10" y="467.02" width="7.00" height="11.13" fill="#fbe7a3"/>
<rect x="252.10" y="477.95" width="7.00" height="11.13" fill="#f8f6df"/>
<rect x="252.10" y="488.88" width="7.00" height="11.13" fill="#dfeaf3"/>
<rect x="252.10" y="499.80" width="7.00" height="11.13" fill="#b5cee5"/>
<rect x="252.10" y="510.73" width="7.00" height="11.13" fill="#84a4d0"/>
<rect x="252.10" y="521.65" width="7.00" height="11.13" fill="#4d6bb2"/>
<rect x="252.10" y="532.58" width="7.00" height="11.13" fill="#2c3086"/>
<text x="261.80" y="415.20" font-size="8.20" text-anchor="start" font-weight="normal" fill="#1a1a1a" stroke="#1a1a1a" stroke-width="0.22">1</text>
<text x="261.80" y="437.90" font-size="8.20" text-anchor="start" font-weight="normal" fill="#1a1a1a" stroke="#1a1a1a" stroke-width="0.22">0.9</text>
<text x="261.80" y="460.20" font-size="8.20" text-anchor="start" font-weight="normal" fill="#1a1a1a" stroke="#1a1a1a" stroke-width="0.22">0.8</text>
<text x="261.80" y="483.00" font-size="8.20" text-anchor="start" font-weight="normal" fill="#1a1a1a" stroke="#1a1a1a" stroke-width="0.22">0.7</text>
<text x="261.80" y="505.40" font-size="8.20" text-anchor="start" font-weight="normal" fill="#1a1a1a" stroke="#1a1a1a" stroke-width="0.22">0.6</text>
<text x="261.80" y="527.70" font-size="8.20" text-anchor="start" font-weight="normal" fill="#1a1a1a" stroke="#1a1a1a" stroke-width="0.22">0.5</text>
<g shape-rendering="crispEdges">
<rect x="320.00" y="365.00" width="82.00" height="1.00" fill="#d9893c"/>
<rect x="402.00" y="365.00" width="83.00" height="1.00" fill="#da8a3c"/>
<rect x="320.00" y="366.00" width="82.00" height="1.00" fill="#d58538"/>
<rect x="402.00" y="366.00" width="83.00" height="1.00" fill="#db8b3d"/>
<rect x="320.00" y="367.00" width="82.00" height="1.00" fill="#d58538"/>
<rect x="402.00" y="367.00" width="83.00" height="1.00" fill="#db8b3d"/>
<rect x="320.00" y="368.00" width="82.00" height="1.00" fill="#d58538"/>
<rect x="402.00" y="368.00" width="83.00" height="1.00" fill="#db8b3d"/>
<rect x="320.00" y="369.00" width="82.00" height="1.00" fill="#dc8c3f"/>
<rect x="402.00" y="369.00" width="83.00" height="1.00" fill="#d8883a"/>
<rect x="320.00" y="370.00" width="82.00" height="1.00" fill="#dc8c3f"/>
<rect x="402.00" y="370.00" width="83.00" height="1.00" fill="#d8883a"/>
<rect x="320.00" y="371.00" width="82.00" height="1.00" fill="#dc8c3f"/>
<rect x="402.00" y="371.00" width="83.00" height="1.00" fill="#d8883a"/>
<rect x="320.00" y="372.00" width="82.00" height="1.00" fill="#d48437"/>
<rect x="402.00" y="372.00" width="83.00" height="1.00" fill="#da8a3c"/>
<rect x="320.00" y="373.00" width="82.00" height="1.00" fill="#d48437"/>
<rect x="402.00" y="373.00" width="83.00" height="1.00" fill="#da8a3c"/>
<rect x="320.00" y="374.00" width="82.00" height="1.00" fill="#d48437"/>
<rect x="402.00" y="374.00" width="83.00" height="1.00" fill="#da8a3c"/>
<rect x="320.00" y="375.00" width="82.00" height="1.00" fill="#db8b3e"/>
<rect x="402.00" y="375.00" width="83.00" height="1.00" fill="#de8e40"/>
<rect x="320.00" y="376.00" width="82.00" height="1.00" fill="#db8b3e"/>
<rect x="402.00" y="376.00" width="83.00" height="1.00" fill="#de8e40"/>
<rect x="320.00" y="377.00" width="82.00" height="1.00" fill="#d67836"/>
<rect x="402.00" y="377.00" width="83.00" height="1.00" fill="#de8e40"/>
<rect x="320.00" y="378.00" width="82.00" height="1.00" fill="#d07230"/>
<rect x="402.00" y="378.00" width="83.00" height="1.00" fill="#d58537"/>
<rect x="320.00" y="379.00" width="82.00" height="1.00" fill="#d07230"/>
<rect x="402.00" y="379.00" width="83.00" height="1.00" fill="#d58537"/>
<rect x="320.00" y="380.00" width="82.00" height="1.00" fill="#d07230"/>
<rect x="402.00" y="380.00" width="83.00" height="1.00" fill="#d58537"/>
<rect x="320.00" y="381.00" width="82.00" height="1.00" fill="#d67836"/>
<rect x="402.00" y="381.00" width="83.00" height="1.00" fill="#dc8c3e"/>
<rect x="320.00" y="382.00" width="82.00" height="1.00" fill="#d67836"/>
<rect x="402.00" y="382.00" width="83.00" height="1.00" fill="#dc8c3e"/>
<rect x="320.00" y="383.00" width="82.00" height="1.00" fill="#d67836"/>
<rect x="402.00" y="383.00" width="83.00" height="1.00" fill="#dc8c3e"/>
<rect x="320.00" y="384.00" width="82.00" height="1.00" fill="#d97b39"/>
<rect x="402.00" y="384.00" width="83.00" height="1.00" fill="#dd8d3f"/>
<rect x="320.00" y="385.00" width="82.00" height="1.00" fill="#d97b39"/>
<rect x="402.00" y="385.00" width="83.00" height="1.00" fill="#dd8d3f"/>
<rect x="320.00" y="386.00" width="82.00" height="1.00" fill="#d97b39"/>
<rect x="402.00" y="386.00" width="83.00" height="1.00" fill="#dd8d3f"/>
<rect x="320.00" y="387.00" width="82.00" height="1.00" fill="#d47634"/>
<rect x="402.00" y="387.00" width="83.00" height="1.00" fill="#d9893b"/>
<rect x="320.00" y="388.00" width="82.00" height="1.00" fill="#d47634"/>
<rect x="402.00" y="388.00" width="83.00" height="1.00" fill="#d9893b"/>
<rect x="320.00" y="389.00" width="82.00" height="1.00" fill="#d47634"/>
<rect x="402.00" y="389.00" width="83.00" height="1.00" fill="#d9893b"/>
<rect x="320.00" y="390.00" width="82.00" height="1.00" fill="#dd7f3d"/>
<rect x="402.00" y="390.00" width="83.00" height="1.00" fill="#d9893b"/>
<rect x="320.00" y="391.00" width="82.00" height="1.00" fill="#dd7f3d"/>
<rect x="402.00" y="391.00" width="83.00" height="1.00" fill="#d9893b"/>
<rect x="320.00" y="392.00" width="82.00" height="1.00" fill="#dd7f3d"/>
<rect x="402.00" y="392.00" width="83.00" height="1.00" fill="#d9893b"/>
<rect x="320.00" y="393.00" width="82.00" height="1.00" fill="#d77d36"/>
<rect x="402.00" y="393.00" width="83.00" height="1.00" fill="#d68638"/>
<rect x="320.00" y="394.00" width="82.00" height="1.00" fill="#d77d36"/>
<rect x="402.00" y="394.00" width="83.00" height="1.00" fill="#d68638"/>
<rect x="320.00" y="395.00" width="82.00" height="1.00" fill="#d77d36"/>
<rect x="402.00" y="395.00" width="83.00" height="1.00" fill="#d68638"/>
<rect x="320.00" y="396.00" width="82.00" height="1.00" fill="#da8039"/>
<rect x="402.00" y="396.00" width="83.00" height="1.00" fill="#db8b3d"/>
<rect x="320.00" y="397.00" width="82.00" height="1.00" fill="#da8039"/>
<rect x="402.00" y="397.00" width="83.00" height="1.00" fill="#db8b3d"/>
<rect x="320.00" y="398.00" width="82.00" height="1.00" fill="#da8039"/>
<rect x="402.00" y="398.00" width="83.00" height="1.00" fill="#db8b3d"/>
<rect x="320.00" y="399.00" width="82.00" height="1.00" fill="#d97f38"/>
<rect x="402.00" y="399.00" width="83.00" height="1.00" fill="#da8a3c"/>
<rect x="320.00" y="400.00" width="82.00" height="1.00" fill="#d97f38"/>
<rect x="402.00" y="400.00" width="83.00" height="1.00" fill="#da8a3c"/>
<rect x="320.00" y="401.00" width="82.00" height="1.00" fill="#d26f31"/>
<rect x="402.00" y="401.00" width="83.00" height="1.00" fill="#da8a3c"/>
<rect x="320.00" y="402.00" width="82.00" height="1.00" fill="#d47133"/>
<rect x="402.00" y="402.00" width="83.00" height="1.00" fill="#dc8c3e"/>
<rect x="320.00" y="403.00" width="82.00" height="1.00" fill="#d47133"/>
<rect x="402.00" y="403.00" width="83.00" height="1.00" fill="#dc8c3e"/>
<rect x="320.00" y="404.00" width="82.00" height="1.00" fill="#d47133"/>
<rect x="402.00" y="404.00" width="83.00" height="1.00" fill="#dc8c3e"/>
<rect x="320.00" y="405.00" width="82.00" height="1.00" fill="#d77436"/>
<rect x="402.00" y="405.00" width="83.00" height="1.00" fill="#db8b3d"/>
<rect x="320.00" y="406.00" width="82.00" height="1.00" fill="#d77436"/>
<rect x="402.00" y="406.00" width="83.00" height="1.00" fill="#db8b3d"/>
<rect x="320.00" y="407.00" width="82.00" height="1.00" fill="#d77436"/>
<rect x="402.00" y="407.00" width="83.00" height="1.00" fill="#db8b3d"/>
<rect x="320.00" y="408.00" width="82.00" height="1.00" fill="#cd6a2c"/>
<rect x="402.00" y="408.00" width="83.00" height="1.00" fill="#dc8c3e"/>
<rect x="320.00" y="409.00" width="82.00" height="1.00" fill="#cd6a2c"/>
<rect x="402.00" y="409.00" width="83.00" height="1.00" fill="#dc8c3e"/>
<rect x="320.00" y="410.00" width="82.00" height="1.00" fill="#c85626"/>
<rect x="402.00" y="410.00" width="83.00" height="1.00" fill="#dc8c3e"/>
<rect x="320.00" y="411.00" width="82.00" height="1.00" fill="#c95727"/>
<rect x="402.00" y="411.00" width="83.00" height="1.00" fill="#d9893b"/>
<rect x="320.00" y="412.00" width="82.00" height="1.00" fill="#c95727"/>
<rect x="402.00" y="412.00" width="83.00" height="1.00" fill="#e19f47"/>
<rect x="320.00" y="413.00" width="82.00" height="1.00" fill="#c95727"/>
<rect x="402.00" y="413.00" width="83.00" height="1.00" fill="#e19f47"/>
<rect x="320.00" y="414.00" width="82.00" height="1.00" fill="#c95727"/>
<rect x="402.00" y="414.00" width="83.00" height="1.00" fill="#e2a048"/>
<rect x="320.00" y="415.00" width="82.00" height="1.00" fill="#c95727"/>
<rect x="402.00" y="415.00" width="83.00" height="1.00" fill="#e2a048"/>
<rect x="320.00" y="416.00" width="82.00" height="1.00" fill="#c95727"/>
<rect x="402.00" y="416.00" width="83.00" height="1.00" fill="#e2a048"/>
<rect x="320.00" y="417.00" width="82.00" height="1.00" fill="#cb5929"/>
<rect x="402.00" y="417.00" width="83.00" height="1.00" fill="#e3a149"/>
<rect x="320.00" y="418.00" width="82.00" height="1.00" fill="#cb5929"/>
<rect x="402.00" y="418.00" width="83.00" height="1.00" fill="#e3a149"/>
<rect x="320.00" y="419.00" width="82.00" height="1.00" fill="#d98739"/>
<rect x="402.00" y="419.00" width="83.00" height="1.00" fill="#d77b38"/>
<rect x="320.00" y="420.00" width="82.00" height="1.00" fill="#e89648"/>
<rect x="402.00" y="420.00" width="83.00" height="1.00" fill="#d67a37"/>
<rect x="320.00" y="421.00" width="82.00" height="1.00" fill="#e89648"/>
<rect x="402.00" y="421.00" width="83.00" height="1.00" fill="#d67a37"/>
<rect x="320.00" y="422.00" width="82.00" height="1.00" fill="#e89648"/>
<rect x="402.00" y="422.00" width="83.00" height="1.00" fill="#d67a37"/>
<rect x="320.00" y="423.00" width="82.00" height="1.00" fill="#df8d3f"/>
<rect x="402.00" y="423.00" width="83.00" height="1.00" fill="#d17532"/>
<rect x="320.00" y="424.00" width="82.00" height="1.00" fill="#df8d3f"/>
<rect x="402.00" y="424.00" width="83.00" height="1.00" fill="#d17532"/>
<rect x="320.00" y="425.00" width="82.00" height="1.00" fill="#df8d3f"/>
<rect x="402.00" y="425.00" width="83.00" height="1.00" fill="#cd6b2d"/>
<rect x="320.00" y="426.00" width="82.00" height="1.00" fill="#db893b"/>
<rect x="402.00" y="426.00" width="83.00" height="1.00" fill="#d47234"/>
<rect x="320.00" y="427.00" width="82.00" height="1.00" fill="#db893b"/>
<rect x="402.00" y="427.00" width="83.00" height="1.00" fill="#d47234"/>
<rect x="320.00" y="428.00" width="82.00" height="1.00" fill="#db893b"/>
<rect x="402.00" y="428.00" width="83.00" height="1.00" fill="#d47234"/>
<rect x="320.00" y="429.00" width="82.00" height="1.00" fill="#dc8a3c"/>
<rect x="402.00" y="429.00" width="83.00" height="1.00" fill="#d37133"/>
<rect x="320.00" y="430.00" width="82.00" height="1.00" fill="#dc8a3c"/>
<rect x="402.00" y="430.00" width="83.00" height="1.00" fill="#d37133"/>
<rect x="320.00" y="431.00" width="82.00" height="1.00" fill="#dc8a3c"/>
<rect x="402.00" y="431.00" width="83.00" height="1.00" fill="#d37133"/>
<rect x="320.00" y="432.00" width="82.00" height="1.00" fill="#dc8a3c"/>
<rect x="402.00" y="432.00" width="83.00" height="1.00" fill="#d37933"/>
<rect x="320.00" y="433.00" width="82.00" height="1.00" fill="#dc8a3c"/>
<rect x="402.00" y="433.00" width="83.00" height="1.00" fill="#d37933"/>
<rect x="320.00" y="434.00" width="82.00" height="1.00" fill="#dc8a3c"/>
<rect x="402.00" y="434.00" width="83.00" height="1.00" fill="#d37933"/>
<rect x="320.00" y="435.00" width="82.00" height="1.00" fill="#de8c3e"/>
<rect x="402.00" y="435.00" width="83.00" height="1.00" fill="#d47a34"/>
<rect x="320.00" y="436.00" width="82.00" height="1.00" fill="#de8c3e"/>
<rect x="402.00" y="436.00" width="83.00" height="1.00" fill="#d47a34"/>
<rect x="320.00" y="437.00" width="82.00" height="1.00" fill="#d87c39"/>
<rect x="402.00" y="437.00" width="83.00" height="1.00" fill="#d47a34"/>
<rect x="320.00" y="438.00" width="82.00" height="1.00" fill="#dd813e"/>
<rect x="402.00" y="438.00" width="83.00" height="1.00" fill="#d57b35"/>
<rect x="320.00" y="439.00" width="82.00" height="1.00" fill="#dd813e"/>
<rect x="402.00" y="439.00" width="83.00" height="1.00" fill="#d57b35"/>
<rect x="320.00" y="440.00" width="82.00" height="1.00" fill="#e28f43"/>
<rect x="402.00" y="440.00" width="83.00" height="1.00" fill="#da853a"/>
<rect x="320.00" y="441.00" width="82.00" height="1.00" fill="#dd8a3e"/>
<rect x="402.00" y="441.00" width="83.00" height="1.00" fill="#dc873c"/>
<rect x="320.00" y="442.00" width="82.00" height="1.00" fill="#dd8a3e"/>
<rect x="402.00" y="442.00" width="83.00" height="1.00" fill="#dc873c"/>
<rect x="320.00" y="443.00" width="82.00" height="1.00" fill="#dd8a3e"/>
<rect x="402.00" y="443.00" width="83.00" height="1.00" fill="#dc873c"/>
<rect x="320.00" y="444.00" width="82.00" height="1.00" fill="#de8b3f"/>
<rect x="402.00" y="444.00" width="83.00" height="1.00" fill="#da853a"/>
<rect x="320.00" y="445.00" width="82.00" height="1.00" fill="#de8b3f"/>
<rect x="402.00" y="445.00" width="83.00" height="1.00" fill="#d06a30"/>
<rect x="320.00" y="446.00" width="82.00" height="1.00" fill="#de8b3f"/>
<rect x="402.00" y="446.00" width="83.00" height="1.00" fill="#d06a30"/>
<rect x="320.00" y="447.00" width="82.00" height="1.00" fill="#de8b3f"/>
<rect x="402.00" y="447.00" width="83.00" height="1.00" fill="#d26c32"/>
<rect x="320.00" y="448.00" width="82.00" height="1.00" fill="#e39949"/>
<rect x="402.00" y="448.00" width="83.00" height="1.00" fill="#d26c32"/>
<rect x="320.00" y="449.00" width="82.00" height="1.00" fill="#e39949"/>
<rect x="402.00" y="449.00" width="83.00" height="1.00" fill="#d26c32"/>
<rect x="320.00" y="450.00" width="82.00" height="1.00" fill="#e49a4a"/>
<rect x="402.00" y="450.00" width="83.00" height="1.00" fill="#d46e34"/>
<rect x="320.00" y="451.00" width="82.00" height="1.00" fill="#e49a4a"/>
<rect x="402.00" y="451.00" width="83.00" height="1.00" fill="#d46e34"/>
<rect x="320.00" y="452.00" width="82.00" height="1.00" fill="#df8c40"/>
<rect x="402.00" y="452.00" width="83.00" height="1.00" fill="#dc8c3e"/>
<rect x="320.00" y="453.00" width="82.00" height="1.00" fill="#db883c"/>
<rect x="402.00" y="453.00" width="83.00" height="1.00" fill="#d78739"/>
<rect x="320.00" y="454.00" width="82.00" height="1.00" fill="#db883c"/>
<rect x="402.00" y="454.00" width="83.00" height="1.00" fill="#d78739"/>
<rect x="320.00" y="455.00" width="82.00" height="1.00" fill="#d67d37"/>
<rect x="402.00" y="455.00" width="83.00" height="1.00" fill="#d78739"/>
<rect x="320.00" y="456.00" width="82.00" height="1.00" fill="#d9803a"/>
<rect x="402.00" y="456.00" width="83.00" height="1.00" fill="#dc8c3e"/>
<rect x="320.00" y="457.00" width="82.00" height="1.00" fill="#d9803a"/>
<rect x="402.00" y="457.00" width="83.00" height="1.00" fill="#dc8c3e"/>
<rect x="320.00" y="458.00" width="82.00" height="1.00" fill="#d9803a"/>
<rect x="402.00" y="458.00" width="83.00" height="1.00" fill="#dc8c3e"/>
<rect x="320.00" y="459.00" width="82.00" height="1.00" fill="#dc833d"/>
<rect x="402.00" y="459.00" width="83.00" height="1.00" fill="#d9893b"/>
<rect x="320.00" y="460.00" width="82.00" height="1.00" fill="#dc833d"/>
<rect x="402.00" y="460.00" width="83.00" height="1.00" fill="#d9893b"/>
<rect x="320.00" y="461.00" width="82.00" height="1.00" fill="#dc833d"/>
<rect x="402.00" y="461.00" width="83.00" height="1.00" fill="#d9893b"/>
<rect x="320.00" y="462.00" width="82.00" height="1.00" fill="#de8e40"/>
<rect x="402.00" y="462.00" width="83.00" height="1.00" fill="#dc8c3e"/>
<rect x="320.00" y="463.00" width="82.00" height="1.00" fill="#de8e40"/>
<rect x="402.00" y="463.00" width="83.00" height="1.00" fill="#dc8c3e"/>
<rect x="320.00" y="464.00" width="82.00" height="1.00" fill="#de8e40"/>
<rect x="402.00" y="464.00" width="83.00" height="1.00" fill="#dc8c3e"/>
<rect x="320.00" y="465.00" width="82.00" height="1.00" fill="#dd8d3f"/>
<rect x="402.00" y="465.00" width="83.00" height="1.00" fill="#d57935"/>
<rect x="320.00" y="466.00" width="82.00" height="1.00" fill="#dd8d3f"/>
<rect x="402.00" y="466.00" width="83.00" height="1.00" fill="#d57935"/>
<rect x="320.00" y="467.00" width="82.00" height="1.00" fill="#dd8d3f"/>
<rect x="402.00" y="467.00" width="83.00" height="1.00" fill="#d57935"/>
<rect x="320.00" y="468.00" width="82.00" height="1.00" fill="#dd8d3f"/>
<rect x="402.00" y="468.00" width="83.00" height="1.00" fill="#d27632"/>
<rect x="320.00" y="469.00" width="82.00" height="1.00" fill="#dd8d3f"/>
<rect x="402.00" y="469.00" width="83.00" height="1.00" fill="#d27632"/>
<rect x="320.00" y="470.00" width="82.00" height="1.00" fill="#dd8d3f"/>
<rect x="402.00" y="470.00" width="83.00" height="1.00" fill="#da8a3c"/>
<rect x="320.00" y="471.00" width="82.00" height="1.00" fill="#d8883a"/>
<rect x="402.00" y="471.00" width="83.00" height="1.00" fill="#db8b3d"/>
<rect x="320.00" y="472.00" width="82.00" height="1.00" fill="#d8883a"/>
<rect x="402.00" y="472.00" width="83.00" height="1.00" fill="#db8b3d"/>
<rect x="320.00" y="473.00" width="82.00" height="1.00" fill="#d8883a"/>
<rect x="402.00" y="473.00" width="83.00" height="1.00" fill="#db8b3d"/>
<rect x="320.00" y="474.00" width="82.00" height="1.00" fill="#de8e40"/>
<rect x="402.00" y="474.00" width="83.00" height="1.00" fill="#e19143"/>
<rect x="320.00" y="475.00" width="82.00" height="1.00" fill="#d67a36"/>
<rect x="402.00" y="475.00" width="83.00" height="1.00" fill="#e19143"/>
<rect x="320.00" y="476.00" width="82.00" height="1.00" fill="#d67a36"/>
<rect x="402.00" y="476.00" width="83.00" height="1.00" fill="#e19143"/>
<rect x="320.00" y="477.00" width="82.00" height="1.00" fill="#d77b37"/>
<rect x="402.00" y="477.00" width="83.00" height="1.00" fill="#e09042"/>
<rect x="320.00" y="478.00" width="82.00" height="1.00" fill="#d77b37"/>
<rect x="402.00" y="478.00" width="83.00" height="1.00" fill="#e09042"/>
<rect x="320.00" y="479.00" width="82.00" height="1.00" fill="#d77b37"/>
<rect x="402.00" y="479.00" width="83.00" height="1.00" fill="#e09042"/>
<rect x="320.00" y="480.00" width="82.00" height="1.00" fill="#db873d"/>
<rect x="402.00" y="480.00" width="83.00" height="1.00" fill="#de8e40"/>
<rect x="320.00" y="481.00" width="82.00" height="1.00" fill="#db873d"/>
<rect x="402.00" y="481.00" width="83.00" height="1.00" fill="#de8e40"/>
<rect x="320.00" y="482.00" width="82.00" height="1.00" fill="#db873d"/>
<rect x="402.00" y="482.00" width="83.00" height="1.00" fill="#de8e40"/>
<rect x="320.00" y="483.00" width="82.00" height="1.00" fill="#d9853b"/>
<rect x="402.00" y="483.00" width="83.00" height="1.00" fill="#df8f41"/>
<rect x="320.00" y="484.00" width="82.00" height="1.00" fill="#d9853b"/>
<rect x="402.00" y="484.00" width="83.00" height="1.00" fill="#df8f41"/>
<rect x="320.00" y="485.00" width="82.00" height="1.00" fill="#d9853b"/>
<rect x="402.00" y="485.00" width="83.00" height="1.00" fill="#df8f41"/>
<rect x="320.00" y="486.00" width="82.00" height="1.00" fill="#de8a40"/>
<rect x="402.00" y="486.00" width="83.00" height="1.00" fill="#db8b3d"/>
<rect x="320.00" y="487.00" width="82.00" height="1.00" fill="#de8a40"/>
<rect x="402.00" y="487.00" width="83.00" height="1.00" fill="#db8b3d"/>
<rect x="320.00" y="488.00" width="82.00" height="1.00" fill="#de8a40"/>
<rect x="402.00" y="488.00" width="83.00" height="1.00" fill="#db8b3d"/>
<rect x="320.00" y="489.00" width="82.00" height="1.00" fill="#d07630"/>
<rect x="402.00" y="489.00" width="83.00" height="1.00" fill="#e39345"/>
<rect x="320.00" y="490.00" width="82.00" height="1.00" fill="#dc8f3f"/>
<rect x="402.00" y="490.00" width="83.00" height="1.00" fill="#e1873f"/>
<rect x="320.00" y="491.00" width="82.00" height="1.00" fill="#dc8f3f"/>
<rect x="402.00" y="491.00" width="83.00" height="1.00" fill="#e1873f"/>
<rect x="320.00" y="492.00" width="82.00" height="1.00" fill="#df9242"/>
<rect x="402.00" y="492.00" width="83.00" height="1.00" fill="#dd833b"/>
<rect x="320.00" y="493.00" width="82.00" height="1.00" fill="#df9242"/>
<rect x="402.00" y="493.00" width="83.00" height="1.00" fill="#dd833b"/>
<rect x="320.00" y="494.00" width="82.00" height="1.00" fill="#df9242"/>
<rect x="402.00" y="494.00" width="83.00" height="1.00" fill="#dd833b"/>
<rect x="320.00" y="495.00" width="82.00" height="1.00" fill="#e19444"/>
<rect x="402.00" y="495.00" width="83.00" height="1.00" fill="#d67c34"/>
<rect x="320.00" y="496.00" width="82.00" height="1.00" fill="#e19444"/>
<rect x="402.00" y="496.00" width="83.00" height="1.00" fill="#d67c34"/>
<rect x="320.00" y="497.00" width="82.00" height="1.00" fill="#e19444"/>
<rect x="402.00" y="497.00" width="83.00" height="1.00" fill="#d37230"/>
<rect x="320.00" y="498.00" width="82.00" height="1.00" fill="#e79a4a"/>
<rect x="402.00" y="498.00" width="83.00" height="1.00" fill="#dd7c3a"/>
<rect x="320.00" y="499.00" width="82.00" height="1.00" fill="#e79a4a"/>
<rect x="402.00" y="499.00" width="83.00" height="1.00" fill="#dd7c3a"/>
<rect x="320.00" y="500.00" width="82.00" height="1.00" fill="#e79a4a"/>
<rect x="402.00" y="500.00" width="83.00" height="1.00" fill="#dd7c3a"/>
<rect x="320.00" y="501.00" width="82.00" height="1.00" fill="#df9242"/>
<rect x="402.00" y="501.00" width="83.00" height="1.00" fill="#da7937"/>
<rect x="320.00" y="502.00" width="82.00" height="1.00" fill="#df9242"/>
<rect x="402.00" y="502.00" width="83.00" height="1.00" fill="#da7937"/>
<rect x="320.00" y="503.00" width="82.00" height="1.00" fill="#df9242"/>
<rect x="402.00" y="503.00" width="83.00" height="1.00" fill="#da7937"/>
<rect x="320.00" y="504.00" width="82.00" height="1.00" fill="#de9141"/>
<rect x="402.00" y="504.00" width="83.00" height="1.00" fill="#d47331"/>
<rect x="320.00" y="505.00" width="82.00" height="1.00" fill="#de9141"/>
<rect x="402.00" y="505.00" width="83.00" height="1.00" fill="#d47331"/>
<rect x="320.00" y="506.00" width="82.00" height="1.00" fill="#de9141"/>
<rect x="402.00" y="506.00" width="83.00" height="1.00" fill="#d47331"/>
<rect x="320.00" y="507.00" width="82.00" height="1.00" fill="#de9141"/>
<rect x="402.00" y="507.00" width="83.00" height="1.00" fill="#d87735"/>
<rect x="320.00" y="508.00" width="82.00" height="1.00" fill="#de9141"/>
<rect x="402.00" y="508.00" width="83.00" height="1.00" fill="#d87735"/>
<rect x="320.00" y="509.00" width="82.00" height="1.00" fill="#de9141"/>
<rect x="402.00" y="509.00" width="83.00" height="1.00" fill="#d87735"/>
<rect x="320.00" y="510.00" width="82.00" height="1.00" fill="#e29545"/>
<rect x="402.00" y="510.00" width="83.00" height="1.00" fill="#d97836"/>
<rect x="320.00" y="511.00" width="82.00" height="1.00" fill="#e29545"/>
<rect x="402.00" y="511.00" width="83.00" height="1.00" fill="#d97836"/>
<rect x="320.00" y="512.00" width="82.00" height="1.00" fill="#e29545"/>
<rect x="402.00" y="512.00" width="83.00" height="1.00" fill="#d46630"/>
<rect x="320.00" y="513.00" width="82.00" height="1.00" fill="#de9141"/>
<rect x="402.00" y="513.00" width="83.00" height="1.00" fill="#d76933"/>
<rect x="320.00" y="514.00" width="82.00" height="1.00" fill="#de9141"/>
<rect x="402.00" y="514.00" width="83.00" height="1.00" fill="#d76933"/>
<rect x="320.00" y="515.00" width="82.00" height="1.00" fill="#de9141"/>
<rect x="402.00" y="515.00" width="83.00" height="1.00" fill="#d76933"/>
<rect x="320.00" y="516.00" width="82.00" height="1.00" fill="#db8e3e"/>
<rect x="402.00" y="516.00" width="83.00" height="1.00" fill="#d56731"/>
<rect x="320.00" y="517.00" width="82.00" height="1.00" fill="#df9843"/>
<rect x="402.00" y="517.00" width="83.00" height="1.00" fill="#d56731"/>
<rect x="320.00" y="518.00" width="82.00" height="1.00" fill="#df9843"/>
<rect x="402.00" y="518.00" width="83.00" height="1.00" fill="#d56731"/>
<rect x="320.00" y="519.00" width="82.00" height="1.00" fill="#e69f4a"/>
<rect x="402.00" y="519.00" width="83.00" height="1.00" fill="#d1632d"/>
<rect x="320.00" y="520.00" width="82.00" height="1.00" fill="#e69f4a"/>
<rect x="402.00" y="520.00" width="83.00" height="1.00" fill="#d1632d"/>
<rect x="320.00" y="521.00" width="82.00" height="1.00" fill="#e69f4a"/>
<rect x="402.00" y="521.00" width="83.00" height="1.00" fill="#d1632d"/>
<rect x="320.00" y="522.00" width="82.00" height="1.00" fill="#dc9540"/>
<rect x="402.00" y="522.00" width="83.00" height="1.00" fill="#cf612b"/>
<rect x="320.00" y="523.00" width="82.00" height="1.00" fill="#dc9540"/>
<rect x="402.00" y="523.00" width="83.00" height="1.00" fill="#cf612b"/>
<rect x="320.00" y="524.00" width="82.00" height="1.00" fill="#dc9540"/>
<rect x="402.00" y="524.00" width="83.00" height="1.00" fill="#cf612b"/>
<rect x="320.00" y="525.00" width="82.00" height="1.00" fill="#e39c47"/>
<rect x="402.00" y="525.00" width="83.00" height="1.00" fill="#d46630"/>
<rect x="320.00" y="526.00" width="82.00" height="1.00" fill="#e39c47"/>
<rect x="402.00" y="526.00" width="83.00" height="1.00" fill="#d46630"/>
<rect x="320.00" y="527.00" width="82.00" height="1.00" fill="#e39c47"/>
<rect x="402.00" y="527.00" width="83.00" height="1.00" fill="#ca4d28"/>
<rect x="320.00" y="528.00" width="82.00" height="1.00" fill="#ebaa50"/>
<rect x="402.00" y="528.00" width="83.00" height="1.00" fill="#c44722"/>
<rect x="320.00" y="529.00" width="82.00" height="1.00" fill="#ebaa50"/>
<rect x="402.00" y="529.00" width="83.00" height="1.00" fill="#c44722"/>
<rect x="320.00" y="530.00" width="82.00" height="1.00" fill="#e19143"/>
<rect x="402.00" y="530.00" width="83.00" height="1.00" fill="#da7438"/>
<rect x="320.00" y="531.00" width="82.00" height="1.00" fill="#dc8c3e"/>
<rect x="402.00" y="531.00" width="83.00" height="1.00" fill="#e07a3e"/>
<rect x="320.00" y="532.00" width="82.00" height="1.00" fill="#dc8c3e"/>
<rect x="402.00" y="532.00" width="83.00" height="1.00" fill="#e07a3e"/>
<rect x="320.00" y="533.00" width="82.00" height="1.00" fill="#dc8c3e"/>
<rect x="402.00" y="533.00" width="83.00" height="1.00" fill="#d97a36"/>
<rect x="320.00" y="534.00" width="82.00" height="1.00" fill="#db8b3d"/>
<rect x="402.00" y="534.00" width="83.00" height="1.00" fill="#cf702c"/>
<rect x="320.00" y="535.00" width="82.00" height="1.00" fill="#db8b3d"/>
<rect x="402.00" y="535.00" width="83.00" height="1.00" fill="#cf702c"/>
<rect x="320.00" y="536.00" width="82.00" height="1.00" fill="#db8b3d"/>
<rect x="402.00" y="536.00" width="83.00" height="1.00" fill="#cf702c"/>
<rect x="320.00" y="537.00" width="82.00" height="1.00" fill="#df8f41"/>
<rect x="402.00" y="537.00" width="83.00" height="1.00" fill="#df803c"/>
<rect x="320.00" y="538.00" width="82.00" height="1.00" fill="#df8f41"/>
<rect x="402.00" y="538.00" width="83.00" height="1.00" fill="#df803c"/>
<rect x="320.00" y="539.00" width="82.00" height="1.00" fill="#df8f41"/>
<rect x="402.00" y="539.00" width="83.00" height="1.00" fill="#df803c"/>
<rect x="320.00" y="540.00" width="82.00" height="1.00" fill="#e09042"/>
<rect x="402.00" y="540.00" width="83.00" height="1.00" fill="#d47531"/>
<rect x="320.00" y="541.00" width="82.00" height="1.00" fill="#e09042"/>
<rect x="402.00" y="541.00" width="83.00" height="1.00" fill="#d47531"/>
<rect x="320.00" y="542.00" width="82.00" height="1.00" fill="#e09042"/>
<rect x="402.00" y="542.00" width="83.00" height="1.00" fill="#d47531"/>
<rect x="320.00" y="543.00" width="82.00" height="1.00" fill="#db8b3d"/>
<rect x="402.00" y="543.00" width="83.00" height="1.00" fill="#d87935"/>
<rect x="320.00" y="544.00" width="82.00" height="1.00" fill="#db8b3d"/>
<rect x="402.00" y="544.00" width="83.00" height="1.00" fill="#d87935"/>
<rect x="320.00" y="545.00" width="82.00" height="1.00" fill="#d67935"/>
<rect x="402.00" y="545.00" width="83.00" height="1.00" fill="#de8f40"/>
<rect x="320.00" y="546.00" width="82.00" height="1.00" fill="#e0833f"/>
<rect x="402.00" y="546.00" width="83.00" height="1.00" fill="#df9041"/>
<rect x="320.00" y="547.00" width="82.00" height="1.00" fill="#e0833f"/>
<rect x="402.00" y="547.00" width="83.00" height="1.00" fill="#df9041"/>
<rect x="320.00" y="548.00" width="82.00" height="1.00" fill="#e0833f"/>
<rect x="402.00" y="548.00" width="83.00" height="1.00" fill="#df9041"/>
<rect x="320.00" y="549.00" width="82.00" height="1.00" fill="#d77a36"/>
<rect x="402.00" y="549.00" width="83.00" height="1.00" fill="#e29344"/>
<rect x="320.00" y="550.00" width="82.00" height="1.00" fill="#d77a36"/>
<rect x="402.00" y="550.00" width="83.00" height="1.00" fill="#e29344"/>
<rect x="320.00" y="551.00" width="82.00" height="1.00" fill="#d77a36"/>
<rect x="402.00" y="551.00" width="83.00" height="1.00" fill="#e29344"/>
<rect x="320.00" y="552.00" width="82.00" height="1.00" fill="#d77a36"/>
<rect x="402.00" y="552.00" width="83.00" height="1.00" fill="#e49546"/>
<rect x="320.00" y="553.00" width="82.00" height="1.00" fill="#d77a36"/>
<rect x="402.00" y="553.00" width="83.00" height="1.00" fill="#e49546"/>
<rect x="320.00" y="554.00" width="82.00" height="1.00" fill="#d77a36"/>
<rect x="402.00" y="554.00" width="83.00" height="1.00" fill="#e49546"/>
<rect x="320.00" y="555.00" width="82.00" height="1.00" fill="#d57834"/>
<rect x="402.00" y="555.00" width="83.00" height="1.00" fill="#db8c3d"/>
<rect x="320.00" y="556.00" width="82.00" height="1.00" fill="#d57834"/>
<rect x="402.00" y="556.00" width="83.00" height="1.00" fill="#db8c3d"/>
<rect x="320.00" y="557.00" width="82.00" height="1.00" fill="#d2672e"/>
<rect x="402.00" y="557.00" width="83.00" height="1.00" fill="#db8c3d"/>
<rect x="320.00" y="558.00" width="82.00" height="1.00" fill="#d76c33"/>
<rect x="402.00" y="558.00" width="83.00" height="1.00" fill="#e29344"/>
<rect x="320.00" y="559.00" width="82.00" height="1.00" fill="#d76c33"/>
<rect x="402.00" y="559.00" width="83.00" height="1.00" fill="#e29344"/>
<rect x="320.00" y="560.00" width="82.00" height="1.00" fill="#d76c33"/>
<rect x="402.00" y="560.00" width="83.00" height="1.00" fill="#e29344"/>
<rect x="320.00" y="561.00" width="82.00" height="1.00" fill="#d66b32"/>
<rect x="402.00" y="561.00" width="83.00" height="1.00" fill="#de8f40"/>
<rect x="320.00" y="562.00" width="82.00" height="1.00" fill="#d66b32"/>
<rect x="402.00" y="562.00" width="83.00" height="1.00" fill="#de8f40"/>
<rect x="320.00" y="563.00" width="82.00" height="1.00" fill="#d66b32"/>
<rect x="402.00" y="563.00" width="83.00" height="1.00" fill="#de8f40"/>
<rect x="320.00" y="564.00" width="82.00" height="1.00" fill="#ce632a"/>
<rect x="402.00" y="564.00" width="83.00" height="1.00" fill="#db8c3d"/>
<rect x="320.00" y="565.00" width="82.00" height="1.00" fill="#ce632a"/>
<rect x="402.00" y="565.00" width="83.00" height="1.00" fill="#db8c3d"/>
<rect x="320.00" y="566.00" width="82.00" height="1.00" fill="#ce632a"/>
<rect x="402.00" y="566.00" width="83.00" height="1.00" fill="#db8c3d"/>
<rect x="320.00" y="567.00" width="82.00" height="1.00" fill="#d2672e"/>
<rect x="402.00" y="567.00" width="83.00" height="1.00" fill="#db8c3d"/>
<rect x="320.00" y="568.00" width="82.00" height="1.00" fill="#d2672e"/>
<rect x="402.00" y="568.00" width="83.00" height="1.00" fill="#db8c3d"/>
<rect x="320.00" y="569.00" width="82.00" height="1.00" fill="#d2672e"/>
<rect x="402.00" y="569.00" width="83.00" height="1.00" fill="#db8c3d"/>
<rect x="320.00" y="570.00" width="82.00" height="1.00" fill="#d66b32"/>
<rect x="402.00" y="570.00" width="83.00" height="1.00" fill="#dc8d3e"/>
<rect x="320.00" y="571.00" width="82.00" height="1.00" fill="#d66b32"/>
<rect x="402.00" y="571.00" width="83.00" height="1.00" fill="#dc8d3e"/>
<rect x="320.00" y="572.00" width="82.00" height="1.00" fill="#d66b32"/>
<rect x="402.00" y="572.00" width="83.00" height="1.00" fill="#dc8d3e"/>
<rect x="320.00" y="573.00" width="82.00" height="1.00" fill="#d76c33"/>
<rect x="402.00" y="573.00" width="83.00" height="1.00" fill="#dd8e3f"/>
<rect x="320.00" y="574.00" width="82.00" height="1.00" fill="#d76c33"/>
<rect x="402.00" y="574.00" width="83.00" height="1.00" fill="#dd8e3f"/>
<rect x="320.00" y="575.00" width="82.00" height="1.00" fill="#d76c33"/>
<rect x="402.00" y="575.00" width="83.00" height="1.00" fill="#dd8e3f"/>
<rect x="320.00" y="576.00" width="82.00" height="1.00" fill="#d3682f"/>
<rect x="402.00" y="576.00" width="83.00" height="1.00" fill="#dd8e3f"/>
<rect x="320.00" y="577.00" width="82.00" height="1.00" fill="#d3682f"/>
<rect x="402.00" y="577.00" width="83.00" height="1.00" fill="#dd8e3f"/>
<rect x="320.00" y="578.00" width="82.00" height="1.00" fill="#c73b22"/>
<rect x="402.00" y="578.00" width="83.00" height="1.00" fill="#e8b45a"/>
<rect x="320.00" y="579.00" width="82.00" height="1.00" fill="#ca3e25"/>
<rect x="402.00" y="579.00" width="83.00" height="1.00" fill="#ebb75d"/>
<rect x="320.00" y="580.00" width="82.00" height="1.00" fill="#ca3e25"/>
<rect x="402.00" y="580.00" width="83.00" height="1.00" fill="#f3d071"/>
<rect x="320.00" y="581.00" width="82.00" height="1.00" fill="#c62a20"/>
<rect x="402.00" y="581.00" width="83.00" height="1.00" fill="#f3d071"/>
<rect x="320.00" y="582.00" width="82.00" height="1.00" fill="#c2261c"/>
<rect x="402.00" y="582.00" width="83.00" height="1.00" fill="#efcc6d"/>
<rect x="320.00" y="583.00" width="82.00" height="1.00" fill="#c2261c"/>
<rect x="402.00" y="583.00" width="83.00" height="1.00" fill="#e0a94f"/>
<rect x="320.00" y="584.00" width="82.00" height="1.00" fill="#c2261c"/>
<rect x="402.00" y="584.00" width="83.00" height="1.00" fill="#e0a94f"/>
<rect x="320.00" y="585.00" width="82.00" height="1.00" fill="#c74128"/>
<rect x="402.00" y="585.00" width="83.00" height="1.00" fill="#e7b056"/>
<rect x="320.00" y="586.00" width="82.00" height="1.00" fill="#c74128"/>
<rect x="402.00" y="586.00" width="83.00" height="1.00" fill="#e7b056"/>
<rect x="320.00" y="587.00" width="82.00" height="1.00" fill="#c74128"/>
<rect x="402.00" y="587.00" width="83.00" height="1.00" fill="#e7b056"/>
<rect x="320.00" y="588.00" width="82.00" height="1.00" fill="#d14b32"/>
<rect x="402.00" y="588.00" width="83.00" height="1.00" fill="#e0a94f"/>
<rect x="320.00" y="589.00" width="82.00" height="1.00" fill="#b4231e"/>
<rect x="402.00" y="589.00" width="83.00" height="1.00" fill="#e0a94f"/>
<rect x="320.00" y="590.00" width="82.00" height="1.00" fill="#b4231e"/>
<rect x="402.00" y="590.00" width="83.00" height="1.00" fill="#f4d681"/>
<rect x="320.00" y="591.00" width="82.00" height="1.00" fill="#da7b3a"/>
<rect x="402.00" y="591.00" width="83.00" height="1.00" fill="#d37433"/>
<rect x="320.00" y="592.00" width="82.00" height="1.00" fill="#da7b3a"/>
<rect x="402.00" y="592.00" width="83.00" height="1.00" fill="#d37433"/>
<rect x="320.00" y="593.00" width="82.00" height="1.00" fill="#da7b3a"/>
<rect x="402.00" y="593.00" width="83.00" height="1.00" fill="#d37433"/>
<rect x="320.00" y="594.00" width="82.00" height="1.00" fill="#dd7e3d"/>
<rect x="402.00" y="594.00" width="83.00" height="1.00" fill="#d87938"/>
<rect x="320.00" y="595.00" width="82.00" height="1.00" fill="#df9742"/>
<rect x="402.00" y="595.00" width="83.00" height="1.00" fill="#d87938"/>
<rect x="320.00" y="596.00" width="82.00" height="1.00" fill="#df9742"/>
<rect x="402.00" y="596.00" width="83.00" height="1.00" fill="#d87938"/>
<rect x="320.00" y="597.00" width="82.00" height="1.00" fill="#e69e49"/>
<rect x="402.00" y="597.00" width="83.00" height="1.00" fill="#d87938"/>
<rect x="320.00" y="598.00" width="82.00" height="1.00" fill="#e69e49"/>
<rect x="402.00" y="598.00" width="83.00" height="1.00" fill="#d87938"/>
<rect x="320.00" y="599.00" width="82.00" height="1.00" fill="#e69e49"/>
<rect x="402.00" y="599.00" width="83.00" height="1.00" fill="#cf512b"/>
<rect x="320.00" y="600.00" width="82.00" height="1.00" fill="#db933e"/>
<rect x="402.00" y="600.00" width="83.00" height="1.00" fill="#c54721"/>
<rect x="320.00" y="601.00" width="82.00" height="1.00" fill="#db933e"/>
<rect x="402.00" y="601.00" width="83.00" height="1.00" fill="#c54721"/>
<rect x="320.00" y="602.00" width="82.00" height="1.00" fill="#db933e"/>
<rect x="402.00" y="602.00" width="83.00" height="1.00" fill="#b71b14"/>
<rect x="320.00" y="603.00" width="82.00" height="1.00" fill="#e39b46"/>
<rect x="402.00" y="603.00" width="83.00" height="1.00" fill="#c1251e"/>
<rect x="320.00" y="604.00" width="82.00" height="1.00" fill="#e39b46"/>
<rect x="402.00" y="604.00" width="83.00" height="1.00" fill="#c1251e"/>
<rect x="320.00" y="605.00" width="82.00" height="1.00" fill="#e9be64"/>
<rect x="402.00" y="605.00" width="83.00" height="1.00" fill="#c1251e"/>
<rect x="320.00" y="606.00" width="82.00" height="1.00" fill="#deb359"/>
<rect x="402.00" y="606.00" width="83.00" height="1.00" fill="#c1251e"/>
<rect x="320.00" y="607.00" width="82.00" height="1.00" fill="#deb359"/>
<rect x="402.00" y="607.00" width="83.00" height="1.00" fill="#cd3f29"/>
<rect x="320.00" y="608.00" width="82.00" height="1.00" fill="#eac772"/>
<rect x="402.00" y="608.00" width="83.00" height="1.00" fill="#cd3f29"/>
<rect x="320.00" y="609.00" width="82.00" height="1.00" fill="#eac772"/>
<rect x="402.00" y="609.00" width="83.00" height="1.00" fill="#d84a34"/>
<rect x="320.00" y="610.00" width="82.00" height="1.00" fill="#eac772"/>
<rect x="402.00" y="610.00" width="83.00" height="1.00" fill="#bc2422"/>
<rect x="320.00" y="611.00" width="82.00" height="1.00" fill="#eac772"/>
<rect x="402.00" y="611.00" width="83.00" height="1.00" fill="#bc2422"/>
<rect x="320.00" y="612.00" width="82.00" height="1.00" fill="#e2b35e"/>
<rect x="402.00" y="612.00" width="83.00" height="1.00" fill="#b21a18"/>
<rect x="320.00" y="613.00" width="82.00" height="1.00" fill="#e2b35e"/>
<rect x="402.00" y="613.00" width="83.00" height="1.00" fill="#b21a18"/>
<rect x="320.00" y="614.00" width="82.00" height="1.00" fill="#e2b35e"/>
<rect x="402.00" y="614.00" width="83.00" height="1.00" fill="#dc7540"/>
<rect x="320.00" y="615.00" width="82.00" height="1.00" fill="#e0bd6d"/>
<rect x="402.00" y="615.00" width="83.00" height="1.00" fill="#d36c37"/>
<rect x="320.00" y="616.00" width="82.00" height="1.00" fill="#e0bd6d"/>
<rect x="402.00" y="616.00" width="83.00" height="1.00" fill="#d36c37"/>
<rect x="320.00" y="617.00" width="82.00" height="1.00" fill="#e0bd6d"/>
<rect x="402.00" y="617.00" width="83.00" height="1.00" fill="#d36c37"/>
<rect x="320.00" y="618.00" width="82.00" height="1.00" fill="#d76e32"/>
<rect x="402.00" y="618.00" width="83.00" height="1.00" fill="#c35a28"/>
<rect x="320.00" y="619.00" width="82.00" height="1.00" fill="#d76e32"/>
<rect x="402.00" y="619.00" width="83.00" height="1.00" fill="#c35a28"/>
<rect x="320.00" y="620.00" width="82.00" height="1.00" fill="#d76e32"/>
<rect x="402.00" y="620.00" width="83.00" height="1.00" fill="#c35a28"/>
</g>
<rect x="320.00" y="356.50" width="82.00" height="6.30" fill="#f2e14c"/>
<rect x="402.00" y="356.50" width="83.00" height="6.30" fill="#3f6fbe"/>
<text x="358.80" y="362.60" font-size="8.00" text-anchor="middle" font-weight="normal" fill="#1a1a1a" stroke="#1a1a1a" stroke-width="0.22">mobilized</text>
<text x="435.80" y="362.60" font-size="8.00" text-anchor="middle" font-weight="normal" fill="#0f1a3a" stroke="#0f1a3a" stroke-width="0.22">resting</text>
<rect x="313.40" y="365.00" width="5.00" height="7.40" fill="#3b66b3"/>
<rect x="313.40" y="372.30" width="5.00" height="46.50" fill="#f1e04e"/>
<rect x="313.40" y="418.70" width="5.00" height="2.40" fill="#3b66b3"/>
<rect x="313.40" y="421.00" width="5.00" height="1.10" fill="#f1e04e"/>
<rect x="313.40" y="422.00" width="5.00" height="12.30" fill="#3b66b3"/>
<rect x="313.40" y="434.20" width="5.00" height="5.90" fill="#f1e04e"/>
<rect x="313.40" y="440.00" width="5.00" height="15.10" fill="#3b66b3"/>
<rect x="313.40" y="455.00" width="5.00" height="7.30" fill="#f1e04e"/>
<rect x="313.40" y="462.20" width="5.00" height="9.50" fill="#3b66b3"/>
<rect x="313.40" y="471.60" width="5.00" height="9.20" fill="#f1e04e"/>
<rect x="313.40" y="480.70" width="5.00" height="6.20" fill="#3b66b3"/>
<rect x="313.40" y="486.80" width="5.00" height="4.30" fill="#f1e04e"/>
<rect x="313.40" y="491.00" width="5.00" height="50.50" fill="#3b66b3"/>
<rect x="313.40" y="541.40" width="5.00" height="49.70" fill="#f1e04e"/>
<rect x="313.40" y="591.00" width="5.00" height="2.10" fill="#7aa05a"/>
<rect x="313.40" y="593.00" width="5.00" height="25.10" fill="#3b66b3"/>
<rect x="313.40" y="618.00" width="5.00" height="2.90" fill="#7aa05a"/>
<line x1="313.40" y1="372.30" x2="318.40" y2="372.30" stroke="#3a3a3a" stroke-width="0.60"/>
<line x1="313.40" y1="418.70" x2="318.40" y2="418.70" stroke="#3a3a3a" stroke-width="0.60"/>
<line x1="313.40" y1="421.00" x2="318.40" y2="421.00" stroke="#3a3a3a" stroke-width="0.60"/>
<line x1="313.40" y1="422.00" x2="318.40" y2="422.00" stroke="#3a3a3a" stroke-width="0.60"/>
<line x1="313.40" y1="434.20" x2="318.40" y2="434.20" stroke="#3a3a3a" stroke-width="0.60"/>
<line x1="313.40" y1="440.00" x2="318.40" y2="440.00" stroke="#3a3a3a" stroke-width="0.60"/>
<line x1="313.40" y1="455.00" x2="318.40" y2="455.00" stroke="#3a3a3a" stroke-width="0.60"/>
<line x1="313.40" y1="462.20" x2="318.40" y2="462.20" stroke="#3a3a3a" stroke-width="0.60"/>
<line x1="313.40" y1="471.60" x2="318.40" y2="471.60" stroke="#3a3a3a" stroke-width="0.60"/>
<line x1="313.40" y1="480.70" x2="318.40" y2="480.70" stroke="#3a3a3a" stroke-width="0.60"/>
<line x1="313.40" y1="486.80" x2="318.40" y2="486.80" stroke="#3a3a3a" stroke-width="0.60"/>
<line x1="313.40" y1="491.00" x2="318.40" y2="491.00" stroke="#3a3a3a" stroke-width="0.60"/>
<line x1="313.40" y1="541.40" x2="318.40" y2="541.40" stroke="#3a3a3a" stroke-width="0.60"/>
<line x1="313.40" y1="591.00" x2="318.40" y2="591.00" stroke="#3a3a3a" stroke-width="0.60"/>
<line x1="313.40" y1="593.00" x2="318.40" y2="593.00" stroke="#3a3a3a" stroke-width="0.60"/>
<line x1="313.40" y1="618.00" x2="318.40" y2="618.00" stroke="#3a3a3a" stroke-width="0.60"/>
<line x1="313.20" y1="365.20" x2="313.20" y2="620.80" stroke="#222" stroke-width="0.60"/>
<defs><linearGradient id="gD" x1="0" y1="0" x2="0" y2="1"><stop offset="0" stop-color="#6b0f19"/><stop offset="0.2" stop-color="#c3171d"/><stop offset="0.4" stop-color="#e0592b"/><stop offset="0.6" stop-color="#f2a23d"/><stop offset="0.8" stop-color="#fbe37f"/><stop offset="1" stop-color="#fffbe6"/></linearGradient></defs>
<rect x="487.80" y="365.20" width="8.90" height="130.20" fill="url(#gD)"/>
<text x="498.60" y="369.20" font-size="8.30" text-anchor="start" font-weight="normal" fill="#1a1a1a" stroke="#1a1a1a" stroke-width="0.22">1</text>
<text x="498.60" y="394.80" font-size="8.30" text-anchor="start" font-weight="normal" fill="#1a1a1a" stroke="#1a1a1a" stroke-width="0.22">0.8</text>
<text x="498.60" y="420.40" font-size="8.30" text-anchor="start" font-weight="normal" fill="#1a1a1a" stroke="#1a1a1a" stroke-width="0.22">0.6</text>
<text x="498.60" y="446.00" font-size="8.30" text-anchor="start" font-weight="normal" fill="#1a1a1a" stroke="#1a1a1a" stroke-width="0.22">0.4</text>
<text x="498.60" y="471.60" font-size="8.30" text-anchor="start" font-weight="normal" fill="#1a1a1a" stroke="#1a1a1a" stroke-width="0.22">0.2</text>
<text x="498.60" y="497.20" font-size="8.30" text-anchor="start" font-weight="normal" fill="#1a1a1a" stroke="#1a1a1a" stroke-width="0.22">0</text>
<text x="488.30" y="507.80" font-size="8.60" text-anchor="start" font-weight="bold" fill="#111">basis</text>
<rect x="488.40" y="511.40" width="5.90" height="5.90" fill="#f0dc2c"/>
<rect x="488.40" y="520.30" width="5.90" height="5.90" fill="#3a67b5"/>
<text x="497.00" y="517.40" font-size="8.20" text-anchor="start" font-weight="normal" fill="#111" stroke="#111" stroke-width="0.22">1</text>
<text x="497.00" y="526.30" font-size="8.20" text-anchor="start" font-weight="normal" fill="#111" stroke="#111" stroke-width="0.22">2</text>
<path d="M312.90,365.2 L311.34,365.20 L311.79,368.53 L311.06,371.40 L311.56,374.64 L310.95,377.72 L311.17,380.37 L311.16,382.63 L311.70,385.35 L310.61,388.13 L310.93,391.39 L310.92,393.67 L311.27,396.33 L311.70,399.51 L311.76,402.51 L311.22,405.21 L310.96,407.17 L311.06,409.66 L311.49,413.00 L311.44,414.53 L311.56,417.38 L310.71,419.22 L311.27,422.04 L311.41,425.33 L311.56,428.16 L310.83,430.52 L310.74,433.85 L311.10,436.12 L311.64,438.25 L310.80,440.74 L310.95,443.94 L311.47,447.34 L311.26,449.18 L311.54,451.23 L311.05,453.56 L311.42,456.04 L310.62,459.22 L311.71,461.63 L310.75,463.19 L310.95,464.77 L311.43,467.41 L311.78,470.50 L311.25,472.27 L310.80,473.82 L311.63,475.79 L311.04,477.39 L311.04,479.78 L310.83,482.59 L310.98,486.01 L311.23,487.91 L311.79,489.76 L310.94,492.21 L311.47,494.07 L310.96,496.26 L311.06,498.80 L311.33,501.81 L310.71,504.89 L310.68,506.57 L311.64,509.51 L311.05,511.92 L311.35,515.24 L310.74,517.88 L310.67,520.97 L311.02,523.40 L310.93,525.31 L311.03,528.45 L311.54,531.38 L310.62,534.68 L311.16,538.14 L311.42,541.22 L310.77,544.54 L311.70,546.73 L311.14,549.12 L311.22,552.15 L310.83,553.71 L310.84,555.34 L311.40,557.18 L311.63,560.26 L311.18,562.06 L310.79,565.00 L310.67,567.88 L310.66,570.37 L311.53,572.04 L311.45,574.59 L311.03,577.55 L310.79,580.10 L311.43,582.72 L310.79,584.98 L311.55,588.28 L310.64,591.48 L309.11,594.03 L309.16,595.93 L309.07,598.44 L308.64,599.99 L309.32,602.53 L309.12,605.63 L308.97,608.11 L309.15,609.74 L308.65,612.07 L309.48,615.42 L309.65,617.86 L308.82,620.23 L312.90,620.8 Z" fill="#0a0a0a"/>
<path d="M312.47,367.80L312.47,369.53M312.47,367.80L312.90,367.80M312.47,369.53L312.90,369.53M312.02,366.07L312.02,368.67M312.02,366.07L312.90,366.07M312.02,368.67L312.47,368.67M312.63,374.73L312.63,376.47M312.63,374.73L312.90,374.73M312.63,376.47L312.90,376.47M312.52,375.60L312.52,378.20M312.52,375.60L312.63,375.60M312.52,378.20L312.90,378.20M312.42,373.00L312.42,376.90M312.42,373.00L312.90,373.00M312.42,376.90L312.52,376.90M312.37,379.93L312.37,381.67M312.37,379.93L312.90,379.93M312.37,381.67L312.90,381.67M311.84,374.95L311.84,380.80M311.84,374.95L312.42,374.95M311.84,380.80L312.37,380.80M312.54,383.40L312.54,385.13M312.54,383.40L312.90,383.40M312.54,385.13L312.90,385.13M312.50,386.87L312.50,388.60M312.50,386.87L312.90,386.87M312.50,388.60L312.90,388.60M312.28,384.27L312.28,387.73M312.28,384.27L312.54,384.27M312.28,387.73L312.50,387.73M311.32,377.88L311.32,386.00M311.32,377.88L311.84,377.88M311.32,386.00L312.28,386.00M310.93,371.27L310.93,381.94M310.93,371.27L312.90,371.27M310.93,381.94L311.32,381.94M310.66,367.37L310.66,376.60M310.66,367.37L312.02,367.37M310.66,376.60L310.93,376.60M312.35,390.33L312.35,392.07M312.35,390.33L312.90,390.33M312.35,392.07L312.90,392.07M312.19,391.20L312.19,393.80M312.19,391.20L312.35,391.20M312.19,393.80L312.90,393.80M312.50,395.53L312.50,397.27M312.50,395.53L312.90,395.53M312.50,397.27L312.90,397.27M311.93,392.50L311.93,396.40M311.93,392.50L312.19,392.50M311.93,396.40L312.50,396.40M312.46,399.00L312.46,400.73M312.46,399.00L312.90,399.00M312.46,400.73L312.90,400.73M311.46,394.45L311.46,399.87M311.46,394.45L311.93,394.45M311.46,399.87L312.46,399.87M312.37,402.47L312.37,404.20M312.37,402.47L312.90,402.47M312.37,404.20L312.90,404.20M312.59,405.93L312.59,407.67M312.59,405.93L312.90,405.93M312.59,407.67L312.90,407.67M312.41,406.80L312.41,409.40M312.41,406.80L312.59,406.80M312.41,409.40L312.90,409.40M312.61,411.13L312.61,412.87M312.61,411.13L312.90,411.13M312.61,412.87L312.90,412.87M312.69,416.33L312.69,418.07M312.69,416.33L312.90,416.33M312.69,418.07L312.90,418.07M312.47,414.60L312.47,417.20M312.47,414.60L312.90,414.60M312.47,417.20L312.69,417.20M312.24,412.00L312.24,415.90M312.24,412.00L312.61,412.00M312.24,415.90L312.47,415.90M311.74,408.10L311.74,413.95M311.74,408.10L312.41,408.10M311.74,413.95L312.24,413.95M310.81,403.33L310.81,411.02M310.81,403.33L312.37,403.33M310.81,411.02L311.74,411.02M309.96,397.16L309.96,407.18M309.96,397.16L311.46,397.16M309.96,407.18L310.81,407.18M308.77,371.98L308.77,402.17M308.77,371.98L310.66,371.98M308.77,402.17L309.96,402.17M312.61,421.53L312.61,423.27M312.61,421.53L312.90,421.53M312.61,423.27L312.90,423.27M312.51,419.80L312.51,422.40M312.51,419.80L312.90,419.80M312.51,422.40L312.61,422.40M312.72,426.73L312.72,428.47M312.72,426.73L312.90,426.73M312.72,428.47L312.90,428.47M312.46,425.00L312.46,427.60M312.46,425.00L312.90,425.00M312.46,427.60L312.72,427.60M312.16,421.10L312.16,426.30M312.16,421.10L312.51,421.10M312.16,426.30L312.46,426.30M312.56,430.20L312.56,431.93M312.56,430.20L312.90,430.20M312.56,431.93L312.90,431.93M312.58,435.40L312.58,437.13M312.58,435.40L312.90,435.40M312.58,437.13L312.90,437.13M312.51,433.67L312.51,436.27M312.51,433.67L312.90,433.67M312.51,436.27L312.58,436.27M311.99,431.07L311.99,434.97M311.99,431.07L312.56,431.07M311.99,434.97L312.51,434.97M311.11,423.70L311.11,433.02M311.11,423.70L312.16,423.70M311.11,433.02L311.99,433.02M306.60,387.08L306.60,428.36M306.60,387.08L308.77,387.08M306.60,428.36L311.11,428.36M306.60,407.72L306.60,412.60M312.59,438.92L312.59,440.75M312.59,438.92L312.90,438.92M312.59,440.75L312.90,440.75M312.55,442.58L312.55,444.42M312.55,442.58L312.90,442.58M312.55,444.42L312.90,444.42M312.19,439.83L312.19,443.50M312.19,439.83L312.59,439.83M312.19,443.50L312.55,443.50M312.58,448.08L312.58,449.92M312.58,448.08L312.90,448.08M312.58,449.92L312.90,449.92M312.45,449.00L312.45,451.75M312.45,449.00L312.58,449.00M312.45,451.75L312.90,451.75M312.16,446.25L312.16,450.38M312.16,446.25L312.90,446.25M312.16,450.38L312.45,450.38M311.52,441.67L311.52,448.31M311.52,441.67L312.19,441.67M311.52,448.31L312.16,448.31M312.20,453.58L312.20,455.42M312.20,453.58L312.90,453.58M312.20,455.42L312.90,455.42M310.04,444.99L310.04,454.50M310.04,444.99L311.52,444.99M310.04,454.50L312.20,454.50M310.55,457.25L310.55,459.08M310.55,457.25L312.90,457.25M310.55,459.08L312.90,459.08M307.00,449.74L307.00,458.17M307.00,449.74L310.04,449.74M307.00,458.17L310.55,458.17M307.00,453.96L307.00,448.70M312.49,462.55L312.49,464.25M312.49,462.55L312.90,462.55M312.49,464.25L312.90,464.25M312.11,463.40L312.11,465.95M312.11,463.40L312.49,463.40M312.11,465.95L312.90,465.95M311.98,464.67L311.98,467.65M311.98,464.67L312.11,464.67M311.98,467.65L312.90,467.65M312.41,469.35L312.41,471.05M312.41,469.35L312.90,469.35M312.41,471.05L312.90,471.05M311.46,466.16L311.46,470.20M311.46,466.16L311.98,466.16M311.46,470.20L312.41,470.20M311.17,460.85L311.17,468.18M311.17,460.85L312.90,460.85M311.17,468.18L311.46,468.18M312.76,474.45L312.76,476.15M312.76,474.45L312.90,474.45M312.76,476.15L312.90,476.15M312.73,475.30L312.73,477.85M312.73,475.30L312.76,475.30M312.73,477.85L312.90,477.85M312.81,479.55L312.81,481.25M312.81,479.55L312.90,479.55M312.81,481.25L312.90,481.25M312.60,476.57L312.60,480.40M312.60,476.57L312.73,476.57M312.60,480.40L312.81,480.40M312.54,472.75L312.54,478.49M312.54,472.75L312.90,472.75M312.54,478.49L312.60,478.49M312.78,484.65L312.78,486.35M312.78,484.65L312.90,484.65M312.78,486.35L312.90,486.35M312.71,482.95L312.71,485.50M312.71,482.95L312.90,482.95M312.71,485.50L312.78,485.50M312.72,488.05L312.72,489.75M312.72,488.05L312.90,488.05M312.72,489.75L312.90,489.75M312.51,484.23L312.51,488.90M312.51,484.23L312.71,484.23M312.51,488.90L312.72,488.90M312.86,496.55L312.86,498.25M312.86,496.55L312.90,496.55M312.86,498.25L312.90,498.25M312.83,497.40L312.83,499.95M312.83,497.40L312.86,497.40M312.83,499.95L312.90,499.95M312.81,494.85L312.81,498.67M312.81,494.85L312.90,494.85M312.81,498.67L312.83,498.67M312.72,493.15L312.72,496.76M312.72,493.15L312.90,493.15M312.72,496.76L312.81,496.76M312.68,491.45L312.68,494.96M312.68,491.45L312.90,491.45M312.68,494.96L312.72,494.96M312.50,493.20L312.50,501.65M312.50,493.20L312.68,493.20M312.50,501.65L312.90,501.65M312.27,486.56L312.27,497.43M312.27,486.56L312.51,486.56M312.27,497.43L312.50,497.43M312.01,475.62L312.01,491.99M312.01,475.62L312.54,475.62M312.01,491.99L312.27,491.99M312.81,503.35L312.81,505.05M312.81,503.35L312.90,503.35M312.81,505.05L312.90,505.05M312.83,506.75L312.83,508.45M312.83,506.75L312.90,506.75M312.83,508.45L312.90,508.45M312.77,504.20L312.77,507.60M312.77,504.20L312.81,504.20M312.77,507.60L312.83,507.60M312.79,510.15L312.79,511.85M312.79,510.15L312.90,510.15M312.79,511.85L312.90,511.85M312.76,511.00L312.76,513.55M312.76,511.00L312.79,511.00M312.76,513.55L312.90,513.55M312.55,505.90L312.55,512.27M312.55,505.90L312.77,505.90M312.55,512.27L312.76,512.27M312.28,509.09L312.28,515.25M312.28,509.09L312.55,509.09M312.28,515.25L312.90,515.25M311.63,483.81L311.63,512.17M311.63,483.81L312.01,483.81M311.63,512.17L312.28,512.17M312.61,516.95L312.61,518.65M312.61,516.95L312.90,516.95M312.61,518.65L312.90,518.65M312.79,520.35L312.79,522.05M312.79,520.35L312.90,520.35M312.79,522.05L312.90,522.05M312.71,521.20L312.71,523.75M312.71,521.20L312.79,521.20M312.71,523.75L312.90,523.75M312.58,522.48L312.58,525.45M312.58,522.48L312.71,522.48M312.58,525.45L312.90,525.45M312.40,523.96L312.40,527.15M312.40,523.96L312.58,523.96M312.40,527.15L312.90,527.15M312.73,528.85L312.73,530.55M312.73,528.85L312.90,528.85M312.73,530.55L312.90,530.55M312.65,529.70L312.65,532.25M312.65,529.70L312.73,529.70M312.65,532.25L312.90,532.25M312.11,525.56L312.11,530.98M312.11,525.56L312.40,525.56M312.11,530.98L312.65,530.98M312.77,535.65L312.77,537.35M312.77,535.65L312.90,535.65M312.77,537.35L312.90,537.35M312.70,533.95L312.70,536.50M312.70,533.95L312.90,533.95M312.70,536.50L312.77,536.50M312.75,539.05L312.75,540.75M312.75,539.05L312.90,539.05M312.75,540.75L312.90,540.75M312.55,539.90L312.55,542.45M312.55,539.90L312.75,539.90M312.55,542.45L312.90,542.45M312.35,535.23L312.35,541.17M312.35,535.23L312.70,535.23M312.35,541.17L312.55,541.17M312.21,538.20L312.21,544.15M312.21,538.20L312.35,538.20M312.21,544.15L312.90,544.15M311.81,528.27L311.81,541.17M311.81,528.27L312.11,528.27M311.81,541.17L312.21,541.17M311.70,517.80L311.70,534.72M311.70,517.80L312.61,517.80M311.70,534.72L311.81,534.72M310.03,497.99L310.03,526.26M310.03,497.99L311.63,497.99M310.03,526.26L311.70,526.26M306.80,464.52L306.80,512.12M306.80,464.52L311.17,464.52M306.80,512.12L310.03,512.12M306.80,488.32L306.80,514.50M312.66,549.41L312.66,551.18M312.66,549.41L312.90,549.41M312.66,551.18L312.90,551.18M312.60,547.65L312.60,550.29M312.60,547.65L312.90,547.65M312.60,550.29L312.66,550.29M312.23,545.88L312.23,548.97M312.23,545.88L312.90,545.88M312.23,548.97L312.60,548.97M312.56,552.94L312.56,554.71M312.56,552.94L312.90,552.94M312.56,554.71L312.90,554.71M311.95,547.43L311.95,553.82M311.95,547.43L312.23,547.43M311.95,553.82L312.56,553.82M312.12,556.47L312.12,558.24M312.12,556.47L312.90,556.47M312.12,558.24L312.90,558.24M312.78,563.53L312.78,565.29M312.78,563.53L312.90,563.53M312.78,565.29L312.90,565.29M312.65,561.76L312.65,564.41M312.65,561.76L312.90,561.76M312.65,564.41L312.78,564.41M312.47,560.00L312.47,563.09M312.47,560.00L312.90,560.00M312.47,563.09L312.65,563.09M312.04,561.54L312.04,567.06M312.04,561.54L312.47,561.54M312.04,567.06L312.90,567.06M311.07,557.35L311.07,564.30M311.07,557.35L312.12,557.35M311.07,564.30L312.04,564.30M310.28,550.62L310.28,560.83M310.28,550.62L311.95,550.62M310.28,560.83L311.07,560.83M311.60,570.59L311.60,572.35M311.60,570.59L312.90,570.59M311.60,572.35L312.90,572.35M310.91,571.47L310.91,574.12M310.91,571.47L311.60,571.47M310.91,574.12L312.90,574.12M310.15,568.82L310.15,572.79M310.15,568.82L312.90,568.82M310.15,572.79L310.91,572.79M307.20,555.73L307.20,570.81M307.20,555.73L310.28,555.73M307.20,570.81L310.15,570.81M307.20,563.27L307.20,555.90M309.11,577.70L309.11,579.50M309.11,577.70L312.90,577.70M309.11,579.50L312.90,579.50M308.15,575.90L308.15,578.60M308.15,575.90L312.90,575.90M308.15,578.60L309.11,578.60M309.56,581.30L309.56,583.10M309.56,581.30L312.90,581.30M309.56,583.10L312.90,583.10M306.00,577.25L306.00,582.20M306.00,577.25L308.15,577.25M306.00,582.20L309.56,582.20M306.00,579.73L306.00,580.00M310.18,585.00L310.18,587.00M310.18,585.00L312.90,585.00M310.18,587.00L312.90,587.00M308.28,589.00L308.28,591.00M308.28,589.00L312.90,589.00M308.28,591.00L312.90,591.00M306.00,586.00L306.00,590.00M306.00,586.00L310.18,586.00M306.00,590.00L308.28,590.00M306.00,588.00L306.00,590.00M309.82,594.70L309.82,596.50M309.82,594.70L312.90,594.70M309.82,596.50L312.90,596.50M308.29,592.90L308.29,595.60M308.29,592.90L312.90,592.90M308.29,595.60L309.82,595.60M308.86,598.30L308.86,600.10M308.86,598.30L312.90,598.30M308.86,600.10L312.90,600.10M305.50,594.25L305.50,599.20M305.50,594.25L308.29,594.25M305.50,599.20L308.86,599.20M305.50,596.73L305.50,598.00M308.96,606.00L308.96,608.00M308.96,606.00L312.90,606.00M308.96,608.00L312.90,608.00M307.76,604.00L307.76,607.00M307.76,604.00L312.90,604.00M307.76,607.00L308.96,607.00M305.00,602.00L305.00,605.50M305.00,602.00L312.90,602.00M305.00,605.50L307.76,605.50M305.00,603.75L305.00,605.90M310.06,612.00L310.06,614.00M310.06,612.00L312.90,612.00M310.06,614.00L312.90,614.00M306.00,610.00L306.00,613.00M306.00,610.00L312.90,610.00M306.00,613.00L310.06,613.00M306.00,611.50L306.00,612.00M310.01,615.97L310.01,617.90M310.01,615.97L312.90,615.97M310.01,617.90L312.90,617.90M306.00,616.93L306.00,619.83M306.00,616.93L310.01,616.93M306.00,619.83L312.90,619.83M306.00,618.38L306.00,616.20" fill="none" stroke="#222" stroke-width="0.60"/>
<path d="M304.70,412.60L304.70,448.70M304.70,412.60L306.60,412.60M304.70,448.70L307.00,448.70M305.30,514.50L305.30,555.90M305.30,514.50L306.80,514.50M305.30,555.90L307.20,555.90M301.60,431.00L301.60,535.00M301.60,431.00L304.70,431.00M301.60,535.00L305.30,535.00M300.20,580.00L300.20,590.00M300.20,580.00L306.00,580.00M300.20,590.00L306.00,590.00M298.40,483.40L298.40,587.00M298.40,483.40L301.60,483.40M298.40,587.00L300.20,587.00M301.50,598.00L301.50,605.90M301.50,598.00L305.50,598.00M301.50,605.90L305.00,605.90M302.00,612.00L302.00,616.20M302.00,612.00L306.00,612.00M302.00,616.20L306.00,616.20M299.10,605.90L299.10,616.20M299.10,605.90L301.50,605.90M299.10,616.20L302.00,616.20M296.30,535.20L296.30,611.10M296.30,535.20L298.40,535.20M296.30,611.10L299.10,611.10" fill="none" stroke="#444" stroke-width="0.90"/>
<text x="11.70" y="24.80" font-size="16.50" text-anchor="start" font-weight="bold" fill="#000">A</text>
<text x="227.00" y="24.80" font-size="16.50" text-anchor="start" font-weight="bold" fill="#000">B</text>
<text x="10.40" y="369.20" font-size="17.50" text-anchor="start" font-weight="bold" fill="#000">C</text>
<text x="282.80" y="369.00" font-size="17.50" text-anchor="start" font-weight="bold" fill="#000">D</text>
<rect x="1" y="1" width="518" height="630" fill="none" stroke="#000" stroke-width="2"/>
</svg>
</body></html>
